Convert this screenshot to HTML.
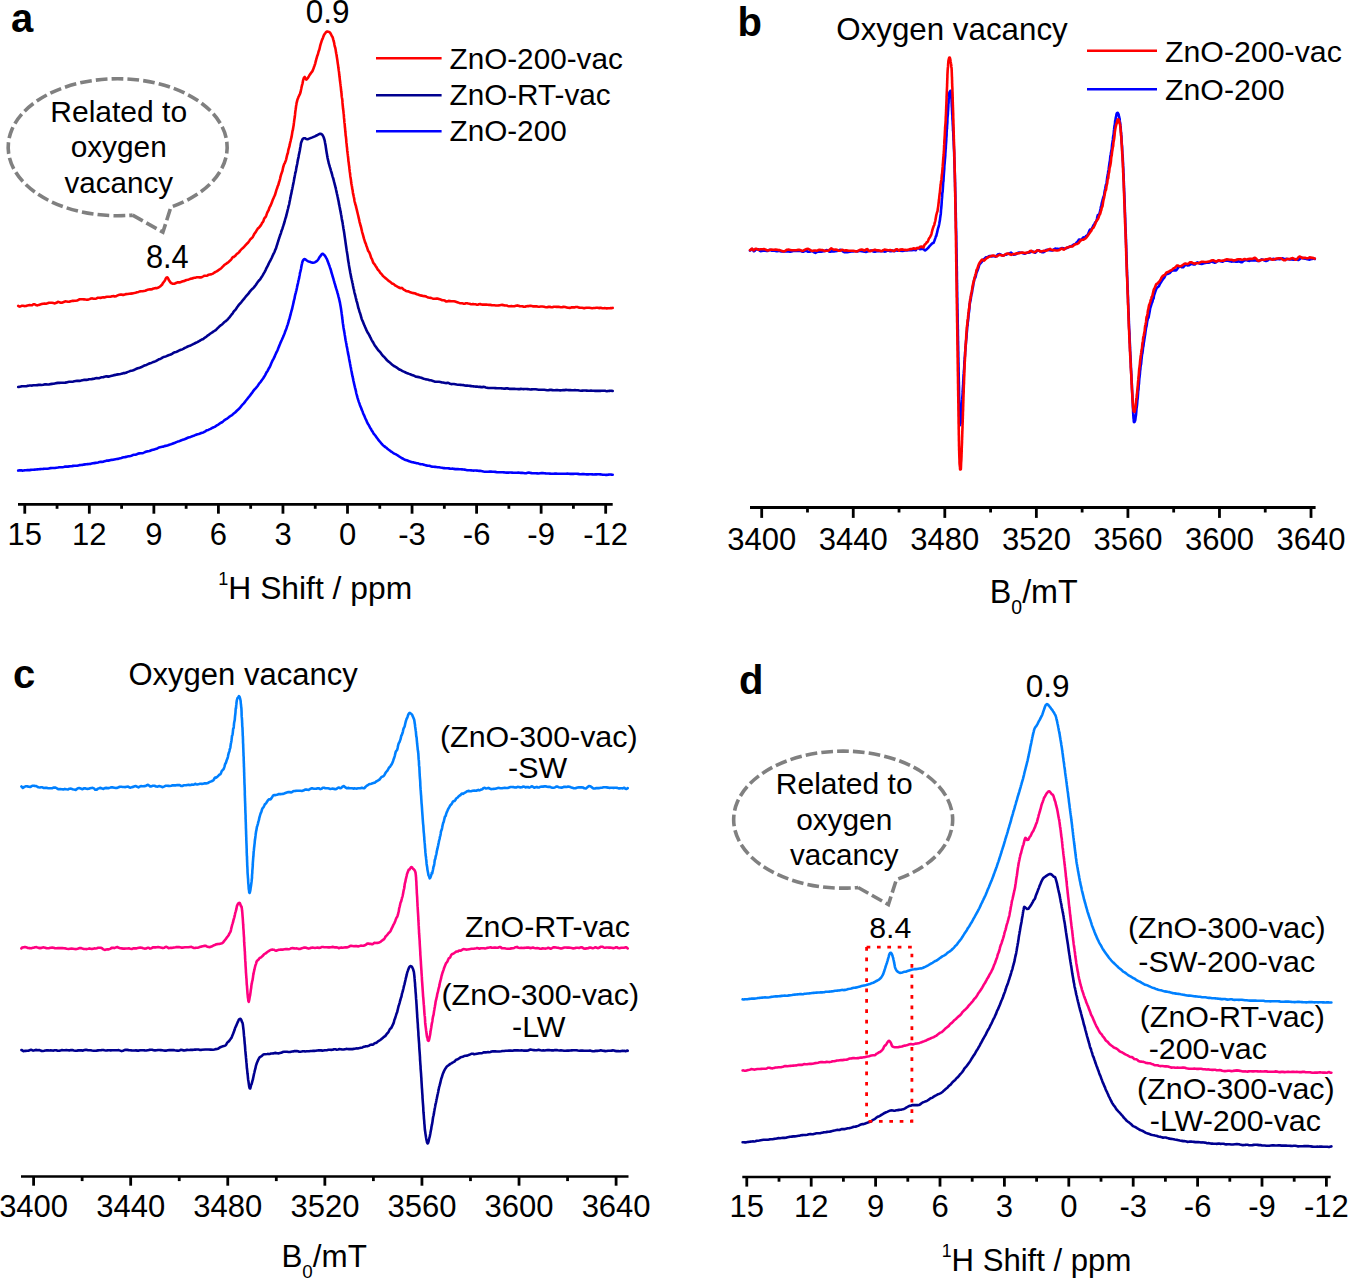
<!DOCTYPE html><html><head><meta charset="utf-8"><style>html,body{margin:0;padding:0;background:#fff;}svg{display:block;}text{font-family:"Liberation Sans",sans-serif;}</style></head><body>
<svg width="1348" height="1279" viewBox="0 0 1348 1279">
<rect width="1348" height="1279" fill="#fff"/>
<line x1="18.0" y1="504.30" x2="612.7" y2="504.30" stroke="#000" stroke-width="2.70"/>
<line x1="24.77" y1="504.30" x2="24.77" y2="513.70" stroke="#000" stroke-width="2.8"/>
<line x1="89.32" y1="504.30" x2="89.32" y2="513.70" stroke="#000" stroke-width="2.8"/>
<line x1="153.87" y1="504.30" x2="153.87" y2="513.70" stroke="#000" stroke-width="2.8"/>
<line x1="218.41" y1="504.30" x2="218.41" y2="513.70" stroke="#000" stroke-width="2.8"/>
<line x1="282.95" y1="504.30" x2="282.95" y2="513.70" stroke="#000" stroke-width="2.8"/>
<line x1="347.50" y1="504.30" x2="347.50" y2="513.70" stroke="#000" stroke-width="2.8"/>
<line x1="412.05" y1="504.30" x2="412.05" y2="513.70" stroke="#000" stroke-width="2.8"/>
<line x1="476.59" y1="504.30" x2="476.59" y2="513.70" stroke="#000" stroke-width="2.8"/>
<line x1="541.13" y1="504.30" x2="541.13" y2="513.70" stroke="#000" stroke-width="2.8"/>
<line x1="605.68" y1="504.30" x2="605.68" y2="513.70" stroke="#000" stroke-width="2.8"/>
<line x1="57.05" y1="504.30" x2="57.05" y2="508.80" stroke="#000" stroke-width="2.8"/>
<line x1="121.59" y1="504.30" x2="121.59" y2="508.80" stroke="#000" stroke-width="2.8"/>
<line x1="186.14" y1="504.30" x2="186.14" y2="508.80" stroke="#000" stroke-width="2.8"/>
<line x1="250.68" y1="504.30" x2="250.68" y2="508.80" stroke="#000" stroke-width="2.8"/>
<line x1="315.23" y1="504.30" x2="315.23" y2="508.80" stroke="#000" stroke-width="2.8"/>
<line x1="379.77" y1="504.30" x2="379.77" y2="508.80" stroke="#000" stroke-width="2.8"/>
<line x1="444.32" y1="504.30" x2="444.32" y2="508.80" stroke="#000" stroke-width="2.8"/>
<line x1="508.86" y1="504.30" x2="508.86" y2="508.80" stroke="#000" stroke-width="2.8"/>
<line x1="573.41" y1="504.30" x2="573.41" y2="508.80" stroke="#000" stroke-width="2.8"/>
<text transform="translate(24.8 545.0) scale(1 1.040)" font-size="31" text-anchor="middle" font-weight="normal" fill="#000">15</text>
<text transform="translate(89.3 545.0) scale(1 1.040)" font-size="31" text-anchor="middle" font-weight="normal" fill="#000">12</text>
<text transform="translate(153.9 545.0) scale(1 1.040)" font-size="31" text-anchor="middle" font-weight="normal" fill="#000">9</text>
<text transform="translate(218.4 545.0) scale(1 1.040)" font-size="31" text-anchor="middle" font-weight="normal" fill="#000">6</text>
<text transform="translate(283.0 545.0) scale(1 1.040)" font-size="31" text-anchor="middle" font-weight="normal" fill="#000">3</text>
<text transform="translate(347.5 545.0) scale(1 1.040)" font-size="31" text-anchor="middle" font-weight="normal" fill="#000">0</text>
<text transform="translate(412.0 545.0) scale(1 1.040)" font-size="31" text-anchor="middle" font-weight="normal" fill="#000">-3</text>
<text transform="translate(476.6 545.0) scale(1 1.040)" font-size="31" text-anchor="middle" font-weight="normal" fill="#000">-6</text>
<text transform="translate(541.1 545.0) scale(1 1.040)" font-size="31" text-anchor="middle" font-weight="normal" fill="#000">-9</text>
<text transform="translate(605.7 545.0) scale(1 1.040)" font-size="31" text-anchor="middle" font-weight="normal" fill="#000">-12</text>
<line x1="742.3" y1="1177.00" x2="1330.7" y2="1177.00" stroke="#000" stroke-width="2.70"/>
<line x1="746.79" y1="1177.00" x2="746.79" y2="1186.60" stroke="#000" stroke-width="2.8"/>
<line x1="811.20" y1="1177.00" x2="811.20" y2="1186.60" stroke="#000" stroke-width="2.8"/>
<line x1="875.60" y1="1177.00" x2="875.60" y2="1186.60" stroke="#000" stroke-width="2.8"/>
<line x1="940.00" y1="1177.00" x2="940.00" y2="1186.60" stroke="#000" stroke-width="2.8"/>
<line x1="1004.40" y1="1177.00" x2="1004.40" y2="1186.60" stroke="#000" stroke-width="2.8"/>
<line x1="1068.80" y1="1177.00" x2="1068.80" y2="1186.60" stroke="#000" stroke-width="2.8"/>
<line x1="1133.20" y1="1177.00" x2="1133.20" y2="1186.60" stroke="#000" stroke-width="2.8"/>
<line x1="1197.60" y1="1177.00" x2="1197.60" y2="1186.60" stroke="#000" stroke-width="2.8"/>
<line x1="1262.00" y1="1177.00" x2="1262.00" y2="1186.60" stroke="#000" stroke-width="2.8"/>
<line x1="1326.40" y1="1177.00" x2="1326.40" y2="1186.60" stroke="#000" stroke-width="2.8"/>
<line x1="779.00" y1="1177.00" x2="779.00" y2="1181.70" stroke="#000" stroke-width="2.8"/>
<line x1="843.40" y1="1177.00" x2="843.40" y2="1181.70" stroke="#000" stroke-width="2.8"/>
<line x1="907.80" y1="1177.00" x2="907.80" y2="1181.70" stroke="#000" stroke-width="2.8"/>
<line x1="972.20" y1="1177.00" x2="972.20" y2="1181.70" stroke="#000" stroke-width="2.8"/>
<line x1="1036.60" y1="1177.00" x2="1036.60" y2="1181.70" stroke="#000" stroke-width="2.8"/>
<line x1="1101.00" y1="1177.00" x2="1101.00" y2="1181.70" stroke="#000" stroke-width="2.8"/>
<line x1="1165.40" y1="1177.00" x2="1165.40" y2="1181.70" stroke="#000" stroke-width="2.8"/>
<line x1="1229.80" y1="1177.00" x2="1229.80" y2="1181.70" stroke="#000" stroke-width="2.8"/>
<line x1="1294.20" y1="1177.00" x2="1294.20" y2="1181.70" stroke="#000" stroke-width="2.8"/>
<text transform="translate(746.8 1216.8) scale(1 1.040)" font-size="31" text-anchor="middle" font-weight="normal" fill="#000">15</text>
<text transform="translate(811.2 1216.8) scale(1 1.040)" font-size="31" text-anchor="middle" font-weight="normal" fill="#000">12</text>
<text transform="translate(875.6 1216.8) scale(1 1.040)" font-size="31" text-anchor="middle" font-weight="normal" fill="#000">9</text>
<text transform="translate(940.0 1216.8) scale(1 1.040)" font-size="31" text-anchor="middle" font-weight="normal" fill="#000">6</text>
<text transform="translate(1004.4 1216.8) scale(1 1.040)" font-size="31" text-anchor="middle" font-weight="normal" fill="#000">3</text>
<text transform="translate(1068.8 1216.8) scale(1 1.040)" font-size="31" text-anchor="middle" font-weight="normal" fill="#000">0</text>
<text transform="translate(1133.2 1216.8) scale(1 1.040)" font-size="31" text-anchor="middle" font-weight="normal" fill="#000">-3</text>
<text transform="translate(1197.6 1216.8) scale(1 1.040)" font-size="31" text-anchor="middle" font-weight="normal" fill="#000">-6</text>
<text transform="translate(1262.0 1216.8) scale(1 1.040)" font-size="31" text-anchor="middle" font-weight="normal" fill="#000">-9</text>
<text transform="translate(1326.4 1216.8) scale(1 1.040)" font-size="31" text-anchor="middle" font-weight="normal" fill="#000">-12</text>
<line x1="750.0" y1="507.50" x2="1315.6" y2="507.50" stroke="#000" stroke-width="2.85"/>
<line x1="761.70" y1="507.50" x2="761.70" y2="517.90" stroke="#000" stroke-width="2.8"/>
<line x1="853.25" y1="507.50" x2="853.25" y2="517.90" stroke="#000" stroke-width="2.8"/>
<line x1="944.80" y1="507.50" x2="944.80" y2="517.90" stroke="#000" stroke-width="2.8"/>
<line x1="1036.36" y1="507.50" x2="1036.36" y2="517.90" stroke="#000" stroke-width="2.8"/>
<line x1="1127.91" y1="507.50" x2="1127.91" y2="517.90" stroke="#000" stroke-width="2.8"/>
<line x1="1219.46" y1="507.50" x2="1219.46" y2="517.90" stroke="#000" stroke-width="2.8"/>
<line x1="1311.01" y1="507.50" x2="1311.01" y2="517.90" stroke="#000" stroke-width="2.8"/>
<line x1="807.48" y1="507.50" x2="807.48" y2="512.50" stroke="#000" stroke-width="2.8"/>
<line x1="899.03" y1="507.50" x2="899.03" y2="512.50" stroke="#000" stroke-width="2.8"/>
<line x1="990.58" y1="507.50" x2="990.58" y2="512.50" stroke="#000" stroke-width="2.8"/>
<line x1="1082.13" y1="507.50" x2="1082.13" y2="512.50" stroke="#000" stroke-width="2.8"/>
<line x1="1173.68" y1="507.50" x2="1173.68" y2="512.50" stroke="#000" stroke-width="2.8"/>
<line x1="1265.24" y1="507.50" x2="1265.24" y2="512.50" stroke="#000" stroke-width="2.8"/>
<text transform="translate(761.7 550.3) scale(1 1.040)" font-size="31" text-anchor="middle" font-weight="normal" fill="#000">3400</text>
<text transform="translate(853.3 550.3) scale(1 1.040)" font-size="31" text-anchor="middle" font-weight="normal" fill="#000">3440</text>
<text transform="translate(944.8 550.3) scale(1 1.040)" font-size="31" text-anchor="middle" font-weight="normal" fill="#000">3480</text>
<text transform="translate(1036.4 550.3) scale(1 1.040)" font-size="31" text-anchor="middle" font-weight="normal" fill="#000">3520</text>
<text transform="translate(1127.9 550.3) scale(1 1.040)" font-size="31" text-anchor="middle" font-weight="normal" fill="#000">3560</text>
<text transform="translate(1219.5 550.3) scale(1 1.040)" font-size="31" text-anchor="middle" font-weight="normal" fill="#000">3600</text>
<text transform="translate(1311.0 550.3) scale(1 1.040)" font-size="31" text-anchor="middle" font-weight="normal" fill="#000">3640</text>
<line x1="21.0" y1="1176.50" x2="628.5" y2="1176.50" stroke="#000" stroke-width="2.70"/>
<line x1="33.60" y1="1176.50" x2="33.60" y2="1185.70" stroke="#000" stroke-width="2.8"/>
<line x1="130.68" y1="1176.50" x2="130.68" y2="1185.70" stroke="#000" stroke-width="2.8"/>
<line x1="227.77" y1="1176.50" x2="227.77" y2="1185.70" stroke="#000" stroke-width="2.8"/>
<line x1="324.85" y1="1176.50" x2="324.85" y2="1185.70" stroke="#000" stroke-width="2.8"/>
<line x1="421.94" y1="1176.50" x2="421.94" y2="1185.70" stroke="#000" stroke-width="2.8"/>
<line x1="519.02" y1="1176.50" x2="519.02" y2="1185.70" stroke="#000" stroke-width="2.8"/>
<line x1="616.10" y1="1176.50" x2="616.10" y2="1185.70" stroke="#000" stroke-width="2.8"/>
<line x1="82.14" y1="1176.50" x2="82.14" y2="1181.10" stroke="#000" stroke-width="2.8"/>
<line x1="179.23" y1="1176.50" x2="179.23" y2="1181.10" stroke="#000" stroke-width="2.8"/>
<line x1="276.31" y1="1176.50" x2="276.31" y2="1181.10" stroke="#000" stroke-width="2.8"/>
<line x1="373.39" y1="1176.50" x2="373.39" y2="1181.10" stroke="#000" stroke-width="2.8"/>
<line x1="470.48" y1="1176.50" x2="470.48" y2="1181.10" stroke="#000" stroke-width="2.8"/>
<line x1="567.56" y1="1176.50" x2="567.56" y2="1181.10" stroke="#000" stroke-width="2.8"/>
<text transform="translate(33.6 1216.6) scale(1 1.040)" font-size="31" text-anchor="middle" font-weight="normal" fill="#000">3400</text>
<text transform="translate(130.7 1216.6) scale(1 1.040)" font-size="31" text-anchor="middle" font-weight="normal" fill="#000">3440</text>
<text transform="translate(227.8 1216.6) scale(1 1.040)" font-size="31" text-anchor="middle" font-weight="normal" fill="#000">3480</text>
<text transform="translate(324.9 1216.6) scale(1 1.040)" font-size="31" text-anchor="middle" font-weight="normal" fill="#000">3520</text>
<text transform="translate(421.9 1216.6) scale(1 1.040)" font-size="31" text-anchor="middle" font-weight="normal" fill="#000">3560</text>
<text transform="translate(519.0 1216.6) scale(1 1.040)" font-size="31" text-anchor="middle" font-weight="normal" fill="#000">3600</text>
<text transform="translate(616.1 1216.6) scale(1 1.040)" font-size="31" text-anchor="middle" font-weight="normal" fill="#000">3640</text>
<path d="M18.2 305.9L18.9 306.3L19.6 306.6L20.4 306.4L21.2 306.1L22.1 305.8L23.0 305.8L24.0 306.0L25.1 306.1L26.1 305.9L27.3 305.6L28.4 305.2L29.6 305.1L30.8 305.3L32.1 305.3L33.4 304.3L34.7 304.2L36.0 305.1L37.4 305.4L38.8 304.9L40.2 304.5L41.6 304.1L43.1 303.7L44.5 303.6L46.0 303.7L47.5 303.3L49.0 302.8L50.5 302.8L52.0 302.8L53.4 303.0L54.9 303.4L56.4 302.8L57.9 301.8L59.4 302.2L60.8 302.7L62.3 302.6L63.7 302.0L65.2 301.4L66.6 301.5L68.0 301.7L69.3 301.7L70.6 301.2L72.0 300.9L73.2 300.9L74.5 300.7L75.7 300.7L77.1 300.5L78.5 299.8L79.9 299.3L81.3 299.2L82.6 299.3L84.0 299.4L85.4 299.5L86.8 299.7L88.2 299.6L89.6 299.1L91.0 298.5L92.4 298.4L93.7 298.7L95.1 298.7L96.5 298.4L97.8 297.8L99.2 297.7L100.5 297.9L101.9 297.5L103.2 297.3L104.5 297.5L105.8 297.1L107.1 296.8L108.4 296.7L109.7 296.7L111.0 296.6L112.2 296.2L113.5 296.1L114.7 296.5L115.9 296.3L117.1 295.7L118.3 295.1L119.4 294.7L120.6 294.5L121.7 294.6L122.8 294.9L123.9 294.9L125.0 294.4L126.0 294.1L127.7 294.0L129.3 293.8L130.9 293.6L132.5 293.4L134.0 293.1L135.6 292.7L137.0 292.3L138.5 291.9L139.9 291.4L141.3 291.3L142.6 291.2L143.9 291.0L145.2 290.8L146.4 290.3L147.6 289.7L148.8 289.5L149.9 289.4L150.9 289.4L152.0 289.2L152.9 288.8L153.9 288.4L154.8 288.2L155.6 288.1L156.4 288.2L158.6 287.5L160.1 286.5L161.0 285.6L161.6 285.2L162.0 284.8L162.4 284.0L163.0 283.0L163.8 281.9L164.6 281.0L165.2 279.8L165.9 278.3L166.5 277.6L167.2 277.4L167.8 277.8L168.3 278.8L168.8 280.0L169.5 281.0L170.3 282.2L171.5 283.3L172.4 283.6L173.5 283.8L174.7 283.7L176.0 283.0L177.4 282.4L178.8 282.4L180.1 282.4L181.5 281.8L182.8 281.3L184.0 281.1L185.3 280.5L186.5 280.0L187.7 279.8L188.9 279.4L190.1 278.9L191.2 278.6L192.3 278.5L193.4 278.0L194.5 277.7L195.8 277.6L197.1 277.3L198.2 277.3L199.4 277.4L200.6 277.4L201.8 277.2L203.0 276.5L204.1 275.8L205.3 275.8L206.4 275.8L207.6 275.4L208.7 274.7L209.9 274.5L211.1 274.4L212.3 273.9L213.4 273.3L214.5 272.5L215.6 271.9L216.7 271.4L217.8 270.7L218.9 269.8L219.9 269.2L221.0 268.5L222.0 267.4L223.0 266.4L224.0 265.3L225.0 264.5L226.0 263.9L226.9 263.2L227.8 262.6L228.7 262.0L229.4 261.2L230.1 260.6L231.1 259.6L231.7 258.7L232.2 257.8L233.1 257.1L233.8 256.9L234.5 256.3L235.4 255.7L236.2 254.6L237.2 253.6L238.1 253.1L239.1 252.1L240.0 250.9L240.8 250.0L241.7 249.0L242.6 248.3L243.5 247.5L244.5 246.4L245.4 245.3L246.3 244.3L247.1 243.5L248.0 242.7L248.7 241.8L249.5 240.6L250.1 239.6L250.8 238.9L251.5 238.3L252.2 237.6L252.9 236.8L253.6 235.3L254.3 233.9L255.0 233.0L255.7 232.1L256.4 230.9L257.1 229.7L257.8 228.6L258.6 227.9L259.3 227.3L260.0 226.4L260.8 225.4L261.5 224.1L262.1 222.9L262.8 222.2L263.4 221.1L264.0 219.2L264.6 218.0L265.2 217.4L265.8 216.6L266.3 215.4L266.8 213.9L267.4 212.3L267.9 211.3L268.5 210.5L269.0 209.0L269.5 207.4L270.0 206.6L270.5 205.8L271.0 204.6L271.4 203.5L271.9 202.4L272.4 200.9L272.9 199.5L273.3 198.6L273.8 197.5L274.3 196.3L274.7 195.5L275.1 194.6L275.5 193.2L275.9 191.8L276.3 190.4L276.7 189.2L277.1 188.3L277.5 186.9L277.9 185.7L278.3 185.1L278.6 183.8L279.0 182.3L279.4 181.2L279.7 180.2L280.1 178.8L280.4 177.1L280.8 175.7L281.1 174.7L281.4 173.7L281.8 172.6L282.1 171.8L282.4 171.0L282.7 169.5L283.0 167.9L283.3 167.0L283.6 165.9L284.0 164.5L284.3 163.9L284.7 163.3L285.0 162.5L285.3 161.7L285.7 160.7L286.1 159.6L286.5 157.8L287.0 155.6L287.2 154.8L287.5 154.1L287.7 153.4L288.0 152.3L288.2 150.7L288.5 149.4L288.8 148.4L289.1 147.4L289.4 146.5L289.7 145.1L290.0 143.3L290.3 142.2L290.6 141.1L290.9 139.6L291.2 138.3L291.5 137.2L291.7 136.0L292.0 134.2L292.3 132.2L292.5 131.0L292.8 130.2L293.0 129.0L293.2 127.8L293.4 126.6L293.7 125.0L293.8 123.8L294.0 122.4L294.2 120.6L294.4 119.3L294.6 118.0L294.8 116.8L294.9 115.8L295.1 114.2L295.2 112.6L295.4 111.1L295.6 109.7L295.7 108.8L295.9 107.9L296.0 106.6L296.2 105.4L296.4 104.5L296.5 103.6L296.7 102.6L297.2 100.6L297.6 99.2L298.1 98.0L298.5 96.8L299.0 95.9L299.4 95.0L299.9 94.1L300.3 93.0L300.6 91.9L300.9 90.5L301.2 89.1L301.5 87.5L301.9 85.8L302.2 84.6L302.5 83.6L302.8 82.0L303.1 80.3L303.4 79.3L303.6 78.7L303.9 77.8L304.8 77.0L305.5 78.5L306.4 79.6L307.0 79.0L307.8 78.1L308.5 77.0L309.3 75.5L310.0 74.4L310.6 73.6L311.2 72.7L311.7 72.1L312.3 71.4L312.9 70.1L313.6 68.3L313.9 67.4L314.2 66.4L314.6 65.4L314.9 64.5L315.3 63.3L315.6 61.8L316.0 60.5L316.3 59.2L316.7 57.8L317.1 56.4L317.4 55.5L317.8 54.6L318.1 53.5L318.5 51.9L318.9 50.6L319.3 49.7L319.7 48.0L320.1 46.2L320.5 44.7L320.9 43.4L321.3 42.1L321.7 40.8L322.1 39.8L322.5 38.9L322.9 37.9L323.3 36.8L324.0 35.0L324.7 33.9L325.4 33.0L326.1 32.0L326.8 31.5L327.5 31.5L328.4 31.8L329.2 32.0L330.1 32.8L331.0 34.2L331.8 36.0L332.2 36.5L332.5 37.0L332.9 38.1L333.2 39.4L333.5 40.5L333.9 41.8L334.2 43.3L334.5 45.0L334.8 46.5L335.2 47.5L335.5 48.9L335.7 50.1L335.9 51.6L336.1 52.9L336.3 53.8L336.5 54.6L336.6 55.6L336.8 56.7L337.0 58.0L337.2 59.3L337.4 60.5L337.6 62.1L337.8 63.6L338.0 64.8L338.2 66.1L338.3 67.3L338.5 68.5L338.7 70.2L338.9 71.4L339.1 72.7L339.2 74.3L339.4 75.6L339.5 76.8L339.7 78.0L339.8 79.2L339.9 80.3L340.1 81.5L340.2 82.3L340.3 83.2L340.5 84.5L340.6 85.9L340.8 87.1L340.9 88.2L341.0 89.5L341.2 91.1L341.3 92.1L341.5 93.2L341.6 94.8L341.7 96.2L341.9 97.4L342.1 98.4L342.2 99.2L342.4 100.7L342.5 102.9L342.7 105.1L342.8 106.0L342.9 106.8L343.0 108.3L343.2 109.6L343.3 110.2L343.4 111.1L343.5 112.2L343.6 113.4L343.8 114.6L343.9 116.2L344.0 117.9L344.2 119.4L344.3 120.9L344.4 122.2L344.5 123.0L344.7 124.1L344.8 125.8L344.9 127.3L345.1 128.6L345.2 130.1L345.3 131.5L345.5 133.0L345.6 134.6L345.7 135.8L345.9 136.5L346.0 137.6L346.2 139.4L346.3 141.3L346.4 142.7L346.6 143.7L346.7 145.0L346.8 146.5L347.0 147.5L347.1 148.7L347.2 150.2L347.3 151.3L347.5 152.3L347.6 153.4L347.8 154.7L347.9 155.9L348.1 157.3L348.3 159.2L348.4 161.0L348.6 162.1L348.8 163.3L348.9 164.6L349.1 165.8L349.3 167.2L349.4 168.7L349.6 170.1L349.7 171.4L349.9 172.6L350.1 173.7L350.2 175.2L350.4 176.7L350.6 177.8L350.7 178.4L350.9 179.7L351.1 181.4L351.2 182.6L351.4 183.7L351.6 184.6L351.7 185.2L351.9 186.2L352.1 187.5L352.2 188.6L352.4 189.3L352.7 190.8L352.9 192.7L353.2 194.2L353.5 195.3L353.7 196.5L354.0 197.8L354.3 199.3L354.5 201.0L354.8 202.1L355.1 203.1L355.3 204.3L355.6 205.0L355.9 205.9L356.1 207.2L356.4 208.2L356.7 209.4L357.0 210.6L357.2 211.5L357.5 212.8L357.8 214.0L358.1 215.2L358.4 216.6L358.7 217.9L359.0 219.1L359.3 220.6L359.6 222.1L359.9 223.1L360.2 224.1L360.5 225.5L360.9 226.7L361.2 227.8L361.5 229.2L361.8 230.5L362.1 231.8L362.4 232.9L362.7 233.9L363.1 235.3L363.5 236.9L363.9 238.4L364.3 239.6L364.7 241.0L365.1 242.3L365.5 243.1L365.9 244.1L366.3 245.4L366.7 246.4L367.1 247.6L367.6 249.1L368.0 250.5L368.5 251.4L369.0 251.9L369.5 252.9L370.0 254.2L370.5 255.7L371.0 257.4L371.5 258.4L372.0 259.2L372.5 260.6L373.0 262.1L373.5 263.1L374.0 263.6L374.7 264.5L375.4 265.7L376.1 266.7L376.8 267.8L377.4 269.0L378.1 270.0L378.8 270.6L379.5 271.6L380.3 272.9L381.1 273.7L382.0 274.6L382.8 275.8L383.7 276.6L384.5 277.3L385.4 278.1L386.3 278.8L387.2 279.6L388.2 280.4L389.1 281.1L390.1 281.8L391.0 282.6L392.0 283.4L392.9 283.7L393.8 284.1L394.6 285.0L395.5 285.7L396.5 286.2L397.7 286.8L399.0 287.5L399.9 288.0L400.8 288.1L401.7 287.9L402.7 288.6L403.7 289.6L404.8 290.2L406.0 290.9L407.2 291.2L408.4 291.4L409.7 292.0L411.1 292.6L412.6 293.0L413.6 293.1L414.7 293.2L415.8 293.7L416.9 294.2L418.0 294.5L419.2 295.1L420.4 295.4L421.6 295.6L422.9 296.0L424.2 296.1L425.5 296.3L426.8 296.9L428.2 297.5L429.5 297.7L430.9 297.9L432.3 298.4L433.8 298.7L435.2 298.7L436.3 298.6L437.5 298.5L438.7 298.9L439.9 299.3L441.1 299.7L442.3 300.2L443.5 300.3L444.8 300.6L446.0 301.5L447.3 301.4L448.6 300.9L449.9 301.1L451.2 301.3L452.5 301.2L453.8 301.3L455.2 301.6L456.5 302.0L457.9 302.4L459.2 302.9L460.6 303.2L461.9 303.3L463.3 303.6L464.7 303.7L465.9 303.3L467.0 303.2L468.2 303.5L469.4 303.7L470.6 304.1L471.7 304.2L472.9 304.0L474.1 304.3L475.3 304.3L476.5 304.6L477.7 304.8L478.9 304.2L480.1 304.0L481.3 304.5L482.6 304.6L483.8 304.6L485.1 304.6L486.4 304.5L487.7 304.7L489.0 304.9L490.3 304.9L491.6 305.1L493.0 305.2L494.4 305.3L495.8 305.5L497.2 305.5L498.7 305.4L499.8 305.2L501.0 305.0L502.1 304.9L503.2 305.1L504.4 305.4L505.5 305.5L506.7 305.5L507.8 305.9L509.0 306.3L510.1 306.2L511.3 306.1L512.5 306.3L513.7 306.3L514.9 306.1L516.1 305.7L517.3 305.4L518.6 305.8L519.8 306.3L521.1 306.3L522.4 306.2L523.7 306.7L525.0 306.8L526.3 306.2L527.7 306.1L529.0 306.1L530.4 305.7L531.8 306.0L533.3 306.4L534.7 306.4L536.2 306.3L537.7 306.6L539.2 306.7L540.8 306.5L542.4 306.5L544.0 306.7L545.1 307.0L546.2 307.2L547.4 307.1L548.6 306.9L549.9 306.8L551.1 307.2L552.4 307.3L553.8 306.8L555.1 306.7L556.5 306.9L557.9 306.9L559.3 306.9L560.8 307.2L562.2 307.1L563.7 306.9L565.2 307.0L566.7 307.4L568.2 307.8L569.7 307.9L571.3 307.4L572.8 307.3L574.3 307.4L575.8 307.0L577.4 307.0L578.9 307.6L580.4 307.7L581.9 307.7L583.4 308.1L584.9 308.1L586.4 307.7L587.9 307.8L589.3 307.8L590.8 308.0L592.2 308.2L593.6 308.0L594.9 308.0L596.3 307.8L597.6 307.8L598.9 308.1L600.1 307.9L601.3 307.9L602.5 308.2L603.7 308.2L604.8 308.1L605.8 308.2L606.9 308.4L607.8 308.3L608.8 308.3L609.7 308.2L610.5 308.1L611.3 308.3L612.0 308.1L612.7 307.9" fill="none" stroke="#ff0000" stroke-width="2.6" stroke-linejoin="round" stroke-linecap="round"/>
<path d="M18.2 387.0L18.9 386.9L19.6 386.7L20.4 386.6L21.2 386.4L22.1 386.3L23.0 386.2L24.0 386.2L25.1 386.2L26.1 386.2L27.3 385.9L28.4 385.7L29.6 385.5L30.8 385.5L32.1 385.6L33.4 385.3L34.7 385.3L36.0 385.3L37.4 385.1L38.8 384.9L40.2 384.9L41.6 385.0L43.1 384.8L44.5 384.4L46.0 384.3L47.5 384.5L49.0 384.5L50.5 384.1L52.0 383.9L53.4 383.8L54.9 383.4L56.4 383.1L57.9 382.9L59.4 382.9L60.8 382.8L62.3 382.7L63.7 382.7L65.2 382.6L66.6 382.4L68.0 382.1L69.3 381.8L70.6 381.7L72.0 381.7L73.2 381.6L74.5 381.3L75.7 381.0L77.0 380.9L78.4 380.9L79.7 380.9L81.1 380.6L82.4 380.2L83.7 379.9L85.1 379.9L86.4 379.9L87.7 379.7L89.0 379.3L90.3 379.2L91.6 379.1L92.9 378.9L94.2 378.7L95.5 378.3L96.8 378.1L98.1 378.2L99.4 378.1L100.6 377.6L101.9 377.3L103.2 377.2L104.4 376.7L105.7 376.4L106.9 376.4L108.2 376.6L109.4 376.4L110.6 376.1L111.9 375.7L113.1 375.4L114.3 375.1L115.5 374.9L116.7 374.6L117.9 374.4L119.1 374.2L120.2 374.1L121.4 373.8L122.6 373.4L123.7 373.1L124.9 373.1L126.0 372.8L127.3 372.1L128.7 371.6L130.0 371.1L131.3 370.8L132.6 370.5L133.9 370.1L135.2 369.4L136.5 368.8L137.7 368.3L139.0 367.9L140.3 367.5L141.5 367.0L142.8 366.4L144.0 365.7L145.2 365.3L146.4 364.9L147.6 364.3L148.8 363.7L150.0 363.2L151.2 362.9L152.4 362.4L153.5 361.9L154.7 361.5L155.8 361.1L156.9 360.5L158.0 359.8L159.1 359.2L160.2 358.9L161.3 358.3L162.4 357.6L163.4 357.1L164.5 356.8L165.5 356.5L166.5 356.1L167.9 355.5L169.3 354.9L170.7 354.5L172.0 353.8L173.4 352.9L174.7 352.3L176.0 351.9L177.2 351.5L178.5 350.8L179.7 350.2L180.9 349.7L182.1 349.4L183.3 348.9L184.4 348.2L185.5 347.6L186.6 347.1L187.7 346.5L188.7 346.1L189.7 345.7L190.7 345.4L191.7 344.9L192.7 344.4L193.6 343.9L194.5 343.5L196.0 342.7L197.3 342.1L198.5 341.5L199.6 340.8L200.7 340.1L201.7 339.6L202.6 339.3L203.5 338.8L204.4 338.0L205.3 337.4L206.3 336.7L207.2 335.9L208.3 335.2L209.4 334.4L210.3 333.6L211.3 333.0L212.3 332.4L213.3 331.6L214.3 331.0L215.3 330.4L216.4 329.5L217.4 328.4L218.5 327.3L219.5 326.3L220.6 325.4L221.6 324.7L222.6 323.9L223.6 322.9L224.5 322.0L225.5 321.3L226.4 320.7L227.2 319.9L228.2 318.8L229.0 317.8L229.9 316.8L230.7 315.7L231.5 314.7L232.2 313.9L232.9 312.9L233.6 311.8L234.3 310.9L235.1 310.1L235.8 309.2L236.5 308.2L237.3 307.1L238.1 305.9L239.0 304.7L239.8 303.8L240.6 303.0L241.4 302.1L242.2 301.0L243.1 299.9L244.0 298.9L244.8 297.8L245.7 296.7L246.6 295.7L247.5 294.7L248.4 293.6L249.3 292.4L250.1 291.3L250.9 290.4L251.7 289.5L252.5 288.8L253.2 288.1L253.9 287.3L254.9 286.1L255.8 285.0L256.6 283.8L257.4 282.6L258.2 281.5L258.9 280.6L259.6 280.0L260.3 279.2L260.9 278.1L261.6 277.0L262.2 276.2L262.8 275.2L263.5 273.9L264.1 272.9L264.7 271.9L265.3 270.7L265.8 269.6L266.3 268.4L266.9 267.3L267.4 266.4L267.9 265.4L268.5 264.1L269.0 263.0L269.6 261.9L270.2 260.8L270.8 259.7L271.4 258.5L271.9 257.5L272.5 256.1L273.1 254.7L273.6 253.6L274.2 252.6L274.7 251.4L275.1 250.3L275.5 249.3L276.0 248.3L276.4 246.9L276.8 245.6L277.2 244.6L277.5 243.4L277.9 242.2L278.3 241.0L278.6 239.9L279.0 238.7L279.4 237.5L279.7 236.5L280.1 235.3L280.6 234.0L281.0 232.8L281.3 231.7L281.7 230.5L282.1 229.4L282.5 228.4L282.8 227.4L283.2 226.2L283.6 224.9L284.0 223.8L284.3 222.7L284.7 221.4L285.0 220.0L285.4 218.6L285.8 217.6L286.1 216.4L286.5 214.9L286.8 213.5L287.2 212.2L287.5 210.8L287.8 209.5L288.1 208.5L288.3 207.4L288.6 206.1L288.9 205.1L289.2 204.0L289.4 202.7L289.7 201.3L290.0 199.9L290.2 198.6L290.5 197.4L290.7 196.1L291.0 194.8L291.3 193.7L291.5 192.5L291.8 191.1L292.0 189.9L292.3 188.8L292.5 187.5L292.8 186.2L293.0 185.0L293.3 183.9L293.5 182.7L293.8 181.3L294.0 180.1L294.2 178.8L294.5 177.6L294.7 176.4L295.0 174.8L295.2 173.4L295.5 172.5L295.7 171.6L296.0 170.3L296.2 168.9L296.4 167.6L296.7 166.4L296.9 165.3L297.2 164.0L297.4 162.7L297.6 161.4L297.9 160.1L298.1 158.9L298.4 157.9L298.6 156.7L298.8 155.2L299.1 153.9L299.3 153.0L299.5 152.0L299.8 150.5L300.0 149.2L300.2 147.9L300.5 146.5L300.7 145.1L300.9 143.8L301.1 142.8L301.4 141.9L302.0 140.4L302.5 139.2L303.2 138.6L303.9 138.3L304.9 138.2L306.1 138.9L307.6 139.3L308.6 138.9L309.8 138.4L311.1 137.9L312.4 137.4L313.6 136.9L314.8 136.4L315.9 135.8L317.0 135.3L318.1 134.7L319.1 134.1L320.0 133.7L320.9 133.8L321.6 134.2L322.3 134.8L322.8 135.6L323.4 136.6L323.9 138.0L324.5 139.9L324.7 140.7L324.9 141.7L325.1 143.0L325.3 144.0L325.5 145.0L325.7 146.0L325.8 147.1L326.0 148.3L326.2 149.7L326.4 151.0L326.6 152.2L326.8 153.6L327.1 155.1L327.3 156.6L327.6 158.1L327.9 159.4L328.2 160.7L328.5 161.9L328.7 163.1L329.0 164.0L329.3 165.0L329.6 166.2L329.9 167.2L330.3 168.2L330.6 169.4L330.9 170.6L331.3 171.7L331.6 173.0L332.0 174.2L332.3 175.4L332.7 176.8L333.1 178.0L333.4 179.2L333.8 180.6L334.1 181.9L334.5 183.3L334.8 184.7L335.2 186.0L335.5 187.4L335.8 188.4L336.0 189.5L336.3 190.8L336.5 191.9L336.8 193.0L337.0 194.1L337.3 195.2L337.5 196.2L337.8 197.5L338.0 198.9L338.3 200.0L338.5 201.1L338.8 202.6L339.0 204.1L339.3 205.2L339.5 206.3L339.8 207.7L340.0 209.1L340.3 210.3L340.5 211.6L340.8 213.0L341.0 214.2L341.3 215.5L341.5 216.9L341.7 218.3L342.0 219.9L342.2 221.1L342.5 222.1L342.7 223.6L342.9 225.0L343.1 226.1L343.3 227.5L343.5 228.9L343.7 230.1L343.9 231.1L344.1 232.3L344.3 233.6L344.5 235.1L344.7 236.6L344.9 237.9L345.1 239.2L345.3 240.7L345.5 242.2L345.7 243.7L345.9 245.0L346.1 246.3L346.3 247.7L346.5 249.1L346.7 250.5L346.9 251.7L347.1 252.9L347.3 254.1L347.5 255.3L347.7 256.8L347.9 258.3L348.0 259.5L348.2 260.6L348.4 261.7L348.6 262.7L348.8 263.8L348.9 264.9L349.1 266.1L349.4 267.8L349.7 269.4L350.0 270.9L350.2 272.4L350.5 273.8L350.8 275.2L351.0 276.6L351.3 277.9L351.6 279.0L351.8 280.0L352.1 281.2L352.3 282.5L352.6 283.5L352.8 284.5L353.0 285.7L353.3 287.2L353.5 288.3L353.8 289.2L354.0 290.1L354.3 291.7L354.6 293.1L354.9 294.1L355.2 295.2L355.5 296.5L355.8 297.8L356.1 298.9L356.3 299.9L356.6 301.1L356.9 302.0L357.2 302.9L357.5 304.2L357.8 305.6L358.1 306.9L358.4 308.1L358.8 309.0L359.1 310.2L359.5 311.7L359.9 312.7L360.2 313.6L360.6 314.9L361.0 316.4L361.3 317.7L361.7 318.9L362.2 320.1L362.6 321.0L363.0 321.9L363.5 323.2L364.0 324.5L364.5 325.6L365.0 326.8L365.6 328.1L366.1 329.4L366.7 330.7L367.3 331.8L367.8 332.8L368.4 333.6L369.0 334.6L369.5 335.7L370.1 336.9L370.8 338.2L371.4 339.5L372.0 340.6L372.6 341.5L373.2 342.5L373.8 343.7L374.5 344.9L375.2 345.9L376.0 347.0L376.7 348.1L377.4 349.0L378.1 350.0L378.9 350.8L379.7 351.7L380.5 352.6L381.3 353.7L382.1 354.9L383.0 355.9L383.8 356.6L384.6 357.4L385.4 358.3L386.3 359.5L387.3 360.5L388.2 361.3L389.1 361.9L390.0 362.7L390.9 363.6L391.9 364.4L392.9 365.2L393.9 366.0L395.0 366.5L396.0 367.1L396.9 367.7L397.9 368.4L398.9 369.2L400.0 369.7L401.0 370.2L402.1 370.8L403.2 371.4L404.4 371.9L405.6 372.5L406.8 373.0L408.0 373.4L409.1 373.9L410.2 374.3L411.4 374.8L412.6 375.2L413.8 375.6L415.0 376.2L416.2 376.7L417.5 376.9L418.8 377.1L420.0 377.4L421.3 377.7L422.5 378.2L423.8 378.7L425.0 379.1L426.2 379.4L427.3 379.5L428.4 379.8L429.5 380.2L430.6 380.3L431.7 380.6L432.8 380.9L433.9 381.3L435.1 381.7L436.3 381.8L437.6 381.8L439.0 381.8L440.4 382.0L442.0 382.4L443.0 382.6L444.1 382.8L445.3 383.0L446.4 383.1L447.6 382.8L448.8 383.1L450.1 383.7L451.3 384.1L452.6 384.0L453.9 384.0L455.3 384.2L456.6 384.5L458.0 384.7L459.3 384.8L460.7 384.9L462.0 385.0L463.4 385.1L464.7 385.5L466.1 385.6L467.4 385.6L468.7 385.7L470.0 385.9L471.2 386.1L472.4 386.3L473.5 386.4L474.7 386.5L475.8 386.6L476.9 386.5L478.0 386.7L479.0 386.9L480.1 386.9L481.2 387.1L482.3 387.1L483.5 386.9L484.6 387.0L485.8 387.4L487.0 387.7L488.3 388.0L489.6 388.0L490.9 388.0L492.4 388.0L493.8 388.0L495.4 388.1L497.0 388.2L498.7 388.2L499.7 388.2L500.7 388.3L501.8 388.4L502.9 388.5L504.0 388.6L505.1 388.6L506.2 388.4L507.3 388.4L508.5 388.6L509.7 388.9L510.9 388.9L512.1 388.9L513.3 388.9L514.5 388.8L515.8 389.0L517.0 389.0L518.3 389.1L519.6 389.1L520.9 388.9L522.2 389.0L523.5 389.1L524.9 389.0L526.2 389.0L527.6 389.1L528.9 389.3L530.3 389.5L531.7 389.4L533.1 389.3L534.4 389.2L535.8 389.3L537.2 389.5L538.6 389.7L540.1 389.8L541.5 389.8L542.9 389.8L544.3 389.8L545.7 390.0L547.2 390.2L548.6 390.1L550.0 389.9L551.2 389.9L552.4 390.1L553.6 390.3L554.9 390.3L556.2 390.1L557.6 390.1L558.9 390.2L560.3 390.4L561.7 390.2L563.1 390.1L564.5 390.1L566.0 389.9L567.4 390.0L568.9 390.1L570.4 390.1L571.9 390.2L573.4 390.2L574.9 390.1L576.4 390.2L577.9 390.2L579.4 390.5L580.9 390.7L582.3 390.6L583.8 390.5L585.3 390.5L586.7 390.6L588.2 390.7L589.6 390.7L591.0 390.6L592.4 390.7L593.8 390.8L595.1 390.9L596.5 390.8L597.8 390.9L599.0 390.9L600.3 390.9L601.5 390.8L602.6 390.8L603.8 390.8L604.9 390.8L605.9 391.1L606.9 391.3L607.9 391.1L608.8 390.9L609.7 390.9L610.5 390.8L611.3 390.8L612.0 390.9L612.7 391.0" fill="none" stroke="#000090" stroke-width="2.6" stroke-linejoin="round" stroke-linecap="round"/>
<path d="M18.2 470.6L18.9 470.4L19.6 470.4L20.4 470.4L21.2 470.3L22.1 470.6L23.0 470.6L24.0 470.4L25.1 470.3L26.1 470.2L27.3 470.1L28.4 470.1L29.6 470.1L30.8 469.9L32.1 469.8L33.4 469.7L34.7 469.6L36.0 469.5L37.4 469.4L38.8 469.3L40.2 469.1L41.6 469.0L43.1 468.9L44.5 468.7L46.0 468.8L47.5 468.7L49.0 468.4L50.5 468.1L52.0 468.0L53.4 468.0L54.9 468.0L56.4 467.7L57.9 467.5L59.4 467.2L60.8 467.3L62.3 467.3L63.7 467.0L65.2 466.6L66.6 466.6L68.0 466.6L69.3 466.4L70.6 466.2L72.0 466.1L73.2 465.9L74.5 465.7L75.7 465.7L77.0 465.7L78.4 465.4L79.7 465.1L81.1 465.0L82.4 464.9L83.7 464.6L85.1 464.4L86.4 464.3L87.7 464.1L89.0 464.0L90.3 463.9L91.6 463.6L92.9 463.3L94.2 463.1L95.5 462.9L96.8 462.7L98.1 462.4L99.4 462.0L100.6 461.9L101.9 461.9L103.2 461.7L104.4 461.3L105.7 460.9L106.9 460.6L108.2 460.6L109.4 460.4L110.6 460.0L111.9 459.9L113.1 459.8L114.3 459.5L115.5 459.2L116.7 459.0L117.9 458.9L119.1 458.6L120.2 458.2L121.4 457.9L122.6 457.5L123.7 457.2L124.9 457.1L126.0 456.9L127.4 456.5L128.7 456.2L130.1 456.1L131.4 455.7L132.8 455.1L134.1 454.8L135.5 454.7L136.8 454.2L138.1 453.6L139.4 453.4L140.7 453.3L142.0 453.2L143.3 452.9L144.5 452.4L145.8 451.8L147.0 451.4L148.3 451.2L149.5 451.0L150.7 450.5L151.9 450.0L153.1 449.7L154.3 449.4L155.5 449.1L156.6 448.8L157.8 448.2L158.9 447.5L160.0 447.2L161.1 447.0L162.2 446.8L163.3 446.6L164.4 446.1L165.5 445.9L166.5 445.8L168.0 445.3L169.4 444.7L170.9 444.3L172.3 443.8L173.7 443.2L175.0 442.7L176.4 442.1L177.7 441.6L179.0 441.2L180.2 440.8L181.5 440.3L182.7 439.7L183.9 439.4L185.1 439.1L186.2 438.5L187.3 438.0L188.4 437.5L189.5 437.2L190.6 436.9L191.6 436.5L192.6 436.1L193.6 435.7L194.5 435.4L196.1 434.8L197.5 434.3L198.8 434.0L200.1 433.6L201.2 433.0L202.3 432.7L203.3 432.5L204.3 431.9L205.3 431.3L206.2 430.7L207.2 430.2L208.3 429.9L209.4 429.4L210.5 428.9L211.5 428.3L212.6 427.7L213.6 427.3L214.7 426.9L215.7 426.2L216.8 425.4L217.9 424.8L218.9 424.2L220.0 423.3L221.0 422.7L222.1 422.2L223.1 421.4L224.2 420.4L225.2 419.7L226.2 419.1L227.2 418.6L228.2 417.8L229.2 416.9L230.2 416.2L231.2 415.7L232.1 415.0L233.1 414.1L234.1 413.3L235.1 412.5L236.1 411.5L237.1 410.5L238.0 409.7L239.0 408.8L239.8 408.1L240.6 407.0L241.4 405.9L242.2 405.0L243.0 404.1L243.8 403.3L244.6 402.4L245.4 401.3L246.2 400.3L247.0 399.3L247.8 398.2L248.6 397.2L249.4 396.3L250.1 395.4L250.8 394.4L251.6 393.4L252.3 392.4L253.0 391.4L253.8 390.4L254.6 389.4L255.4 388.6L256.2 387.7L257.0 386.7L257.8 385.7L258.5 384.6L259.2 383.5L260.0 382.6L260.7 381.9L261.4 380.8L262.0 379.8L262.7 379.0L263.4 378.0L264.0 377.0L264.7 376.0L265.3 374.9L265.9 373.7L266.5 372.4L267.1 371.6L267.6 370.9L268.2 369.7L268.7 368.6L269.3 367.8L269.8 366.9L270.3 365.7L270.9 364.4L271.4 363.1L272.0 361.7L272.5 360.6L273.0 359.7L273.5 358.9L274.0 357.9L274.6 356.7L275.1 355.3L275.6 354.2L276.1 353.1L276.6 352.0L277.1 351.1L277.6 350.0L278.1 348.7L278.6 347.4L279.1 346.4L279.5 345.2L280.0 344.0L280.5 342.7L281.0 341.6L281.5 340.5L282.0 339.5L282.5 338.3L283.0 337.2L283.4 336.1L283.9 335.0L284.4 333.8L284.8 332.7L285.2 331.5L285.7 330.3L286.1 329.3L286.5 328.2L286.9 326.9L287.3 325.7L287.7 324.6L288.1 323.3L288.5 321.9L288.8 320.6L289.2 319.6L289.5 318.6L289.9 317.2L290.2 315.8L290.6 314.5L290.9 313.1L291.2 312.0L291.5 310.9L291.8 309.8L292.2 308.5L292.5 307.1L292.8 305.8L293.1 304.5L293.4 303.1L293.7 301.9L293.9 300.7L294.2 299.6L294.5 298.7L294.7 297.3L295.0 295.8L295.3 294.5L295.6 293.4L295.9 292.3L296.1 291.3L296.4 290.3L296.7 288.9L297.0 287.5L297.2 286.3L297.5 285.2L297.7 284.3L298.0 283.1L298.3 281.6L298.5 280.3L298.8 279.3L299.1 278.2L299.3 276.8L299.6 275.5L299.8 274.3L300.0 272.9L300.3 271.9L300.5 271.1L300.8 269.8L301.1 268.4L301.3 267.0L301.6 265.5L301.8 264.4L302.1 263.3L302.3 262.2L302.6 261.4L303.2 260.1L303.8 259.5L304.5 259.1L305.2 259.2L305.9 259.8L306.8 260.5L307.8 261.1L308.7 261.5L309.8 261.8L310.9 262.2L312.0 262.6L313.0 262.7L314.2 262.5L315.2 262.1L316.3 261.4L317.2 260.7L318.0 259.7L318.7 258.7L319.3 257.6L320.0 256.6L320.8 255.6L321.5 254.5L322.4 253.7L323.3 254.0L323.8 254.6L324.4 255.2L325.0 255.9L325.6 256.8L326.2 257.9L326.9 259.1L327.5 260.7L328.2 262.5L328.5 263.5L328.9 264.5L329.3 265.4L329.6 266.4L330.0 267.6L330.4 268.8L330.8 269.9L331.1 271.2L331.5 272.5L331.9 273.8L332.3 275.2L332.7 276.6L333.1 277.9L333.5 279.2L333.8 280.4L334.2 281.6L334.5 282.9L334.9 284.1L335.3 285.4L335.6 286.8L336.0 287.9L336.3 288.9L336.7 290.1L337.1 291.3L337.4 292.6L337.8 293.9L338.1 295.0L338.4 296.3L338.8 297.7L339.1 298.9L339.4 300.3L339.7 301.6L340.0 302.9L340.2 304.1L340.4 305.2L340.6 306.4L340.8 307.5L341.0 308.7L341.2 310.1L341.4 311.6L341.6 312.8L341.7 313.9L341.9 315.2L342.1 316.7L342.2 318.0L342.4 319.2L342.6 320.6L342.7 322.1L342.9 323.4L343.1 324.5L343.3 326.0L343.5 327.5L343.7 328.7L343.9 329.9L344.1 331.1L344.3 332.1L344.5 333.2L344.7 334.7L345.0 336.2L345.2 337.7L345.4 339.0L345.6 340.2L345.9 341.5L346.1 342.7L346.4 344.0L346.6 345.5L346.8 346.7L347.1 347.8L347.3 348.9L347.5 350.2L347.8 351.7L348.0 353.1L348.2 354.2L348.5 355.3L348.7 356.2L348.9 357.4L349.1 358.7L349.4 360.2L349.6 361.4L349.9 362.6L350.1 363.9L350.4 365.4L350.6 366.7L350.9 367.9L351.1 369.2L351.3 370.3L351.6 371.6L351.8 372.8L352.0 374.1L352.3 375.3L352.5 376.4L352.8 377.4L353.0 378.6L353.3 379.9L353.5 381.0L353.8 382.3L354.1 383.7L354.4 385.0L354.7 386.3L355.0 387.6L355.3 388.7L355.6 389.8L355.9 391.1L356.2 392.7L356.5 394.0L356.8 395.0L357.1 396.1L357.4 397.3L357.8 398.6L358.1 399.7L358.5 400.9L358.9 402.1L359.4 403.4L359.8 404.7L360.3 405.9L360.7 406.9L361.2 408.1L361.6 409.4L362.1 410.5L362.6 411.5L363.0 412.9L363.5 414.1L364.0 415.1L364.5 416.3L365.1 417.8L365.6 418.9L366.1 419.8L366.6 421.0L367.2 422.4L367.7 423.5L368.3 424.4L368.9 425.3L369.5 426.5L370.1 427.8L370.8 428.7L371.4 429.9L372.1 431.1L372.8 432.1L373.4 433.2L374.1 434.2L374.8 435.0L375.6 435.9L376.3 436.9L377.0 437.9L377.8 439.1L378.6 440.2L379.4 441.1L380.2 442.0L381.0 443.0L381.8 444.0L382.7 444.9L383.6 445.7L384.5 446.4L385.4 447.1L386.4 447.8L387.4 448.7L388.4 449.5L389.4 450.2L390.5 451.1L391.6 451.8L392.6 452.5L393.8 453.3L394.9 453.9L396.0 454.4L397.0 455.0L398.0 455.6L399.0 456.3L400.1 457.0L401.1 457.7L402.1 458.3L403.2 458.8L404.3 459.5L405.5 459.9L406.7 460.3L408.0 460.8L409.1 461.2L410.2 461.6L411.3 461.9L412.5 462.2L413.7 462.4L414.9 462.7L416.2 463.1L417.5 463.3L418.7 463.6L420.0 464.1L421.3 464.3L422.5 464.3L423.8 464.7L425.0 465.1L426.2 465.4L427.3 465.6L428.4 465.7L429.5 465.8L430.6 466.2L431.7 466.6L432.8 466.8L433.9 466.8L435.1 466.9L436.3 467.0L437.6 467.2L439.0 467.2L440.4 467.5L442.0 467.7L443.0 467.9L444.1 468.1L445.3 468.3L446.4 468.3L447.6 468.3L448.8 468.4L450.1 468.6L451.3 468.7L452.6 468.6L453.9 468.9L455.3 469.1L456.6 469.1L458.0 469.1L459.3 469.2L460.7 469.3L462.0 469.4L463.4 469.5L464.7 469.6L466.1 469.9L467.4 470.2L468.7 470.3L470.0 470.3L471.2 470.4L472.4 470.5L473.5 470.6L474.7 470.5L475.8 470.5L476.9 470.6L478.0 470.8L479.0 470.9L480.1 470.9L481.2 471.0L482.3 471.2L483.5 471.5L484.6 471.7L485.8 471.7L487.0 471.8L488.3 471.8L489.6 471.6L490.9 471.6L492.4 471.8L493.8 471.8L495.4 471.9L497.0 472.2L498.7 472.3L499.7 472.2L500.7 472.2L501.8 472.3L502.9 472.3L504.0 472.4L505.1 472.5L506.2 472.6L507.3 472.5L508.5 472.6L509.7 472.5L510.9 472.5L512.1 472.6L513.3 472.7L514.5 472.8L515.8 472.8L517.0 472.7L518.3 472.5L519.6 472.7L520.9 472.9L522.2 472.9L523.5 473.0L524.9 473.2L526.2 473.2L527.6 472.8L528.9 472.6L530.3 472.9L531.7 473.1L533.1 473.2L534.4 473.3L535.8 473.3L537.2 473.4L538.6 473.5L540.1 473.3L541.5 473.1L542.9 473.1L544.3 473.2L545.7 473.4L547.2 473.5L548.6 473.5L550.0 473.6L551.2 473.7L552.4 473.8L553.6 473.7L554.9 473.5L556.2 473.6L557.6 473.7L558.9 473.8L560.3 473.8L561.7 473.8L563.1 473.7L564.5 473.7L566.0 473.7L567.4 473.6L568.9 473.7L570.4 473.9L571.9 473.9L573.4 473.9L574.9 473.8L576.4 473.8L577.9 473.9L579.4 474.1L580.9 474.2L582.3 474.1L583.8 474.1L585.3 474.2L586.7 474.4L588.2 474.4L589.6 474.3L591.0 474.3L592.4 474.4L593.8 474.5L595.1 474.4L596.5 474.4L597.8 474.3L599.0 474.3L600.3 474.4L601.5 474.5L602.6 474.8L603.8 474.8L604.9 474.7L605.9 474.9L606.9 474.9L607.9 474.8L608.8 474.6L609.7 474.5L610.5 474.5L611.3 474.6L612.0 474.7L612.7 474.7" fill="none" stroke="#0000ff" stroke-width="2.6" stroke-linejoin="round" stroke-linecap="round"/>
<path d="M750.0 250.7L750.7 250.0L751.4 249.4L752.1 249.0L752.9 249.8L753.8 251.2L754.6 251.0L755.5 249.8L756.5 249.5L757.5 249.2L758.5 249.2L759.5 250.5L760.6 251.1L761.7 251.0L762.8 250.8L764.0 250.5L765.2 250.6L766.4 251.0L767.7 250.9L768.9 250.1L770.2 249.9L771.5 250.6L772.9 250.6L774.2 250.4L775.6 251.0L777.0 251.3L778.4 251.0L779.8 251.0L781.2 251.4L782.7 251.5L784.2 251.3L785.6 251.5L787.1 251.4L788.6 251.5L790.1 251.8L791.6 251.5L793.1 251.1L794.6 250.8L796.1 250.9L797.6 251.0L799.1 250.7L800.6 250.9L802.1 251.7L803.6 251.7L805.1 250.9L806.6 250.9L808.1 251.8L809.6 251.8L811.1 251.0L812.5 251.2L814.0 252.3L815.4 252.9L816.8 252.1L818.2 251.4L819.6 251.8L821.0 251.7L822.4 251.4L823.7 251.3L825.0 250.9L826.3 250.1L827.6 250.2L828.9 251.4L830.1 251.8L831.3 251.4L832.7 251.4L834.1 251.4L835.6 251.1L837.0 250.9L838.5 250.6L839.9 249.8L841.4 250.0L842.8 251.3L844.3 252.2L845.7 252.3L847.2 252.2L848.7 252.0L850.1 251.6L851.6 251.5L853.1 251.4L854.5 251.2L856.0 251.3L857.4 251.4L858.9 251.0L860.3 250.9L861.7 251.2L863.2 251.4L864.6 251.7L866.0 251.9L867.4 251.6L868.8 251.1L870.2 250.6L871.5 250.6L872.9 251.3L874.2 251.7L875.6 251.6L876.9 251.3L878.2 251.0L879.5 251.1L880.8 251.3L882.0 251.2L883.2 251.2L884.5 251.6L885.7 251.4L886.8 250.6L888.0 250.5L889.1 250.9L890.2 251.3L891.3 251.1L892.4 250.5L893.4 251.0L894.5 251.1L895.5 250.4L896.4 250.3L897.4 250.7L898.3 250.5L899.1 250.2L900.0 250.7L902.6 250.9L904.9 250.4L907.0 250.4L908.8 250.3L910.3 250.3L911.7 250.2L912.9 249.9L913.9 249.7L914.8 250.0L915.7 250.3L916.4 249.2L917.1 248.4L917.8 248.3L918.5 248.1L919.2 248.5L920.0 249.1L922.1 248.8L923.5 249.0L924.4 250.0L925.1 250.4L926.0 249.8L927.2 248.9L928.4 247.7L929.4 246.3L930.3 245.4L931.1 244.5L931.8 243.8L932.4 243.3L933.0 243.0L933.5 242.8L933.9 242.0L934.4 240.8L934.9 239.4L935.5 237.6L935.8 236.5L936.0 236.1L936.3 235.9L936.6 234.4L937.0 232.9L937.3 231.6L937.6 230.2L938.0 228.7L938.3 227.5L938.7 226.5L939.0 225.1L939.3 223.5L939.5 222.2L939.8 220.7L940.0 219.6L940.1 218.3L940.3 217.1L940.4 216.3L940.5 215.4L940.7 214.6L940.8 213.7L940.9 212.2L941.0 210.2L941.2 208.5L941.3 207.5L941.4 206.4L941.5 205.3L941.6 203.8L941.7 202.1L941.8 200.4L941.9 199.1L942.1 197.4L942.2 195.3L942.3 193.5L942.4 192.5L942.5 192.2L942.6 192.1L942.7 191.0L942.8 189.2L942.9 187.6L943.0 186.2L943.1 184.2L943.2 182.5L943.3 181.7L943.4 181.7L943.5 180.8L943.6 178.2L943.7 176.2L943.8 175.1L943.9 173.7L944.0 172.4L944.1 171.2L944.2 170.0L944.3 168.7L944.3 167.1L944.4 165.7L944.5 164.7L944.6 163.8L944.7 162.8L944.8 161.3L944.9 159.9L945.0 158.7L945.1 157.8L945.2 156.6L945.3 155.4L945.3 154.0L945.4 152.8L945.5 151.6L945.6 149.9L945.7 148.7L945.8 148.1L945.8 146.9L945.9 145.2L946.0 143.8L946.1 142.7L946.2 141.4L946.3 140.0L946.3 138.5L946.4 137.4L946.5 136.3L946.6 134.8L946.6 132.8L946.7 131.1L946.8 129.7L946.9 128.9L947.0 128.8L947.0 127.7L947.1 125.7L947.2 124.5L947.3 123.6L947.4 121.7L947.4 119.4L947.5 117.7L947.6 116.7L947.7 115.9L947.8 114.9L947.9 113.7L947.9 112.3L948.0 111.3L948.1 110.2L948.2 108.4L948.3 106.3L948.3 104.6L948.4 103.9L948.5 103.5L948.6 102.3L948.6 100.3L948.7 98.6L948.8 97.6L948.8 97.6L948.9 97.2L949.2 94.0L949.4 92.5L949.7 91.9L949.9 91.8L950.1 91.6L950.4 90.8L950.7 90.8L950.9 92.5L951.2 95.7L951.3 96.6L951.3 97.1L951.4 98.4L951.5 99.5L951.5 99.6L951.6 100.5L951.6 101.5L951.7 102.1L951.7 103.8L951.8 106.0L951.9 107.4L952.0 108.3L952.0 109.4L952.1 111.4L952.2 113.6L952.3 115.2L952.3 114.9L952.4 115.7L952.4 118.1L952.5 119.9L952.6 120.7L952.6 121.1L952.7 121.8L952.7 123.6L952.8 124.7L952.8 124.8L952.9 126.3L953.0 128.8L953.0 130.5L953.1 130.9L953.2 131.2L953.2 131.9L953.3 133.2L953.3 134.8L953.4 136.5L953.5 138.4L953.5 139.8L953.6 140.5L953.7 141.5L953.7 143.0L953.8 145.0L953.9 146.8L953.9 147.7L954.0 149.3L954.1 150.9L954.1 151.8L954.2 153.9L954.2 156.0L954.3 157.3L954.3 159.5L954.4 161.5L954.4 162.3L954.5 162.9L954.5 163.5L954.5 164.4L954.6 165.8L954.6 166.8L954.6 167.6L954.7 169.7L954.7 171.6L954.8 171.8L954.8 172.5L954.8 174.3L954.9 175.2L954.9 176.1L954.9 178.1L955.0 179.7L955.0 180.3L955.0 181.4L955.1 182.3L955.1 183.3L955.1 185.4L955.2 187.4L955.2 189.1L955.2 190.5L955.3 191.5L955.3 192.3L955.3 193.6L955.4 195.5L955.4 197.1L955.4 198.7L955.4 200.8L955.5 202.6L955.5 203.2L955.5 202.9L955.6 203.7L955.6 205.4L955.6 207.3L955.7 209.2L955.7 210.1L955.7 211.3L955.8 213.6L955.8 215.3L955.8 216.0L955.8 217.1L955.9 218.9L955.9 219.7L955.9 220.3L956.0 222.2L956.0 224.8L956.0 226.5L956.0 227.0L956.1 228.2L956.1 229.9L956.1 230.6L956.2 231.4L956.2 232.8L956.2 234.3L956.2 235.0L956.3 235.7L956.3 237.7L956.3 239.4L956.3 240.4L956.3 241.2L956.4 243.1L956.4 245.2L956.4 245.6L956.4 246.5L956.5 249.0L956.5 250.7L956.5 251.1L956.5 251.8L956.5 253.3L956.6 254.9L956.6 256.3L956.6 257.2L956.6 258.6L956.7 260.1L956.7 261.7L956.7 263.5L956.7 264.1L956.7 264.8L956.8 266.5L956.8 267.9L956.8 269.2L956.8 270.2L956.8 270.5L956.9 271.8L956.9 274.4L956.9 276.2L956.9 277.5L956.9 278.9L957.0 280.4L957.0 281.7L957.0 281.8L957.0 282.1L957.0 283.9L957.1 285.7L957.1 287.0L957.1 288.4L957.1 289.7L957.1 290.8L957.2 292.3L957.2 293.8L957.2 295.2L957.2 296.8L957.3 298.3L957.3 299.0L957.3 299.7L957.3 301.1L957.3 302.5L957.4 304.1L957.4 306.0L957.4 307.5L957.4 308.5L957.5 309.6L957.5 310.9L957.5 312.1L957.5 312.8L957.6 314.1L957.6 316.0L957.6 317.6L957.6 319.2L957.7 320.5L957.7 321.0L957.7 322.2L957.7 323.7L957.8 325.6L957.8 327.1L957.8 328.1L957.8 328.9L957.9 329.4L957.9 330.9L957.9 333.5L957.9 335.1L958.0 336.5L958.0 338.5L958.0 340.1L958.0 340.6L958.1 341.5L958.1 342.1L958.1 342.8L958.1 344.5L958.2 346.8L958.2 349.1L958.2 350.3L958.2 350.8L958.3 351.9L958.3 353.5L958.3 355.1L958.3 356.5L958.3 356.8L958.4 357.9L958.4 359.5L958.4 360.3L958.4 361.5L958.5 363.1L958.5 364.2L958.5 365.2L958.5 366.6L958.6 367.6L958.6 368.2L958.6 369.7L958.6 371.8L958.7 373.1L958.7 374.3L958.7 376.3L958.8 378.7L958.8 380.5L958.8 381.3L958.9 382.7L958.9 384.1L958.9 384.9L959.0 386.9L959.0 389.0L959.0 390.3L959.0 391.8L959.1 393.4L959.1 394.6L959.1 396.4L959.2 397.9L959.2 398.5L959.2 400.1L959.3 402.2L959.3 404.2L959.3 405.4L959.4 405.6L959.4 406.5L959.4 407.8L959.4 409.2L959.5 410.2L959.5 410.6L959.5 411.6L959.5 413.0L959.6 413.9L959.6 414.6L959.6 415.2L959.7 415.2L959.7 416.1L959.7 418.5L959.9 424.1L960.0 425.1L960.2 424.3L960.4 423.4L960.5 423.0L960.5 422.8L960.6 423.4L960.7 423.2L960.7 421.5L960.8 420.3L960.9 419.2L961.0 417.4L961.1 415.3L961.3 412.4L961.5 409.4L961.6 409.3L961.6 408.3L961.7 407.1L961.7 406.5L961.8 405.5L961.9 404.5L961.9 403.9L962.0 402.9L962.1 401.6L962.1 400.7L962.2 399.7L962.3 398.3L962.3 397.3L962.4 396.2L962.5 395.2L962.6 393.8L962.7 391.9L962.7 390.5L962.8 389.1L962.9 387.6L963.0 386.5L963.1 385.2L963.2 383.3L963.2 381.4L963.3 380.3L963.4 379.0L963.5 376.4L963.6 374.7L963.7 373.9L963.8 372.5L963.9 370.9L964.0 369.9L964.1 369.1L964.2 367.6L964.3 365.3L964.3 363.2L964.4 361.6L964.5 360.6L964.6 359.7L964.7 358.0L964.8 356.9L964.9 356.9L965.0 355.4L965.1 353.0L965.2 351.7L965.3 351.1L965.4 349.9L965.5 347.7L965.6 346.4L965.7 345.7L965.9 343.8L966.0 341.6L966.1 340.6L966.2 339.9L966.3 338.9L966.5 337.3L966.6 335.0L966.7 333.4L966.8 332.7L966.9 331.6L967.1 329.7L967.2 327.7L967.3 326.2L967.4 325.9L967.6 325.6L967.7 323.7L967.8 322.0L968.0 321.3L968.1 320.6L968.2 319.2L968.4 317.3L968.5 315.8L968.6 314.3L968.8 313.1L968.9 312.7L969.0 311.9L969.2 310.7L969.3 309.1L969.5 306.9L969.6 305.0L969.7 304.2L969.9 303.5L970.0 302.4L970.2 301.6L970.3 301.2L970.5 300.6L970.8 298.8L971.0 297.0L971.3 295.2L971.5 294.1L971.8 293.5L972.1 291.8L972.3 289.7L972.6 288.3L972.9 287.2L973.2 285.6L973.4 283.7L973.7 282.4L974.0 281.1L974.3 279.3L974.6 278.3L974.9 278.2L975.2 277.9L975.5 277.1L975.8 276.0L976.1 274.5L976.4 273.0L976.8 272.2L977.1 271.4L977.4 270.7L978.0 269.2L978.6 267.3L979.2 265.2L979.8 263.9L980.4 263.4L981.1 262.6L981.7 262.0L982.4 261.0L983.2 259.9L984.0 259.3L985.0 258.2L986.0 257.3L986.9 257.2L987.9 256.9L988.8 256.3L989.8 256.0L990.8 256.1L991.9 256.4L993.0 256.1L994.2 256.1L995.4 256.6L996.8 255.7L998.2 254.2L999.8 254.1L1001.4 255.0L1003.2 255.6L1004.2 255.2L1005.2 254.7L1006.3 254.6L1007.4 254.0L1008.6 253.7L1009.8 253.2L1011.1 252.6L1012.3 253.7L1013.6 254.6L1015.0 254.5L1016.3 254.1L1017.7 253.0L1019.1 252.5L1020.4 252.8L1021.8 252.7L1023.2 253.3L1024.6 253.8L1026.0 253.1L1027.4 252.6L1028.7 252.8L1030.1 252.3L1031.4 251.6L1032.7 251.5L1034.0 252.2L1035.2 252.8L1036.4 251.8L1037.6 250.3L1039.0 250.3L1040.4 251.5L1041.8 252.2L1043.2 252.3L1044.6 251.5L1046.0 250.1L1047.3 249.8L1048.7 250.1L1050.0 250.2L1051.3 250.4L1052.6 250.4L1053.9 249.3L1055.2 248.6L1056.4 248.9L1057.6 248.9L1058.8 249.0L1059.9 248.7L1061.0 248.4L1062.1 248.1L1063.1 248.2L1064.1 248.7L1065.1 248.6L1066.8 248.0L1068.3 247.3L1069.7 246.6L1071.0 246.2L1072.3 245.6L1073.4 244.7L1074.5 244.3L1075.5 243.8L1076.4 242.7L1077.3 242.1L1078.2 240.9L1079.0 239.5L1080.3 239.6L1081.3 240.0L1082.2 239.0L1082.9 237.7L1083.6 237.4L1084.3 237.9L1085.0 237.6L1085.9 236.2L1086.8 235.6L1087.6 235.0L1088.4 233.4L1089.2 231.1L1090.0 229.6L1090.6 229.7L1091.2 229.6L1091.8 228.7L1092.4 227.7L1093.0 226.4L1093.6 225.2L1094.3 224.4L1094.8 223.5L1095.3 222.2L1095.8 222.1L1096.3 221.4L1096.9 219.1L1097.4 216.6L1097.9 215.0L1098.4 214.9L1098.9 215.0L1099.4 213.9L1099.8 212.2L1100.2 210.5L1100.6 208.7L1100.9 206.8L1101.2 205.9L1101.5 204.9L1101.7 203.4L1102.0 202.2L1102.3 201.1L1102.6 200.2L1102.9 198.9L1103.1 198.0L1103.4 197.5L1103.6 197.0L1103.9 195.9L1104.2 194.8L1104.4 192.9L1104.7 191.0L1105.0 189.7L1105.3 188.3L1105.5 187.0L1105.8 185.4L1106.1 184.5L1106.3 183.8L1106.6 182.5L1106.8 181.0L1107.0 179.4L1107.2 177.7L1107.4 176.5L1107.6 175.6L1107.9 174.3L1108.1 172.6L1108.2 171.4L1108.4 170.9L1108.6 169.9L1108.8 168.1L1109.0 166.4L1109.2 165.1L1109.4 163.7L1109.6 162.1L1109.8 161.5L1110.0 160.1L1110.2 157.6L1110.4 156.0L1110.5 155.5L1110.7 154.6L1110.9 153.5L1111.1 152.3L1111.3 150.8L1111.5 150.0L1111.7 149.8L1111.8 148.1L1112.0 145.5L1112.2 143.9L1112.4 143.0L1112.5 141.9L1112.7 140.8L1112.9 139.7L1113.0 138.0L1113.2 136.3L1113.4 135.4L1113.6 134.6L1113.8 132.5L1113.9 130.8L1114.1 129.4L1114.3 127.5L1114.5 125.9L1114.6 125.3L1114.8 124.9L1114.9 123.9L1115.1 122.0L1115.2 120.6L1115.4 120.5L1115.5 119.8L1115.8 117.6L1116.2 116.2L1116.4 114.8L1116.7 113.6L1117.0 113.0L1117.8 112.9L1118.6 114.3L1118.8 115.4L1119.1 116.9L1119.3 117.6L1119.6 118.7L1119.8 120.7L1120.0 122.0L1120.1 122.3L1120.2 123.1L1120.3 124.1L1120.4 125.4L1120.5 126.2L1120.6 126.5L1120.7 127.9L1120.8 129.8L1120.9 131.1L1121.1 132.7L1121.2 135.3L1121.3 135.7L1121.3 135.2L1121.4 136.0L1121.5 138.1L1121.5 139.6L1121.6 140.5L1121.7 141.7L1121.7 142.8L1121.8 143.7L1121.9 144.9L1122.0 145.6L1122.0 145.5L1122.1 146.7L1122.2 149.3L1122.3 151.6L1122.3 153.2L1122.4 154.1L1122.5 154.7L1122.6 155.7L1122.7 157.0L1122.8 158.1L1122.8 159.4L1122.9 160.8L1123.0 162.9L1123.1 165.4L1123.2 167.0L1123.2 167.5L1123.3 168.6L1123.4 170.9L1123.4 173.0L1123.5 174.4L1123.5 174.2L1123.6 174.0L1123.6 176.3L1123.7 179.2L1123.7 180.5L1123.8 181.1L1123.8 182.1L1123.9 183.4L1123.9 184.9L1124.0 186.7L1124.0 187.6L1124.1 188.2L1124.1 189.8L1124.2 191.8L1124.3 193.1L1124.3 194.2L1124.4 196.1L1124.4 197.8L1124.5 198.9L1124.5 199.8L1124.6 200.7L1124.6 202.5L1124.7 204.3L1124.7 205.7L1124.8 207.4L1124.8 208.9L1124.9 210.0L1124.9 211.7L1125.0 213.2L1125.0 214.4L1125.1 215.6L1125.1 216.8L1125.2 218.0L1125.2 219.0L1125.3 220.8L1125.3 222.7L1125.4 223.8L1125.4 225.3L1125.4 226.6L1125.5 227.4L1125.5 228.4L1125.6 229.2L1125.6 230.1L1125.7 231.1L1125.7 232.6L1125.7 233.7L1125.8 234.3L1125.8 235.5L1125.9 237.5L1125.9 238.6L1126.0 239.6L1126.0 241.6L1126.1 243.6L1126.1 245.0L1126.2 245.7L1126.2 246.2L1126.2 247.1L1126.3 248.8L1126.3 250.6L1126.3 251.7L1126.4 252.1L1126.4 252.5L1126.4 254.0L1126.5 255.7L1126.5 256.3L1126.5 257.0L1126.6 259.1L1126.6 260.8L1126.7 261.4L1126.7 262.8L1126.8 264.7L1126.8 266.4L1126.9 268.0L1126.9 268.9L1127.0 269.9L1127.0 271.0L1127.0 272.7L1127.1 274.2L1127.1 275.0L1127.2 275.9L1127.2 276.8L1127.3 277.9L1127.3 279.6L1127.3 280.6L1127.4 281.3L1127.4 282.7L1127.5 284.1L1127.5 284.9L1127.6 286.3L1127.6 288.5L1127.7 290.1L1127.7 290.0L1127.8 290.4L1127.8 293.2L1127.9 295.3L1127.9 296.1L1128.0 297.2L1128.0 298.1L1128.1 300.0L1128.1 301.9L1128.2 302.9L1128.2 304.3L1128.3 305.9L1128.3 307.2L1128.4 308.7L1128.4 310.4L1128.5 311.5L1128.5 312.0L1128.6 313.0L1128.7 314.6L1128.7 316.4L1128.8 318.7L1128.8 320.3L1128.9 321.1L1128.9 322.7L1129.0 324.3L1129.0 325.3L1129.1 326.3L1129.1 327.5L1129.2 329.0L1129.2 329.6L1129.3 330.8L1129.4 332.6L1129.4 332.6L1129.5 333.1L1129.5 335.5L1129.6 338.5L1129.7 340.3L1129.7 341.0L1129.8 342.0L1129.8 343.0L1129.9 344.0L1130.0 345.7L1130.0 347.7L1130.1 349.3L1130.1 350.8L1130.2 351.9L1130.3 352.9L1130.3 353.9L1130.4 355.0L1130.5 356.2L1130.5 357.2L1130.6 358.3L1130.7 360.1L1130.7 361.9L1130.8 363.3L1130.9 365.4L1130.9 367.2L1131.0 368.0L1131.0 368.7L1131.1 370.0L1131.2 371.3L1131.2 372.5L1131.3 373.7L1131.4 375.4L1131.4 377.1L1131.5 378.2L1131.5 379.2L1131.6 380.3L1131.7 381.4L1131.7 382.3L1131.8 383.1L1131.8 384.0L1131.9 384.7L1131.9 385.9L1132.0 387.6L1132.0 389.1L1132.1 390.2L1132.2 392.5L1132.3 394.0L1132.4 395.3L1132.5 397.6L1132.5 399.0L1132.6 399.8L1132.7 401.5L1132.8 403.5L1132.8 405.2L1132.9 407.0L1133.0 408.7L1133.1 410.2L1133.1 411.7L1133.2 413.4L1133.3 414.6L1133.3 415.1L1133.4 416.4L1133.5 418.3L1133.6 418.8L1133.7 418.5L1133.7 419.6L1133.8 421.5L1133.9 422.1L1134.0 422.1L1134.1 422.0L1134.3 422.2L1134.5 422.0L1134.6 421.4L1134.8 421.0L1135.0 420.8L1135.2 420.4L1135.4 419.1L1135.6 417.3L1135.9 415.6L1136.1 413.8L1136.3 411.3L1136.5 408.6L1136.8 406.7L1137.0 405.0L1137.1 404.1L1137.2 402.9L1137.3 401.5L1137.4 400.1L1137.6 399.0L1137.7 398.2L1137.8 396.9L1137.9 395.5L1138.0 394.2L1138.1 392.5L1138.2 390.9L1138.4 390.2L1138.5 389.4L1138.6 387.2L1138.7 385.4L1138.8 384.7L1139.0 383.5L1139.1 381.7L1139.2 380.4L1139.3 378.8L1139.5 377.4L1139.6 376.7L1139.7 375.4L1139.9 374.0L1140.0 372.5L1140.1 370.8L1140.3 369.9L1140.4 368.9L1140.5 367.1L1140.7 365.8L1140.8 364.9L1141.0 364.4L1141.1 363.9L1141.3 361.7L1141.5 359.4L1141.7 358.0L1141.8 356.5L1142.0 354.8L1142.2 353.9L1142.4 353.3L1142.6 351.9L1142.8 350.4L1142.9 348.9L1143.1 347.3L1143.3 346.7L1143.5 345.6L1143.7 343.6L1143.9 342.4L1144.1 341.3L1144.3 339.8L1144.4 338.9L1144.6 337.9L1144.8 336.6L1145.0 335.4L1145.2 334.3L1145.3 333.2L1145.5 331.9L1145.8 329.9L1146.0 328.1L1146.3 327.0L1146.5 326.3L1146.8 324.5L1147.0 322.7L1147.2 321.3L1147.5 320.3L1147.7 319.3L1147.9 318.5L1148.2 318.2L1148.4 317.7L1148.7 317.0L1148.9 315.6L1149.2 313.9L1149.5 312.5L1149.8 310.7L1150.1 308.8L1150.4 307.4L1150.8 306.4L1151.1 305.5L1151.5 304.1L1151.8 303.0L1152.2 302.5L1152.5 301.4L1152.9 299.5L1153.2 299.0L1153.6 298.5L1153.9 296.2L1154.3 294.4L1154.7 293.6L1155.0 292.5L1155.6 290.9L1156.1 289.4L1156.7 288.0L1157.2 287.5L1157.8 287.1L1158.4 286.7L1159.0 286.1L1159.7 284.3L1160.5 282.9L1161.2 281.9L1161.9 280.6L1162.7 279.6L1163.5 278.5L1164.3 277.7L1165.1 276.0L1166.0 274.0L1166.9 273.8L1167.9 273.9L1168.9 273.4L1170.0 272.8L1170.9 271.6L1171.9 270.7L1172.9 270.5L1173.9 270.2L1175.0 270.4L1176.1 270.4L1177.2 269.1L1178.3 267.6L1179.5 266.5L1180.7 266.5L1181.9 267.3L1183.1 267.3L1184.4 265.9L1185.5 264.8L1186.6 265.1L1187.7 265.4L1188.9 265.3L1190.0 264.7L1191.2 263.9L1192.3 263.8L1193.6 264.5L1194.8 264.5L1196.1 263.2L1197.4 262.4L1198.8 263.1L1200.2 263.8L1201.7 263.9L1203.2 263.5L1204.3 263.1L1205.4 263.0L1206.5 262.8L1207.6 262.7L1208.8 262.7L1209.9 262.3L1211.1 261.7L1212.3 261.7L1213.6 262.3L1214.8 262.7L1216.1 262.3L1217.4 261.3L1218.7 260.8L1220.0 260.9L1221.3 261.5L1222.7 261.7L1224.1 260.8L1225.5 260.4L1226.9 260.7L1228.4 260.8L1229.8 261.3L1231.3 261.6L1232.4 261.4L1233.6 261.4L1234.8 261.4L1235.9 261.6L1237.1 261.6L1238.3 261.4L1239.5 261.5L1240.8 262.1L1242.0 262.1L1243.2 261.2L1244.5 260.4L1245.8 260.0L1247.0 260.2L1248.3 260.7L1249.6 260.9L1251.0 260.4L1252.3 260.3L1253.6 260.5L1255.0 260.4L1256.3 260.5L1257.7 260.9L1259.0 261.0L1260.4 260.2L1261.8 259.4L1263.2 259.8L1264.6 260.5L1266.0 261.0L1267.5 260.5L1268.9 259.2L1270.1 258.9L1271.3 259.3L1272.6 259.1L1273.9 258.9L1275.2 259.6L1276.6 259.3L1278.0 258.8L1279.4 259.3L1280.9 259.0L1282.3 258.3L1283.8 258.7L1285.3 259.0L1286.8 258.9L1288.3 259.3L1289.8 259.5L1291.2 259.2L1292.7 259.6L1294.2 259.7L1295.7 259.1L1297.1 259.7L1298.5 260.0L1299.9 258.9L1301.3 257.9L1302.6 258.0L1303.9 258.5L1305.1 258.6L1306.4 258.9L1307.5 259.2L1308.6 259.4L1309.7 259.6L1310.7 259.3L1311.7 259.1L1312.6 258.7L1313.4 258.4L1314.1 258.7L1314.8 259.0" fill="none" stroke="#0000ff" stroke-width="2.6" stroke-linejoin="round" stroke-linecap="round"/>
<path d="M750.0 250.1L750.7 249.9L751.4 249.0L752.1 248.7L752.9 249.7L753.8 250.3L754.6 249.6L755.5 248.7L756.5 248.7L757.5 249.4L758.5 249.8L759.5 249.5L760.6 249.2L761.7 249.3L762.8 249.3L764.0 249.1L765.2 249.4L766.4 250.0L767.7 250.4L768.9 250.2L770.2 249.8L771.5 249.6L772.9 249.8L774.2 249.8L775.6 249.5L777.0 249.8L778.4 250.1L779.8 250.1L781.2 250.6L782.7 251.2L784.2 251.4L785.6 250.7L787.1 249.7L788.6 249.6L790.1 249.9L791.6 250.3L793.1 250.3L794.6 250.2L796.1 250.2L797.6 249.9L799.1 249.8L800.6 250.3L802.1 250.9L803.6 250.4L805.1 249.6L806.6 249.0L808.1 248.8L809.6 249.7L811.1 250.6L812.5 250.9L814.0 250.5L815.4 250.5L816.8 250.8L818.2 250.1L819.6 249.8L821.0 250.1L822.4 250.1L823.7 250.5L825.0 250.9L826.3 250.7L827.6 250.6L828.9 250.4L830.1 249.3L831.3 248.4L832.7 249.1L834.1 249.7L835.6 249.5L837.0 249.8L838.5 250.7L839.9 250.8L841.4 250.0L842.8 249.9L844.3 250.6L845.7 250.4L847.2 250.4L848.7 250.8L850.1 250.8L851.6 250.7L853.1 250.7L854.5 251.0L856.0 251.5L857.4 251.2L858.9 250.4L860.3 249.8L861.7 249.5L863.2 250.0L864.6 250.6L866.0 249.4L867.4 249.1L868.8 250.8L870.2 251.3L871.5 250.6L872.9 250.4L874.2 249.9L875.6 249.9L876.9 250.4L878.2 250.4L879.5 250.5L880.8 251.1L882.0 251.0L883.2 250.1L884.5 249.6L885.7 249.8L886.8 250.0L888.0 250.2L889.1 250.3L890.2 250.0L891.3 250.2L892.4 250.6L893.4 250.9L894.5 250.8L895.5 249.6L896.4 249.2L897.4 249.3L898.3 250.2L899.1 250.7L900.0 249.6L902.6 249.4L904.9 249.9L907.0 250.0L908.8 249.6L910.4 249.1L911.7 249.1L912.9 248.6L914.0 248.3L914.9 249.0L915.7 249.0L916.5 248.2L917.2 247.9L917.9 248.1L918.6 248.2L919.3 247.8L920.0 246.9L922.0 246.6L923.1 247.4L923.8 246.9L924.3 245.3L925.0 244.3L925.7 243.9L926.3 243.0L926.8 242.1L927.4 242.1L928.0 241.1L928.6 239.4L929.0 238.5L929.5 237.9L930.0 237.1L930.5 236.1L931.0 235.3L931.4 234.1L931.9 232.0L932.4 230.0L932.9 228.4L933.2 227.5L933.5 226.6L933.8 225.8L934.2 225.1L934.5 223.8L934.8 222.4L935.1 221.6L935.4 220.2L935.7 218.6L936.0 216.8L936.3 215.1L936.6 214.0L936.9 212.8L937.2 211.9L937.4 211.5L937.6 210.6L937.7 209.5L937.9 208.3L938.1 207.1L938.3 205.8L938.4 204.6L938.6 203.0L938.8 201.3L938.9 199.9L939.1 199.1L939.2 197.9L939.4 195.8L939.6 194.2L939.7 193.4L939.9 192.5L940.0 190.8L940.2 189.1L940.3 187.8L940.5 186.3L940.6 184.5L940.7 184.1L940.9 183.7L941.0 181.8L941.2 180.8L941.3 180.5L941.5 179.2L941.6 177.5L941.8 175.4L941.9 174.3L942.0 174.1L942.2 172.6L942.3 170.9L942.4 170.1L942.5 168.6L942.7 166.4L942.8 164.7L942.9 163.6L943.0 162.5L943.1 160.9L943.2 159.5L943.3 158.2L943.4 157.2L943.5 156.2L943.6 155.4L943.7 154.5L943.8 153.0L943.8 151.8L943.9 151.0L944.0 149.2L944.1 146.9L944.1 145.7L944.2 144.9L944.3 143.8L944.3 142.5L944.4 140.4L944.5 139.3L944.5 139.4L944.6 138.1L944.7 136.0L944.8 135.3L944.8 134.5L944.9 132.3L945.0 130.4L945.1 129.2L945.1 127.9L945.2 126.6L945.3 125.6L945.4 124.5L945.4 124.3L945.5 123.6L945.6 121.7L945.7 120.6L945.7 119.0L945.8 116.5L945.9 115.6L945.9 114.9L946.0 113.8L946.0 112.7L946.1 111.3L946.1 109.9L946.2 108.5L946.2 107.0L946.3 106.2L946.3 105.7L946.4 103.7L946.4 102.0L946.5 101.9L946.5 100.7L946.6 98.3L946.6 96.4L946.7 95.4L946.7 94.8L946.8 93.2L946.8 91.8L946.9 90.8L946.9 89.3L947.0 88.2L947.0 87.5L947.1 86.1L947.1 84.4L947.2 82.9L947.2 81.4L947.3 79.8L947.3 78.7L947.4 77.4L947.4 75.2L947.5 73.7L947.5 73.0L947.6 72.2L947.6 71.1L947.7 70.0L947.8 68.5L947.9 67.7L948.0 66.9L948.1 65.4L948.2 63.7L948.3 62.4L948.4 61.2L948.5 60.5L948.8 59.0L949.0 58.3L949.3 57.6L949.8 57.6L950.3 59.4L950.5 60.8L950.6 61.7L950.8 62.8L950.9 63.3L951.1 63.9L951.2 65.7L951.3 66.9L951.4 67.5L951.4 67.6L951.5 67.4L951.6 68.6L951.7 70.6L951.8 73.2L951.9 76.4L951.9 76.6L952.0 77.5L952.0 78.3L952.0 79.1L952.1 80.6L952.1 81.6L952.1 82.8L952.2 84.2L952.2 85.6L952.2 86.5L952.3 86.5L952.3 87.0L952.4 88.7L952.4 90.5L952.4 91.5L952.5 92.0L952.5 93.1L952.6 94.8L952.6 96.3L952.7 97.6L952.7 99.3L952.7 101.0L952.8 102.5L952.8 104.2L952.9 105.4L952.9 106.6L953.0 108.5L953.0 109.8L953.1 110.6L953.1 111.9L953.2 113.7L953.2 115.7L953.2 117.5L953.3 118.6L953.3 119.2L953.4 120.6L953.4 122.8L953.5 124.9L953.5 126.4L953.5 126.7L953.6 127.6L953.6 129.3L953.6 130.2L953.7 131.3L953.7 133.4L953.7 134.6L953.8 135.2L953.8 136.0L953.8 137.1L953.8 138.5L953.9 139.4L953.9 140.2L953.9 141.2L954.0 142.5L954.0 144.7L954.0 146.5L954.1 146.7L954.1 146.7L954.1 148.0L954.2 149.7L954.2 150.7L954.2 150.9L954.3 152.0L954.3 154.4L954.3 156.5L954.4 158.1L954.4 159.5L954.4 160.1L954.5 161.0L954.5 162.3L954.5 163.7L954.6 165.2L954.6 165.8L954.6 166.9L954.7 168.6L954.7 170.5L954.7 172.3L954.8 173.5L954.8 174.8L954.8 176.4L954.9 178.1L954.9 179.5L954.9 180.3L954.9 181.5L955.0 183.3L955.0 185.2L955.0 187.0L955.1 188.8L955.1 190.4L955.1 192.1L955.2 193.2L955.2 194.3L955.2 195.6L955.2 196.6L955.3 197.5L955.3 199.3L955.3 201.0L955.3 201.7L955.3 202.6L955.4 204.1L955.4 205.2L955.4 206.1L955.4 207.2L955.4 208.3L955.5 209.7L955.5 210.8L955.5 211.6L955.5 213.3L955.5 214.4L955.6 214.9L955.6 216.2L955.6 217.7L955.6 219.1L955.6 220.7L955.7 221.9L955.7 223.1L955.7 224.3L955.7 226.2L955.7 228.5L955.8 229.1L955.8 229.3L955.8 230.7L955.8 232.2L955.9 233.7L955.9 235.7L955.9 237.2L955.9 238.3L955.9 239.6L956.0 240.5L956.0 241.0L956.0 241.6L956.0 243.7L956.0 246.5L956.1 248.3L956.1 249.0L956.1 249.7L956.1 251.5L956.1 253.1L956.2 254.6L956.2 256.3L956.2 257.4L956.2 258.5L956.2 260.1L956.2 261.6L956.3 262.5L956.3 264.0L956.3 265.9L956.3 266.7L956.3 268.1L956.4 270.1L956.4 271.1L956.4 271.9L956.4 273.7L956.4 275.5L956.5 276.7L956.5 277.5L956.5 279.2L956.5 280.8L956.5 281.6L956.6 282.8L956.6 284.2L956.6 285.3L956.6 286.3L956.6 287.7L956.6 289.4L956.7 290.5L956.7 291.2L956.7 292.7L956.7 294.7L956.7 296.0L956.7 296.9L956.8 298.0L956.8 299.1L956.8 300.2L956.8 301.8L956.8 303.1L956.9 304.1L956.9 305.7L956.9 308.2L956.9 309.8L957.0 310.5L957.0 311.5L957.0 312.5L957.0 313.4L957.0 315.0L957.1 317.4L957.1 319.1L957.1 319.8L957.1 320.5L957.1 321.7L957.2 323.6L957.2 325.5L957.2 326.5L957.2 327.0L957.2 328.4L957.3 330.5L957.3 332.5L957.3 334.4L957.3 335.6L957.3 336.0L957.4 336.7L957.4 337.9L957.4 338.8L957.4 340.4L957.4 342.5L957.4 344.1L957.5 345.5L957.5 346.7L957.5 347.4L957.5 348.6L957.5 349.8L957.6 350.9L957.6 352.3L957.6 353.2L957.6 353.5L957.6 354.6L957.6 356.7L957.7 358.2L957.7 359.1L957.7 360.0L957.7 361.2L957.7 363.2L957.8 365.0L957.8 366.1L957.8 366.7L957.8 367.6L957.8 369.3L957.8 371.0L957.9 372.1L957.9 372.6L957.9 372.9L957.9 373.9L957.9 375.3L958.0 377.3L958.0 379.2L958.0 380.0L958.0 381.4L958.0 383.2L958.1 384.4L958.1 386.2L958.1 387.8L958.1 389.0L958.1 390.1L958.2 390.7L958.2 391.9L958.2 393.7L958.2 395.4L958.3 397.2L958.3 398.9L958.3 399.8L958.3 400.6L958.3 402.0L958.4 404.1L958.4 405.8L958.4 406.4L958.4 407.2L958.4 409.1L958.5 411.6L958.5 413.4L958.5 414.6L958.5 416.0L958.6 417.4L958.6 418.2L958.6 419.1L958.6 421.1L958.6 423.2L958.7 424.8L958.7 425.8L958.7 426.5L958.7 427.4L958.7 428.9L958.8 430.5L958.8 431.6L958.8 432.8L958.8 433.8L958.8 434.6L958.9 435.9L958.9 437.6L958.9 439.4L958.9 440.8L959.0 441.7L959.0 443.0L959.0 444.6L959.0 445.6L959.0 445.9L959.1 446.8L959.1 448.0L959.1 448.9L959.1 449.6L959.1 450.0L959.2 450.7L959.2 451.4L959.2 452.1L959.3 455.4L959.4 458.1L959.5 460.2L959.5 462.5L959.6 464.3L959.7 464.9L959.8 465.8L959.9 466.8L960.0 467.2L960.0 468.2L960.1 469.5L960.2 469.4L960.3 468.7L960.4 468.3L960.5 468.3L960.5 468.3L960.6 468.7L960.7 469.4L960.8 469.3L960.9 468.4L961.0 465.9L961.1 463.0L961.3 460.4L961.5 455.9L961.5 454.7L961.6 453.3L961.6 452.2L961.6 452.0L961.7 451.5L961.7 449.6L961.7 448.4L961.8 447.6L961.8 446.6L961.8 446.0L961.9 445.1L961.9 444.2L962.0 443.0L962.0 441.2L962.0 440.3L962.1 439.7L962.1 438.1L962.2 436.4L962.2 435.7L962.2 434.7L962.3 433.3L962.3 431.9L962.4 430.7L962.4 429.5L962.5 427.6L962.5 425.8L962.5 425.3L962.6 424.6L962.6 423.1L962.7 421.6L962.7 420.0L962.8 418.3L962.8 416.9L962.9 415.0L962.9 412.7L963.0 411.5L963.0 411.0L963.1 409.9L963.1 408.0L963.2 405.6L963.2 403.8L963.3 403.0L963.3 401.6L963.4 399.6L963.4 398.0L963.5 396.2L963.5 394.7L963.6 394.1L963.6 393.3L963.7 391.6L963.7 389.3L963.8 387.0L963.8 385.5L963.9 385.0L963.9 384.7L964.0 383.1L964.0 381.1L964.1 379.7L964.1 378.4L964.2 376.7L964.3 375.2L964.3 373.6L964.4 371.7L964.4 370.0L964.5 369.2L964.5 368.2L964.6 366.2L964.6 364.8L964.7 363.9L964.7 362.8L964.8 361.7L964.9 360.7L964.9 359.3L965.0 358.2L965.0 357.0L965.1 355.6L965.1 355.2L965.2 354.1L965.2 352.2L965.3 351.0L965.3 350.1L965.4 349.4L965.5 347.5L965.6 345.2L965.7 344.0L965.9 342.6L966.0 341.1L966.1 339.7L966.2 337.0L966.3 334.7L966.4 333.8L966.5 332.4L966.7 330.1L966.8 327.8L966.9 327.0L967.0 326.6L967.1 325.3L967.3 324.5L967.4 322.9L967.5 320.6L967.6 319.9L967.8 319.7L967.9 318.9L968.0 317.9L968.1 316.5L968.3 314.7L968.4 313.2L968.5 312.2L968.7 311.2L968.8 309.5L968.9 308.9L969.1 309.2L969.2 308.3L969.3 306.7L969.5 305.0L969.6 303.4L969.8 302.4L969.9 301.4L970.1 300.1L970.2 299.2L970.4 299.0L970.5 298.5L970.8 296.8L971.0 294.8L971.3 293.3L971.5 292.7L971.8 291.2L972.1 289.4L972.3 287.8L972.6 286.2L972.9 284.7L973.2 283.3L973.4 282.6L973.7 281.7L974.0 280.4L974.3 278.9L974.6 277.6L974.9 276.6L975.2 275.6L975.5 274.4L975.8 273.7L976.1 272.6L976.4 270.5L976.8 269.4L977.1 269.3L977.4 268.5L978.1 266.3L978.7 264.6L979.4 263.2L980.0 262.2L980.7 261.4L981.4 260.3L982.2 259.6L983.0 260.1L983.9 260.6L984.9 259.9L986.0 258.7L986.9 258.0L987.9 257.5L988.8 256.9L989.8 256.5L990.8 256.2L991.9 255.7L993.0 255.6L994.2 255.8L995.4 256.3L996.8 256.5L998.2 255.4L999.8 254.8L1001.4 255.4L1003.2 255.6L1004.2 255.3L1005.2 254.5L1006.3 253.7L1007.4 253.6L1008.6 253.6L1009.8 254.3L1011.1 254.9L1012.3 254.3L1013.6 254.1L1015.0 254.0L1016.3 253.4L1017.7 253.4L1019.1 253.2L1020.4 252.7L1021.8 252.5L1023.2 252.6L1024.6 253.1L1026.0 252.9L1027.4 252.5L1028.7 252.2L1030.1 251.0L1031.4 250.8L1032.7 251.9L1034.0 252.2L1035.2 251.8L1036.4 251.0L1037.6 250.2L1039.0 250.7L1040.4 251.5L1041.8 251.4L1043.2 250.9L1044.6 250.9L1046.0 250.8L1047.3 250.3L1048.7 249.4L1050.0 248.9L1051.3 249.8L1052.6 250.1L1053.9 250.0L1055.1 250.3L1056.4 250.5L1057.6 250.5L1058.7 250.3L1059.9 249.7L1061.0 248.7L1062.1 248.4L1063.1 249.5L1064.1 249.6L1065.1 248.5L1066.8 247.6L1068.3 247.2L1069.8 246.6L1071.1 246.5L1072.4 246.4L1073.6 245.4L1074.7 244.5L1075.7 244.2L1076.7 244.0L1077.6 243.7L1078.5 243.2L1079.4 242.0L1080.9 240.2L1082.1 239.7L1083.1 239.8L1083.9 239.3L1084.7 238.8L1085.6 238.3L1086.5 237.4L1087.3 236.3L1088.2 235.1L1088.9 234.1L1089.7 232.9L1090.5 231.8L1091.2 230.9L1091.8 229.5L1092.4 228.6L1093.0 228.1L1093.7 227.3L1094.3 226.0L1095.0 224.5L1095.5 223.2L1096.0 221.5L1096.5 220.9L1097.0 220.4L1097.6 219.5L1098.1 218.7L1098.6 217.5L1099.1 215.9L1099.6 214.6L1100.1 214.0L1100.5 212.7L1100.9 211.0L1101.3 210.1L1101.6 208.4L1101.9 207.1L1102.1 207.1L1102.4 206.6L1102.7 204.9L1103.0 202.8L1103.3 200.9L1103.6 199.5L1103.8 198.9L1104.1 197.7L1104.3 196.3L1104.6 194.9L1104.9 193.3L1105.1 192.3L1105.4 190.9L1105.7 190.0L1106.0 189.9L1106.2 188.5L1106.5 186.1L1106.8 184.8L1107.0 184.2L1107.3 182.7L1107.5 180.3L1107.7 178.9L1108.0 178.8L1108.2 178.3L1108.4 176.5L1108.6 174.2L1108.8 173.0L1109.0 172.7L1109.2 171.7L1109.4 169.8L1109.6 167.8L1109.8 167.1L1110.0 166.7L1110.2 165.7L1110.4 164.9L1110.6 163.6L1110.8 162.2L1111.0 160.6L1111.1 158.8L1111.3 157.0L1111.5 156.1L1111.7 155.5L1111.9 153.5L1112.1 151.5L1112.3 150.9L1112.4 150.0L1112.6 148.6L1112.8 147.3L1113.0 146.6L1113.2 146.0L1113.3 144.0L1113.5 142.1L1113.6 141.5L1113.8 140.9L1114.0 139.6L1114.2 138.2L1114.4 136.7L1114.6 135.0L1114.7 133.2L1114.9 131.6L1115.1 130.5L1115.2 129.4L1115.4 128.4L1115.5 127.7L1115.7 127.1L1115.8 126.5L1116.0 125.6L1116.4 123.9L1116.8 123.4L1117.1 121.8L1117.5 119.9L1117.8 119.3L1118.4 119.3L1119.0 120.5L1119.5 122.7L1119.7 123.6L1119.9 124.0L1120.0 124.1L1120.2 125.4L1120.4 127.3L1120.6 129.3L1120.8 132.7L1120.9 133.2L1120.9 132.6L1121.0 133.1L1121.0 134.6L1121.1 136.0L1121.2 136.1L1121.2 136.2L1121.3 137.6L1121.4 139.3L1121.5 140.5L1121.5 141.7L1121.6 142.8L1121.7 143.8L1121.8 145.1L1121.8 146.4L1121.9 147.6L1122.0 149.3L1122.1 151.1L1122.2 152.5L1122.2 153.6L1122.3 154.2L1122.4 155.2L1122.5 157.4L1122.6 159.6L1122.6 160.8L1122.7 161.6L1122.8 163.0L1122.9 165.0L1122.9 166.2L1123.0 167.7L1123.1 170.0L1123.1 171.7L1123.2 172.7L1123.2 172.8L1123.3 173.6L1123.3 175.9L1123.4 177.8L1123.4 178.8L1123.5 179.5L1123.6 180.2L1123.6 181.4L1123.7 182.1L1123.7 183.5L1123.8 186.1L1123.8 187.8L1123.9 188.6L1123.9 190.0L1124.0 191.6L1124.0 192.8L1124.1 194.2L1124.1 195.5L1124.2 196.4L1124.2 197.7L1124.3 200.3L1124.3 202.4L1124.4 202.9L1124.5 204.2L1124.5 206.1L1124.6 206.8L1124.6 208.2L1124.7 210.6L1124.7 212.0L1124.8 212.4L1124.8 213.2L1124.9 215.1L1124.9 216.9L1125.0 218.3L1125.0 220.0L1125.0 221.6L1125.1 222.9L1125.1 223.8L1125.2 224.4L1125.2 225.8L1125.3 226.8L1125.3 227.1L1125.3 227.8L1125.4 229.0L1125.4 230.2L1125.5 231.2L1125.5 232.2L1125.6 234.2L1125.6 236.2L1125.7 237.7L1125.7 238.6L1125.8 240.0L1125.8 241.6L1125.9 242.7L1125.9 243.5L1125.9 244.1L1126.0 245.0L1126.0 246.3L1126.0 247.5L1126.1 248.7L1126.1 249.8L1126.1 251.0L1126.2 252.2L1126.2 253.3L1126.2 254.8L1126.3 256.7L1126.3 258.0L1126.4 258.3L1126.4 259.2L1126.5 261.5L1126.5 263.5L1126.6 265.2L1126.6 266.3L1126.7 266.8L1126.7 267.3L1126.7 269.0L1126.8 270.6L1126.8 271.5L1126.9 272.1L1126.9 273.1L1126.9 275.1L1127.0 276.3L1127.0 276.8L1127.1 277.7L1127.1 278.7L1127.2 279.6L1127.2 280.6L1127.3 282.6L1127.3 284.4L1127.4 284.9L1127.4 286.1L1127.4 288.1L1127.5 289.8L1127.5 291.6L1127.6 293.0L1127.6 293.7L1127.7 294.6L1127.7 294.9L1127.8 295.7L1127.8 297.4L1127.9 299.3L1127.9 301.9L1128.0 304.2L1128.1 305.0L1128.1 305.5L1128.2 306.5L1128.2 308.0L1128.3 309.7L1128.3 311.6L1128.4 313.6L1128.4 314.8L1128.5 315.8L1128.5 317.8L1128.6 319.3L1128.6 320.5L1128.7 321.8L1128.7 323.5L1128.8 325.0L1128.8 326.2L1128.9 327.5L1128.9 328.4L1129.0 329.0L1129.0 329.3L1129.1 330.3L1129.2 332.9L1129.2 334.4L1129.3 335.3L1129.3 337.1L1129.4 338.6L1129.5 340.3L1129.5 342.4L1129.6 343.2L1129.7 343.6L1129.7 345.4L1129.8 347.6L1129.9 349.2L1129.9 350.1L1130.0 351.1L1130.1 352.1L1130.1 353.3L1130.2 355.4L1130.3 356.8L1130.3 357.5L1130.4 358.9L1130.5 360.4L1130.5 361.4L1130.6 362.4L1130.7 364.4L1130.7 366.6L1130.8 367.8L1130.9 368.9L1130.9 370.0L1131.0 371.1L1131.1 372.6L1131.1 373.5L1131.2 374.1L1131.3 375.2L1131.3 376.6L1131.4 378.3L1131.4 379.4L1131.5 379.9L1131.6 381.9L1131.6 384.1L1131.7 384.7L1131.7 384.5L1131.8 385.4L1131.8 387.3L1131.9 388.3L1132.0 389.8L1132.1 391.3L1132.2 393.0L1132.3 395.3L1132.4 398.1L1132.5 399.8L1132.6 400.9L1132.7 402.6L1132.8 403.4L1132.9 404.1L1133.0 405.7L1133.1 407.1L1133.2 408.2L1133.3 408.8L1133.4 409.3L1133.5 410.5L1133.6 411.4L1133.7 411.1L1133.8 410.8L1134.0 411.0L1134.2 411.6L1134.4 412.0L1134.6 411.5L1134.9 410.3L1135.1 409.1L1135.3 408.1L1135.6 406.7L1135.8 404.2L1136.1 401.1L1136.3 398.8L1136.6 397.4L1136.7 396.5L1136.8 394.9L1136.9 394.0L1137.1 393.3L1137.2 391.8L1137.3 390.3L1137.4 389.2L1137.5 388.1L1137.6 387.0L1137.8 385.7L1137.9 383.9L1138.0 382.5L1138.1 381.5L1138.3 379.9L1138.4 378.3L1138.5 377.0L1138.7 375.6L1138.8 374.4L1138.9 373.3L1139.0 371.5L1139.2 369.2L1139.3 368.0L1139.5 367.3L1139.6 366.3L1139.7 365.3L1139.9 364.1L1140.0 362.4L1140.2 360.2L1140.3 359.3L1140.5 358.3L1140.6 356.6L1140.8 355.4L1141.0 354.4L1141.2 353.0L1141.4 351.1L1141.6 349.6L1141.8 349.3L1142.0 348.1L1142.2 345.8L1142.3 344.1L1142.5 342.9L1142.7 342.0L1142.9 340.7L1143.1 338.7L1143.3 337.2L1143.5 336.5L1143.7 335.8L1143.9 334.8L1144.1 333.7L1144.3 332.6L1144.5 331.7L1144.7 330.8L1144.8 329.2L1145.0 327.1L1145.2 325.7L1145.5 324.8L1145.7 323.4L1145.9 322.5L1146.1 321.4L1146.3 319.2L1146.5 317.4L1146.7 316.7L1146.9 316.8L1147.2 315.9L1147.4 314.4L1147.6 313.2L1147.8 311.4L1148.0 310.1L1148.3 309.4L1148.5 308.2L1148.8 306.5L1149.1 304.9L1149.5 304.3L1149.8 303.5L1150.2 302.1L1150.5 300.8L1150.9 299.9L1151.3 298.5L1151.7 296.9L1152.1 296.5L1152.5 295.4L1152.9 293.3L1153.3 291.9L1153.6 290.2L1154.0 289.1L1154.4 288.8L1155.1 287.1L1155.7 285.3L1156.3 284.1L1157.0 283.7L1157.6 283.5L1158.3 282.6L1159.1 281.6L1160.0 280.7L1160.7 279.3L1161.4 277.8L1162.1 276.9L1162.9 275.9L1163.7 275.2L1164.5 275.1L1165.4 274.2L1166.3 272.6L1167.3 272.1L1168.3 272.1L1169.4 271.2L1170.4 270.6L1171.4 270.2L1172.4 269.4L1173.5 268.3L1174.6 267.9L1175.7 267.0L1176.9 265.6L1178.1 265.5L1179.3 266.3L1180.6 266.3L1181.8 265.7L1183.1 264.7L1184.4 263.8L1185.5 263.6L1186.6 263.9L1187.8 264.0L1188.9 263.2L1190.0 262.3L1191.2 262.3L1192.4 262.8L1193.6 263.4L1194.8 263.6L1196.1 263.3L1197.4 263.3L1198.8 263.1L1200.2 262.4L1201.7 261.8L1203.2 261.8L1204.3 262.0L1205.4 262.0L1206.5 262.0L1207.6 261.7L1208.8 261.5L1209.9 261.3L1211.1 260.8L1212.3 260.3L1213.6 260.3L1214.8 261.0L1216.1 261.6L1217.4 260.9L1218.7 260.3L1220.0 260.8L1221.3 260.8L1222.7 260.6L1224.1 260.5L1225.5 259.7L1226.9 259.3L1228.4 259.5L1229.8 259.7L1231.3 259.8L1232.4 260.1L1233.6 260.4L1234.8 260.2L1235.9 260.0L1237.1 259.5L1238.3 259.2L1239.5 259.2L1240.8 259.4L1242.0 259.7L1243.2 259.4L1244.5 259.0L1245.8 259.3L1247.0 259.5L1248.3 259.0L1249.6 258.8L1251.0 258.9L1252.3 259.0L1253.6 258.3L1255.0 257.7L1256.3 258.8L1257.7 260.6L1259.0 260.9L1260.4 260.2L1261.8 259.7L1263.2 259.8L1264.6 259.8L1266.0 259.3L1267.5 259.2L1268.9 258.7L1270.1 258.5L1271.3 259.3L1272.6 259.8L1273.9 259.4L1275.2 259.0L1276.6 258.5L1278.0 258.4L1279.4 258.2L1280.9 258.2L1282.3 259.2L1283.8 260.3L1285.3 260.1L1286.8 259.0L1288.3 258.9L1289.8 259.2L1291.2 258.4L1292.7 258.0L1294.2 258.9L1295.7 259.8L1297.1 259.1L1298.5 257.2L1299.9 256.5L1301.3 257.4L1302.6 258.2L1303.9 257.8L1305.1 257.8L1306.4 258.2L1307.5 258.2L1308.6 258.0L1309.7 257.2L1310.7 257.4L1311.7 258.1L1312.6 257.7L1313.4 257.9L1314.1 258.5L1314.8 258.6" fill="none" stroke="#ff0000" stroke-width="2.6" stroke-linejoin="round" stroke-linecap="round"/>
<path d="M21.4 786.5L22.1 787.1L22.8 788.0L23.6 787.4L24.4 786.7L25.2 786.5L26.1 786.2L27.1 786.2L28.0 786.6L29.1 786.8L30.1 787.0L31.2 786.5L32.3 785.7L33.5 785.7L34.7 785.9L35.9 786.0L37.2 786.6L38.4 787.3L39.8 787.5L41.1 787.2L42.4 787.3L43.8 788.0L45.2 787.9L46.6 787.8L48.1 788.2L49.5 788.3L51.0 788.3L52.5 788.1L54.0 787.6L55.5 787.5L57.1 788.5L58.6 789.3L60.1 789.0L61.7 789.3L63.2 789.4L64.8 788.9L66.4 789.3L67.9 789.5L69.5 788.7L71.0 788.6L72.6 789.2L74.2 789.6L75.7 789.9L76.8 789.1L77.9 788.2L79.1 788.1L80.3 788.3L81.4 788.9L82.6 789.1L83.8 788.4L85.1 788.3L86.3 788.7L87.6 788.9L88.8 788.8L90.1 788.3L91.4 788.0L92.7 787.9L94.0 788.4L95.3 789.8L96.7 789.6L98.0 788.6L99.4 788.1L100.7 787.9L102.1 788.6L103.4 788.9L104.8 788.1L106.2 787.9L107.5 788.1L108.9 788.1L110.3 787.6L111.7 787.3L113.0 787.4L114.4 787.7L115.8 788.0L117.2 787.9L118.6 787.3L119.9 786.7L121.3 786.8L122.7 787.0L124.0 787.0L125.4 787.1L126.7 786.7L128.1 786.6L129.4 787.4L130.7 787.6L132.0 787.1L133.3 786.9L134.6 786.3L135.9 786.0L137.2 786.8L138.5 787.4L139.7 786.7L140.9 786.0L142.2 786.2L143.4 786.2L144.5 786.1L145.7 786.0L146.9 785.2L148.0 784.8L149.1 785.5L150.2 786.5L151.3 786.4L152.9 785.7L154.5 785.8L156.1 786.5L157.7 786.6L159.3 786.0L160.8 786.4L162.3 787.2L163.9 786.6L165.4 785.8L166.9 785.8L168.4 785.9L169.8 786.0L171.3 785.8L172.7 785.3L174.2 785.4L175.6 785.4L177.0 785.1L178.3 785.0L179.7 785.1L181.0 785.9L182.3 786.0L183.6 785.3L184.9 785.3L186.1 785.3L187.3 785.0L188.5 784.8L189.7 785.1L190.8 785.0L192.0 784.6L193.1 784.7L194.2 784.4L195.2 783.8L196.2 784.2L197.2 784.5L198.2 784.3L199.1 784.1L200.1 783.8L200.9 783.8L201.8 783.9L204.1 783.4L206.1 783.4L207.9 783.0L209.3 782.2L210.5 781.6L211.6 781.2L212.5 780.8L213.2 780.4L214.0 779.4L214.7 777.9L215.3 777.4L216.1 777.6L216.9 777.1L217.9 776.2L218.8 775.3L219.6 774.6L220.3 774.3L221.0 773.1L221.6 771.4L222.2 770.4L222.8 769.9L223.4 769.3L223.9 768.3L224.5 766.6L225.0 764.5L225.4 763.5L225.9 763.0L226.3 761.6L226.7 760.2L227.1 759.3L227.5 758.4L227.9 757.0L228.2 755.1L228.6 753.5L228.9 752.4L229.2 751.9L229.5 750.6L229.8 749.1L230.1 748.5L230.4 747.2L230.6 745.4L230.8 744.1L231.0 743.1L231.2 742.2L231.4 741.0L231.6 739.6L231.8 737.9L232.0 735.9L232.2 735.3L232.4 735.1L232.6 734.2L232.8 732.6L233.0 730.3L233.2 728.6L233.4 728.4L233.6 728.2L233.8 726.4L234.0 723.9L234.2 722.4L234.4 721.5L234.6 720.6L234.8 719.6L234.9 717.8L235.1 715.7L235.2 715.0L235.3 714.2L235.5 712.3L235.6 710.3L235.7 708.8L235.8 708.2L236.0 708.4L236.1 707.2L236.2 705.4L236.4 704.2L236.5 702.7L236.8 700.5L237.2 699.0L237.5 698.0L237.8 697.8L238.2 697.7L238.5 696.8L238.9 696.2L239.4 696.5L239.8 697.5L240.2 698.9L240.6 700.8L240.7 701.9L240.8 703.3L240.9 704.1L241.0 704.7L241.1 706.0L241.2 707.1L241.3 707.5L241.4 708.3L241.5 710.4L241.6 712.5L241.6 714.3L241.7 716.4L241.8 717.4L241.9 718.2L242.0 719.9L242.1 721.4L242.1 722.3L242.2 723.1L242.2 724.8L242.3 726.6L242.3 727.0L242.4 727.0L242.4 727.2L242.5 727.9L242.5 729.4L242.6 730.7L242.6 731.7L242.7 733.0L242.7 734.8L242.8 736.1L242.9 736.5L242.9 737.6L243.0 739.9L243.0 742.2L243.1 743.7L243.2 744.8L243.2 746.1L243.3 748.3L243.4 751.2L243.4 752.2L243.5 753.0L243.5 754.2L243.5 755.4L243.6 755.9L243.6 756.3L243.7 757.3L243.7 758.9L243.7 760.3L243.8 761.6L243.8 763.0L243.9 763.8L243.9 765.1L243.9 766.5L244.0 767.0L244.0 767.8L244.1 769.8L244.1 771.8L244.2 772.9L244.2 773.8L244.2 775.2L244.3 777.0L244.3 778.0L244.4 779.3L244.4 781.7L244.5 783.8L244.5 784.7L244.6 785.1L244.6 786.3L244.7 787.9L244.7 789.3L244.8 791.0L244.8 793.2L244.8 794.8L244.9 796.0L244.9 797.2L245.0 798.6L245.0 800.5L245.1 801.6L245.1 802.6L245.2 804.1L245.2 805.8L245.3 807.1L245.3 808.2L245.3 809.3L245.4 810.8L245.4 812.3L245.5 813.4L245.5 814.3L245.6 815.5L245.6 817.3L245.6 818.8L245.7 819.8L245.7 821.3L245.8 822.5L245.8 823.0L245.8 823.8L245.9 825.7L245.9 827.7L246.0 829.3L246.0 830.1L246.1 831.6L246.1 833.7L246.2 835.1L246.2 836.2L246.3 838.0L246.3 840.0L246.4 841.3L246.4 842.7L246.5 843.9L246.5 844.8L246.6 846.2L246.6 847.5L246.7 849.0L246.7 851.0L246.7 852.7L246.8 853.5L246.8 854.6L246.9 856.2L246.9 856.6L247.0 856.6L247.0 857.7L247.0 859.2L247.1 860.1L247.1 861.3L247.2 863.0L247.2 864.7L247.3 865.8L247.3 866.4L247.4 866.9L247.4 868.0L247.5 869.6L247.5 871.2L247.6 873.1L247.7 874.3L247.8 875.5L247.9 877.1L248.0 878.2L248.1 879.5L248.2 881.7L248.3 883.6L248.4 884.1L248.5 884.9L248.6 886.7L248.7 888.4L248.8 889.3L248.9 889.8L249.0 890.1L249.1 891.1L249.2 892.3L249.3 892.5L249.6 892.9L249.9 892.2L250.2 891.0L250.5 889.2L250.7 887.5L250.9 886.4L251.0 885.8L251.2 884.4L251.4 882.9L251.6 881.4L251.8 879.1L251.9 878.5L252.0 878.0L252.0 876.4L252.1 874.4L252.2 873.6L252.3 873.1L252.3 871.4L252.4 869.9L252.5 869.1L252.6 867.9L252.7 866.4L252.8 864.9L252.8 863.4L252.9 862.1L253.0 860.8L253.1 859.5L253.2 858.2L253.3 857.0L253.4 856.3L253.5 854.9L253.6 852.9L253.7 851.4L253.9 850.2L254.0 848.9L254.1 847.7L254.3 846.3L254.4 845.1L254.5 844.4L254.7 842.8L254.8 840.9L255.0 839.8L255.1 838.8L255.3 837.8L255.4 836.7L255.6 835.2L255.7 834.0L255.9 832.7L256.1 831.3L256.4 830.2L256.7 828.2L257.0 826.6L257.3 825.9L257.6 824.8L257.9 823.8L258.1 822.9L258.4 821.6L258.7 820.7L259.0 819.7L259.2 818.4L259.6 816.9L260.0 815.5L260.4 814.1L260.7 813.2L261.1 812.5L261.5 811.4L261.9 809.9L262.2 809.0L262.6 808.2L263.0 807.7L263.5 807.3L264.2 805.8L264.8 804.4L265.6 803.8L266.4 802.7L267.2 801.4L268.1 800.1L269.0 799.3L269.9 799.5L270.7 799.3L271.7 797.8L272.6 796.3L273.4 795.3L274.4 795.1L275.6 795.1L277.0 794.8L277.9 794.4L278.8 794.1L279.7 794.1L280.7 794.1L281.8 794.0L282.9 793.9L284.1 793.5L285.4 793.0L286.8 792.5L288.3 792.1L290.0 792.1L291.0 792.4L292.0 792.1L293.1 791.3L294.3 791.0L295.5 790.9L296.7 790.7L298.0 790.8L299.3 790.7L300.6 790.8L301.9 791.0L303.3 790.6L304.6 789.8L306.0 789.4L307.4 789.8L308.7 789.9L310.1 789.0L311.4 788.3L312.7 788.4L314.0 788.7L315.3 788.8L316.6 788.6L317.8 788.2L319.1 788.4L320.3 789.1L321.6 788.7L322.8 787.7L324.1 787.8L325.3 788.3L326.6 788.2L327.8 788.2L329.0 788.5L330.3 789.0L331.5 788.8L332.7 788.5L334.0 788.9L335.2 789.1L336.4 788.9L337.6 787.9L338.8 787.5L340.0 788.1L341.3 787.9L342.7 786.5L344.0 786.1L345.3 787.4L346.6 788.2L348.0 787.9L349.3 788.1L350.6 788.2L351.9 788.3L353.2 788.6L354.5 788.4L355.7 788.5L357.0 788.6L358.2 788.3L359.4 788.3L360.6 788.3L361.8 787.8L362.9 788.1L364.2 788.3L365.4 787.0L366.6 785.9L367.8 785.2L369.0 784.3L370.2 784.0L371.4 783.8L372.5 783.2L373.6 782.9L374.7 782.8L375.7 781.9L376.8 781.1L377.7 780.7L378.7 780.0L379.6 779.5L380.5 778.3L381.5 777.0L382.5 776.6L383.4 776.3L384.3 775.2L385.2 773.5L386.0 772.1L386.7 771.4L387.4 770.6L388.1 769.4L388.8 768.0L389.4 767.2L390.0 766.8L390.6 765.8L391.2 764.9L391.8 764.1L392.3 762.9L392.7 761.9L393.1 760.9L393.5 759.6L393.9 758.5L394.3 757.5L394.7 756.1L395.2 754.0L395.7 751.9L396.0 751.3L396.4 750.8L396.8 750.5L397.2 749.7L397.6 748.1L398.0 746.1L398.4 744.2L398.9 743.0L399.3 742.4L399.7 741.4L400.2 740.1L400.6 739.1L401.0 737.1L401.4 735.4L401.8 735.0L402.2 733.9L402.6 732.8L402.9 731.6L403.2 729.9L403.7 728.2L404.2 727.4L404.7 726.3L405.0 724.7L405.4 723.0L405.8 721.4L406.1 720.5L406.4 719.5L406.7 718.6L407.0 718.2L407.6 716.7L408.1 715.1L408.6 714.0L409.0 713.4L409.5 712.9L410.3 713.1L411.2 713.9L412.0 714.7L412.4 715.2L412.7 716.3L413.0 716.8L413.4 717.8L413.8 718.8L414.2 719.8L414.6 722.3L414.7 723.4L414.9 724.1L415.0 724.9L415.1 726.4L415.3 727.5L415.4 728.3L415.6 729.7L415.7 730.7L415.9 731.5L416.0 733.3L416.2 735.4L416.3 736.4L416.5 737.0L416.7 738.2L416.8 740.1L417.0 742.0L417.1 743.5L417.3 744.9L417.4 746.1L417.6 747.6L417.7 749.4L417.9 750.3L418.0 751.0L418.1 752.1L418.3 753.2L418.4 754.9L418.5 756.7L418.6 758.5L418.7 759.7L418.8 760.1L418.9 761.2L419.0 763.1L419.0 764.7L419.1 765.7L419.2 766.3L419.3 766.9L419.4 767.8L419.4 768.9L419.5 770.7L419.6 773.0L419.7 774.4L419.7 775.1L419.8 776.5L419.9 777.7L419.9 778.0L420.0 778.8L420.1 780.0L420.2 781.4L420.3 783.5L420.3 785.1L420.4 786.3L420.5 787.8L420.6 789.4L420.7 790.4L420.8 791.6L420.9 793.4L421.0 794.6L421.1 795.7L421.2 796.8L421.2 797.7L421.3 798.8L421.4 800.4L421.5 802.2L421.6 803.6L421.7 804.4L421.8 805.7L421.9 807.1L422.0 808.3L422.1 810.1L422.2 811.6L422.3 812.8L422.4 814.3L422.5 815.6L422.6 817.0L422.7 818.6L422.8 819.9L422.9 821.3L423.0 822.7L423.1 823.8L423.3 825.3L423.4 826.9L423.5 828.6L423.6 830.4L423.7 831.6L423.8 832.6L423.9 833.4L424.0 834.4L424.1 836.1L424.2 836.8L424.3 837.9L424.3 839.5L424.4 840.1L424.5 841.2L424.6 842.4L424.7 843.0L424.9 845.3L425.0 847.6L425.2 849.2L425.3 850.9L425.4 852.4L425.6 854.1L425.7 855.6L425.9 856.5L426.0 857.4L426.1 858.7L426.3 860.1L426.4 861.0L426.5 862.3L426.6 863.9L426.8 865.0L426.9 865.8L427.0 866.1L427.1 866.7L427.3 868.1L427.4 869.3L427.5 870.0L427.8 871.5L428.2 873.5L428.5 875.3L428.8 875.8L429.1 876.2L429.4 877.4L429.7 878.3L430.3 877.7L430.9 876.0L431.5 874.1L431.7 873.1L432.0 873.0L432.2 873.4L432.4 872.3L432.7 870.9L433.1 869.2L433.5 866.7L433.7 866.2L433.9 866.0L434.1 864.9L434.4 863.2L434.6 861.3L434.8 859.9L435.1 859.3L435.4 858.4L435.6 856.8L435.9 855.7L436.2 854.8L436.5 853.2L436.8 851.2L437.2 849.6L437.5 848.4L437.8 846.9L438.2 845.3L438.5 843.6L438.8 842.3L439.0 841.0L439.3 840.0L439.6 839.0L439.8 837.5L440.1 836.3L440.4 835.3L440.7 833.7L440.9 831.9L441.2 830.8L441.5 830.2L441.8 829.4L442.1 828.0L442.4 826.2L442.8 824.5L443.1 823.3L443.4 822.6L443.8 821.5L444.1 820.1L444.5 818.4L444.9 816.7L445.3 816.3L445.7 815.9L446.1 814.1L446.7 812.4L447.3 811.1L448.0 809.4L448.6 808.3L449.3 807.1L450.0 805.8L450.7 804.9L451.4 804.3L452.1 803.1L452.9 801.6L453.7 801.1L454.5 801.0L455.3 800.2L456.1 798.7L457.0 797.8L457.8 797.4L458.7 796.3L459.7 795.5L460.6 795.0L461.5 793.8L462.3 793.6L463.2 793.9L464.1 793.1L465.0 792.6L466.0 792.1L467.1 791.2L468.3 790.9L469.6 791.1L471.0 791.2L472.6 790.8L474.4 790.5L476.4 790.7L477.3 790.3L478.3 789.9L479.3 790.4L480.3 790.0L481.4 789.5L482.5 789.2L483.6 788.0L484.8 787.9L486.0 788.5L487.2 788.3L488.5 787.9L489.7 788.5L491.0 789.1L492.3 789.0L493.7 788.9L495.0 788.8L496.4 788.4L497.7 788.0L499.1 787.9L500.5 788.2L502.0 788.3L503.4 788.0L504.8 787.9L506.2 788.0L507.7 788.0L509.1 787.5L510.5 787.0L512.0 787.0L513.4 787.1L514.8 787.4L516.2 787.5L517.6 786.9L519.0 787.0L520.4 787.4L521.8 787.3L523.0 786.6L524.3 786.7L525.5 787.4L526.7 787.1L528.0 787.0L529.2 787.6L530.5 787.1L531.7 786.2L533.0 786.9L534.2 787.7L535.5 787.2L536.8 786.9L538.0 787.5L539.3 787.4L540.6 786.7L541.9 786.5L543.1 786.6L544.4 786.4L545.7 786.3L547.0 786.7L548.3 786.9L549.6 786.8L550.9 787.3L552.2 787.7L553.5 787.7L554.8 787.5L556.2 786.6L557.5 786.5L558.8 787.3L560.1 787.5L561.4 787.6L562.8 787.4L564.1 786.8L565.5 786.9L566.8 787.0L568.1 786.6L569.5 786.7L570.8 787.2L572.2 787.7L573.4 788.1L574.7 788.3L576.0 788.1L577.4 787.5L578.8 787.4L580.1 787.4L581.6 787.2L583.0 787.5L584.4 788.3L585.9 788.5L587.4 787.3L588.9 786.1L590.4 786.3L591.9 787.4L593.4 788.5L594.9 788.5L596.4 788.0L597.9 788.1L599.4 788.1L600.9 787.8L602.4 787.6L603.8 787.2L605.3 787.3L606.7 787.4L608.1 787.6L609.5 787.9L610.9 787.8L612.2 787.7L613.6 787.9L614.8 787.8L616.1 787.7L617.3 787.9L618.5 788.4L619.6 788.4L620.7 788.2L621.8 788.3L622.8 788.4L623.7 787.9L624.6 787.9L625.5 788.8L626.3 789.0L627.0 788.6L627.7 788.1" fill="none" stroke="#0080ff" stroke-width="2.6" stroke-linejoin="round" stroke-linecap="round"/>
<path d="M21.4 948.4L22.1 947.6L22.8 947.4L23.5 947.4L24.3 947.1L25.1 947.1L26.0 947.3L26.9 947.6L27.8 947.9L28.8 948.1L29.8 948.1L30.8 948.2L31.8 948.1L32.9 947.8L34.0 947.6L35.2 947.2L36.4 947.1L37.6 947.6L38.8 947.9L40.0 948.1L41.3 947.9L42.6 947.5L43.9 947.4L45.2 947.7L46.6 948.3L47.9 948.3L49.3 948.1L50.7 947.7L52.2 947.6L53.6 947.8L55.0 948.3L56.5 948.2L58.0 948.0L59.5 948.1L60.9 948.1L62.4 948.1L64.0 948.2L65.5 948.4L67.0 948.8L68.5 949.0L70.0 948.8L71.6 948.6L73.1 948.8L74.6 949.0L76.2 949.1L77.7 948.7L79.2 948.1L80.8 948.1L82.3 948.6L83.8 949.0L85.3 949.0L86.8 949.1L88.3 948.8L89.5 948.4L90.6 948.7L91.8 949.0L93.0 948.7L94.3 948.4L95.5 948.5L96.8 948.2L98.1 947.8L99.4 947.8L100.7 947.7L102.0 948.2L103.3 949.4L104.7 949.9L106.1 949.5L107.4 949.3L108.8 949.4L110.2 948.9L111.6 947.9L113.0 947.7L114.4 948.1L115.9 947.4L117.3 947.0L118.7 947.8L120.2 948.2L121.6 948.4L123.1 948.6L124.5 948.6L126.0 948.5L127.4 948.5L128.9 948.3L130.3 948.7L131.8 949.0L133.2 948.4L134.7 948.2L136.1 948.4L137.6 948.1L139.0 947.8L140.4 947.5L141.8 947.7L143.2 948.2L144.6 948.6L146.0 948.5L147.4 947.8L148.8 947.8L150.1 948.6L151.5 948.3L152.8 947.4L154.2 947.3L155.5 947.4L156.7 947.2L158.0 947.1L159.3 947.3L160.5 947.5L161.7 947.8L162.9 948.1L164.1 947.8L165.3 947.0L166.4 946.8L167.5 947.4L168.6 948.1L169.7 948.0L170.8 947.7L171.8 947.9L172.8 947.8L173.8 947.5L174.7 947.5L175.6 947.3L176.5 947.0L178.9 947.1L181.1 947.6L183.2 947.6L185.1 947.2L186.9 947.2L188.5 947.3L190.0 947.0L191.4 946.9L192.8 947.6L194.0 948.0L195.1 947.9L196.2 947.7L197.2 947.7L198.2 947.6L199.1 947.3L200.0 946.9L200.8 946.8L201.6 946.5L202.5 946.2L203.3 946.1L204.1 945.9L205.0 945.8L205.9 945.9L206.8 946.4L208.5 947.0L210.0 947.1L211.5 946.6L212.8 945.9L214.1 945.2L215.3 944.8L216.4 944.3L217.4 944.1L218.4 944.0L219.3 943.9L220.2 943.7L221.1 943.5L222.0 943.3L223.1 942.4L224.1 941.1L225.0 940.0L225.8 939.1L226.5 938.0L227.2 937.0L227.8 936.3L228.4 935.5L229.0 934.5L229.5 933.3L230.1 932.3L230.6 931.3L231.0 929.8L231.3 928.3L231.6 927.2L231.9 926.0L232.2 924.7L232.5 923.8L232.8 922.8L233.2 921.5L233.4 920.3L233.7 919.3L234.0 918.3L234.3 917.3L234.6 916.2L234.9 914.8L235.2 913.2L235.5 912.2L235.8 911.3L236.1 910.1L236.4 908.9L236.7 907.2L237.0 905.9L237.6 904.7L238.1 903.7L238.6 903.1L239.1 902.9L239.8 903.0L240.4 904.5L241.0 906.2L241.3 906.2L241.5 906.5L241.7 907.5L241.9 908.8L242.1 911.0L242.2 911.6L242.3 911.9L242.3 912.8L242.4 913.7L242.5 915.1L242.6 916.6L242.7 917.6L242.8 918.8L242.9 920.5L243.0 922.2L243.1 923.7L243.2 925.0L243.3 926.0L243.3 927.2L243.4 928.6L243.5 929.6L243.6 930.9L243.7 932.3L243.7 933.2L243.8 934.3L243.9 935.9L243.9 936.5L244.0 936.9L244.1 938.6L244.1 941.1L244.2 942.5L244.3 943.0L244.3 944.1L244.4 945.6L244.5 946.6L244.6 947.9L244.7 949.4L244.7 950.6L244.8 951.2L244.9 952.0L244.9 953.4L245.0 955.0L245.1 956.4L245.1 957.8L245.2 959.2L245.3 960.9L245.4 962.1L245.5 962.9L245.5 964.3L245.6 966.0L245.7 967.5L245.8 969.1L245.9 970.3L245.9 971.6L246.0 972.9L246.1 974.0L246.2 975.6L246.3 976.6L246.3 977.3L246.4 978.2L246.5 979.0L246.6 981.0L246.7 983.3L246.8 984.8L247.0 986.1L247.1 987.8L247.2 989.3L247.3 990.4L247.4 991.9L247.5 993.6L247.7 995.1L247.8 996.4L247.9 997.5L248.0 998.1L248.1 998.5L248.2 999.2L248.3 1000.3L248.4 1001.1L248.8 1001.8L249.1 1000.5L249.5 998.4L249.8 996.5L250.0 995.8L250.1 995.3L250.2 994.7L250.3 993.8L250.5 992.6L250.7 990.9L251.0 988.8L251.2 988.0L251.3 986.5L251.5 984.8L251.8 983.6L252.0 982.3L252.2 981.2L252.5 980.4L252.7 979.0L253.0 977.1L253.2 975.3L253.5 974.1L253.7 972.8L254.0 971.4L254.2 970.4L254.5 969.4L254.7 968.3L255.2 966.2L255.6 964.9L256.1 963.6L256.5 961.9L257.0 960.8L257.5 960.3L258.0 960.2L258.7 959.4L259.4 958.3L260.1 957.8L261.1 957.4L262.3 956.2L263.1 955.5L263.8 954.6L264.5 953.9L265.3 953.6L266.2 952.9L267.3 952.0L268.7 951.1L270.4 950.0L272.4 949.6L273.3 949.7L274.2 949.8L275.2 950.5L276.2 950.8L277.3 950.3L278.4 949.9L279.5 949.8L280.7 949.6L281.9 949.6L283.2 949.6L284.5 949.3L285.8 949.1L287.1 949.1L288.5 949.2L289.9 948.9L291.3 948.3L292.7 948.0L294.1 948.4L295.5 948.5L296.9 948.4L298.3 948.9L299.8 949.0L301.2 948.5L302.6 948.1L303.8 947.6L305.0 947.5L306.2 947.7L307.4 948.3L308.6 948.6L309.9 948.3L311.2 947.7L312.4 947.6L313.7 947.8L315.0 948.0L316.3 947.8L317.7 947.6L319.0 947.9L320.3 947.8L321.6 947.0L323.0 947.0L324.3 947.3L325.6 947.3L327.0 947.2L328.3 947.4L329.6 947.4L330.9 947.3L332.3 946.9L333.6 947.1L334.9 947.4L336.2 947.2L337.5 947.5L338.7 948.2L340.0 947.7L341.3 947.4L342.7 947.7L344.0 947.5L345.4 947.4L346.8 947.4L348.2 947.0L349.6 946.3L351.0 945.7L352.4 946.0L353.9 946.3L355.3 946.0L356.7 946.1L358.1 946.4L359.5 946.1L360.8 945.6L362.2 945.7L363.5 945.8L364.8 945.3L366.0 944.6L367.3 943.6L368.5 943.6L369.6 943.9L370.7 943.8L371.8 944.2L372.8 944.2L373.8 943.2L374.7 942.8L375.5 943.0L377.5 942.9L379.1 942.5L380.4 941.9L381.4 941.1L382.1 940.5L382.8 940.1L383.4 939.6L384.0 939.2L384.7 938.1L385.6 936.5L386.3 935.8L387.0 935.1L387.7 934.2L388.4 933.2L389.2 932.6L389.9 931.9L390.7 930.8L391.4 929.1L392.1 927.7L392.8 926.4L393.4 924.8L394.1 923.6L394.6 922.6L395.2 921.2L395.7 919.7L396.3 918.1L396.8 917.3L397.2 916.9L397.6 915.7L398.0 914.4L398.3 913.0L398.6 911.9L398.9 910.6L399.1 908.8L399.4 907.6L399.7 906.6L400.0 905.2L400.3 903.7L400.6 902.5L400.9 901.9L401.2 901.3L401.5 900.0L401.8 898.8L402.0 897.9L402.3 897.1L402.6 896.0L402.9 894.5L403.2 892.9L403.4 891.7L403.7 890.3L403.9 889.4L404.2 888.3L404.5 886.3L404.7 884.3L405.0 882.9L405.3 882.0L405.5 880.9L405.8 879.3L406.1 878.1L406.3 877.3L406.6 876.1L406.8 875.0L407.0 874.1L407.6 872.5L408.1 871.2L408.6 869.9L409.0 869.6L409.5 869.5L410.4 868.1L411.2 867.1L412.0 867.2L412.7 868.2L413.4 869.1L414.0 869.6L414.4 870.0L414.8 870.7L415.1 871.3L415.5 872.5L415.8 874.9L415.9 876.0L416.0 876.8L416.1 877.8L416.1 879.1L416.2 880.2L416.3 881.2L416.4 882.6L416.4 884.1L416.5 885.6L416.6 887.0L416.6 888.1L416.7 889.4L416.8 891.2L416.8 892.6L416.9 893.7L417.0 895.3L417.1 896.1L417.1 896.8L417.2 897.7L417.2 898.9L417.3 900.0L417.3 901.1L417.4 902.2L417.4 903.0L417.5 904.1L417.5 905.7L417.6 906.4L417.7 907.0L417.7 908.1L417.8 909.6L417.9 911.3L418.0 912.8L418.1 914.5L418.2 916.2L418.3 918.0L418.4 920.7L418.5 922.0L418.5 922.3L418.6 923.2L418.6 924.7L418.7 925.9L418.8 926.6L418.8 927.8L418.9 929.3L419.0 930.5L419.0 931.7L419.1 933.7L419.2 934.8L419.3 934.9L419.3 936.1L419.4 937.7L419.5 938.9L419.6 940.3L419.7 941.7L419.7 942.9L419.8 944.4L419.9 946.0L420.0 947.5L420.1 949.2L420.2 951.0L420.3 952.4L420.3 953.8L420.4 955.3L420.5 956.5L420.6 958.1L420.7 959.7L420.8 960.9L420.9 962.0L420.9 963.0L421.0 964.3L421.1 966.0L421.2 967.6L421.3 969.0L421.4 970.3L421.5 971.5L421.5 972.5L421.6 973.6L421.7 975.0L421.8 976.4L421.9 977.4L421.9 978.6L422.0 980.4L422.1 981.7L422.2 982.8L422.3 984.2L422.4 985.9L422.5 987.2L422.6 988.6L422.7 990.2L422.8 991.6L422.9 993.0L423.0 994.6L423.1 996.3L423.3 997.9L423.4 999.3L423.5 1000.7L423.6 1002.0L423.7 1003.5L423.8 1004.7L423.9 1005.4L424.0 1006.6L424.1 1008.3L424.2 1009.8L424.3 1011.2L424.4 1012.8L424.5 1014.1L424.6 1015.2L424.7 1015.8L424.8 1016.3L424.9 1017.5L425.0 1019.3L425.1 1020.3L425.1 1021.3L425.2 1022.9L425.3 1024.0L425.4 1024.7L425.5 1025.4L425.7 1027.1L425.9 1028.5L426.1 1030.4L426.4 1032.3L426.5 1033.5L426.7 1034.8L426.9 1036.3L427.1 1037.2L427.3 1037.5L427.5 1038.3L427.7 1039.4L427.8 1040.3L428.0 1040.4L428.4 1040.8L428.8 1040.6L429.2 1039.2L429.6 1037.3L430.0 1035.2L430.2 1034.3L430.3 1033.4L430.5 1032.0L430.6 1030.8L430.8 1030.1L430.9 1029.4L431.1 1028.3L431.3 1027.2L431.5 1025.7L431.8 1023.8L432.2 1022.0L432.4 1020.9L432.5 1019.7L432.7 1018.5L432.9 1017.3L433.1 1016.4L433.3 1015.7L433.6 1014.7L433.8 1013.2L434.0 1011.5L434.3 1010.0L434.5 1008.5L434.8 1007.0L435.0 1005.7L435.3 1004.3L435.5 1002.5L435.8 1000.8L436.1 999.9L436.3 998.9L436.6 997.5L436.9 996.6L437.1 995.0L437.4 993.6L437.7 992.5L438.0 991.4L438.2 990.5L438.5 989.1L438.8 987.7L439.2 986.7L439.5 985.1L439.8 983.2L440.2 981.6L440.5 980.4L440.8 979.4L441.2 977.9L441.5 976.1L441.9 975.0L442.2 973.7L442.6 972.5L443.0 971.5L443.3 970.5L443.7 969.3L444.1 968.0L444.5 967.0L444.9 966.0L445.3 965.0L445.7 964.0L446.1 963.1L446.8 962.3L447.5 961.4L448.2 959.5L448.9 958.2L449.6 958.0L450.4 956.9L451.1 955.1L452.0 954.2L452.9 953.8L453.9 953.3L455.0 952.5L456.2 951.6L457.1 951.5L457.9 951.4L458.6 950.8L459.4 950.6L460.1 950.8L460.8 950.7L461.6 950.2L462.5 949.5L463.5 949.1L464.7 949.3L466.0 949.6L467.6 949.5L469.3 949.2L471.4 948.8L473.7 948.7L476.4 948.3L477.2 948.0L478.1 948.2L479.0 948.7L479.9 948.6L480.9 948.2L481.9 948.2L482.9 948.3L483.9 948.3L485.0 948.5L486.0 948.3L487.1 947.9L488.3 947.7L489.4 947.5L490.6 947.4L491.7 947.6L492.9 947.7L494.2 947.6L495.4 947.5L496.7 947.7L497.9 947.7L499.2 947.1L500.5 947.1L501.8 948.1L503.2 948.3L504.5 948.2L505.9 948.5L507.2 948.7L508.6 948.7L510.0 948.6L511.4 948.4L512.8 948.2L514.2 947.9L515.6 947.2L517.0 946.9L518.5 947.8L519.9 948.0L521.3 947.7L522.8 948.0L524.2 947.9L525.7 947.8L527.1 947.5L528.5 947.6L530.0 948.1L531.4 947.9L532.9 947.5L534.3 948.0L535.7 948.3L537.2 948.1L538.6 948.3L540.0 948.7L541.4 948.6L542.8 948.4L544.2 948.5L545.6 948.6L547.0 948.2L548.2 947.8L549.5 948.3L550.7 948.7L552.0 948.1L553.3 947.4L554.6 947.2L556.0 947.5L557.3 947.8L558.7 947.9L560.1 948.4L561.5 948.5L562.9 948.0L564.4 947.5L565.8 947.5L567.3 947.6L568.7 947.6L570.2 947.8L571.7 948.0L573.2 948.4L574.6 948.3L576.1 947.7L577.6 947.8L579.1 948.0L580.6 947.4L582.1 947.4L583.6 948.4L585.1 948.6L586.6 948.4L588.1 948.2L589.6 947.5L591.0 947.6L592.5 948.2L593.9 947.9L595.4 947.3L596.8 947.8L598.2 948.2L599.6 947.5L601.0 946.7L602.4 946.8L603.7 947.4L605.1 947.7L606.4 947.5L607.7 947.5L609.0 947.6L610.2 947.5L611.5 947.7L612.7 948.1L613.8 948.1L615.0 947.7L616.1 947.2L617.2 947.4L618.3 948.1L619.3 948.3L620.3 948.0L621.3 947.7L622.2 947.7L623.1 947.8L624.0 947.7L624.8 947.5L625.6 947.2L626.3 947.3L627.0 947.8L627.7 948.4" fill="none" stroke="#ff0080" stroke-width="2.6" stroke-linejoin="round" stroke-linecap="round"/>
<path d="M21.4 1050.1L22.1 1050.1L22.8 1050.8L23.5 1051.2L24.2 1051.0L25.0 1050.9L25.9 1050.9L26.7 1050.8L27.6 1050.8L28.5 1050.7L29.5 1050.3L30.5 1049.9L31.5 1049.9L32.5 1050.4L33.5 1050.6L34.6 1050.2L35.7 1049.9L36.9 1050.1L38.0 1050.3L39.2 1050.1L40.4 1050.4L41.6 1051.0L42.9 1051.0L44.1 1050.8L45.4 1050.5L46.7 1050.3L48.0 1050.4L49.4 1050.5L50.7 1050.3L52.1 1050.5L53.5 1050.6L54.8 1050.3L56.2 1050.3L57.7 1050.8L59.1 1050.7L60.5 1050.4L62.0 1050.1L63.5 1050.2L64.9 1050.3L66.4 1050.1L67.9 1050.2L69.4 1050.4L70.9 1050.1L72.4 1050.1L73.9 1050.5L75.4 1050.7L76.9 1050.6L78.4 1050.4L79.9 1050.2L81.4 1050.4L83.0 1050.6L84.5 1050.1L86.0 1049.7L87.5 1050.1L89.0 1050.3L90.5 1050.2L92.0 1050.5L93.5 1050.7L95.0 1050.7L96.5 1050.6L98.0 1050.4L99.4 1050.2L100.9 1050.3L102.1 1050.0L103.3 1050.0L104.5 1050.3L105.7 1050.5L106.9 1050.4L108.2 1050.2L109.5 1050.2L110.7 1050.4L112.1 1050.3L113.4 1050.3L114.7 1050.3L116.1 1050.2L117.4 1050.2L118.8 1050.1L120.2 1050.6L121.6 1051.1L123.0 1050.7L124.4 1050.1L125.8 1049.8L127.2 1049.9L128.7 1050.1L130.1 1050.2L131.6 1050.4L133.0 1050.5L134.5 1050.5L135.9 1050.4L137.4 1050.6L138.9 1050.6L140.3 1050.2L141.8 1050.2L143.3 1050.2L144.8 1050.4L146.2 1050.5L147.7 1050.2L149.2 1049.9L150.7 1049.7L152.1 1049.8L153.6 1050.2L155.1 1050.4L156.5 1050.3L158.0 1050.0L159.4 1050.0L160.8 1050.1L162.3 1050.3L163.7 1050.5L165.1 1050.6L166.5 1050.6L167.9 1050.3L169.3 1050.1L170.6 1050.1L172.0 1050.1L173.4 1050.0L174.7 1050.3L176.0 1050.5L177.3 1050.6L178.6 1050.7L179.9 1050.3L181.1 1049.8L182.4 1050.0L183.6 1050.5L184.8 1050.4L186.0 1050.1L187.1 1049.9L188.3 1050.0L189.4 1050.0L190.5 1049.9L191.6 1049.9L192.6 1049.9L193.7 1049.7L194.7 1049.6L195.7 1049.6L196.6 1049.5L197.6 1049.5L198.5 1049.5L199.3 1049.7L200.2 1050.0L201.0 1049.9L201.8 1049.7L205.3 1049.5L208.3 1049.5L210.8 1049.6L212.9 1049.7L214.5 1049.5L215.9 1049.1L217.0 1049.0L217.8 1048.8L218.5 1048.5L219.0 1048.2L219.4 1047.9L219.8 1047.5L220.2 1047.1L220.7 1047.1L221.3 1046.9L222.0 1046.6L223.8 1046.1L225.1 1045.6L226.0 1045.0L226.7 1043.7L227.3 1042.6L228.0 1041.9L228.8 1041.4L229.5 1040.5L230.1 1039.5L230.7 1038.8L231.4 1037.9L232.0 1036.5L232.4 1035.3L232.9 1034.4L233.3 1033.3L233.8 1032.1L234.2 1030.9L234.7 1029.5L235.1 1028.0L235.6 1027.0L236.0 1026.2L236.5 1025.0L237.1 1023.6L237.6 1022.4L238.2 1021.1L238.7 1019.9L239.2 1019.3L239.6 1019.0L240.5 1018.8L241.2 1019.7L241.8 1021.5L242.1 1022.0L242.3 1022.3L242.5 1022.9L242.7 1023.7L242.9 1024.8L243.1 1026.6L243.4 1029.0L243.5 1029.9L243.6 1030.7L243.7 1031.8L243.8 1033.2L243.9 1034.5L244.0 1035.7L244.1 1036.6L244.3 1037.9L244.4 1039.6L244.5 1040.8L244.6 1041.8L244.7 1043.3L244.9 1044.9L245.0 1046.1L245.1 1047.4L245.2 1049.0L245.3 1050.7L245.5 1052.2L245.6 1053.6L245.7 1054.6L245.8 1055.4L245.9 1056.3L246.0 1057.9L246.2 1059.7L246.3 1061.1L246.4 1062.2L246.6 1063.8L246.7 1065.6L246.8 1067.0L246.9 1068.3L247.1 1069.4L247.2 1070.5L247.3 1071.5L247.4 1072.7L247.5 1073.8L247.7 1074.8L247.8 1076.0L247.9 1077.2L248.0 1078.2L248.2 1080.0L248.5 1081.6L248.7 1083.1L248.9 1084.5L249.1 1085.9L249.3 1087.0L249.5 1087.8L249.7 1088.3L250.2 1088.5L250.6 1087.2L251.0 1085.4L251.3 1084.6L251.5 1084.3L252.2 1081.9L252.4 1080.9L252.6 1080.3L252.9 1079.5L253.1 1078.3L253.4 1076.9L253.7 1075.5L254.0 1074.0L254.4 1072.5L254.7 1071.0L255.0 1069.8L255.4 1068.4L255.7 1067.0L256.0 1065.6L256.4 1064.4L256.7 1063.5L257.0 1062.6L257.3 1061.9L258.1 1060.1L258.9 1058.5L259.6 1057.4L260.4 1056.8L261.2 1056.4L262.0 1055.8L262.7 1055.0L263.2 1054.7L263.9 1054.3L265.1 1054.2L267.3 1054.0L268.1 1053.9L269.0 1054.1L270.0 1053.9L271.0 1053.5L272.1 1053.5L273.3 1053.4L274.5 1053.1L275.8 1052.9L277.1 1053.3L278.5 1053.4L279.8 1053.1L281.2 1052.8L282.7 1052.0L284.1 1051.7L285.6 1051.8L287.1 1051.8L288.5 1052.0L290.0 1052.0L291.1 1051.7L292.2 1051.5L293.3 1051.4L294.5 1051.1L295.6 1051.1L296.8 1051.1L298.0 1051.3L299.2 1051.7L300.4 1051.7L301.6 1051.5L302.8 1051.2L304.1 1051.2L305.3 1051.5L306.6 1051.3L307.9 1051.2L309.2 1051.2L310.5 1051.0L311.8 1051.0L313.1 1050.9L314.5 1050.9L315.8 1050.8L317.2 1050.5L318.6 1050.4L320.0 1050.4L321.1 1050.4L322.3 1050.6L323.5 1050.5L324.8 1050.2L326.1 1050.3L327.3 1050.1L328.7 1049.8L330.0 1049.8L331.3 1049.9L332.7 1049.8L334.0 1049.3L335.4 1049.3L336.8 1049.7L338.1 1049.5L339.5 1049.1L340.9 1049.2L342.2 1049.5L343.6 1049.5L344.9 1049.2L346.2 1048.9L347.5 1049.0L348.8 1049.1L350.0 1049.1L351.2 1049.1L352.4 1049.1L353.6 1048.9L354.7 1048.7L355.8 1048.5L356.8 1048.4L357.8 1048.5L359.5 1048.1L361.0 1047.7L362.5 1047.4L363.9 1046.7L365.3 1046.4L366.5 1046.3L367.8 1046.1L368.9 1045.8L370.0 1045.0L371.1 1044.6L372.1 1044.8L373.2 1044.5L374.1 1043.6L375.1 1043.1L376.1 1042.9L377.0 1042.3L378.0 1041.4L379.2 1040.7L380.3 1040.0L381.3 1039.1L382.4 1038.3L383.4 1037.3L384.3 1036.6L385.2 1036.1L386.1 1034.9L386.9 1033.8L387.7 1033.1L388.5 1032.0L389.2 1030.5L389.9 1029.2L390.6 1028.5L391.3 1027.9L391.9 1026.7L392.5 1025.4L393.0 1024.4L393.4 1023.6L393.8 1022.5L394.2 1020.7L394.5 1019.5L394.9 1018.9L395.2 1017.9L395.6 1016.6L396.0 1015.4L396.4 1014.0L396.8 1012.9L397.2 1011.9L397.5 1010.6L397.9 1009.0L398.3 1007.3L398.6 1006.0L399.0 1004.9L399.3 1003.8L399.7 1002.6L400.0 1001.2L400.4 1000.0L400.7 998.8L401.0 997.7L401.4 996.7L401.7 995.2L402.0 993.6L402.4 992.4L402.7 991.3L403.0 990.1L403.3 989.0L403.6 987.7L403.9 986.3L404.2 985.2L404.5 984.3L404.8 982.7L405.2 981.1L405.5 979.8L405.8 978.3L406.2 976.8L406.5 975.6L406.8 974.4L407.1 973.0L407.4 972.0L407.7 971.2L408.0 970.3L408.8 968.2L409.5 966.8L410.2 966.3L410.8 966.1L411.6 966.4L412.3 967.5L413.0 969.0L413.2 969.5L413.4 970.4L413.6 971.1L413.8 971.6L414.0 972.9L414.2 974.6L414.4 976.4L414.6 978.7L414.7 979.4L414.7 980.4L414.8 981.3L414.9 982.1L415.0 983.2L415.1 984.3L415.1 985.4L415.2 986.6L415.3 987.6L415.4 988.6L415.5 989.8L415.5 990.9L415.6 992.0L415.7 993.0L415.8 994.0L415.9 995.4L416.0 997.3L416.1 998.9L416.2 999.8L416.3 1000.9L416.4 1002.7L416.5 1004.1L416.6 1005.7L416.7 1007.5L416.8 1009.1L416.9 1010.6L417.0 1012.1L417.1 1013.8L417.2 1015.1L417.2 1016.4L417.3 1017.5L417.4 1018.6L417.5 1019.6L417.5 1020.6L417.6 1021.8L417.7 1022.9L417.8 1024.2L417.9 1025.8L417.9 1027.0L418.0 1027.9L418.1 1029.1L418.2 1030.5L418.3 1031.8L418.4 1033.0L418.4 1034.5L418.5 1036.0L418.6 1037.1L418.7 1038.4L418.8 1040.0L418.9 1041.2L419.0 1042.3L419.1 1043.7L419.2 1045.1L419.2 1046.5L419.3 1047.9L419.4 1049.3L419.5 1050.6L419.6 1051.8L419.7 1053.1L419.8 1054.7L419.9 1056.1L420.0 1057.5L420.0 1058.9L420.1 1060.3L420.2 1061.5L420.3 1063.0L420.4 1064.6L420.5 1065.7L420.6 1066.9L420.6 1068.3L420.7 1069.5L420.8 1070.7L420.9 1071.9L421.0 1073.0L421.1 1074.5L421.2 1076.3L421.3 1077.6L421.4 1078.7L421.4 1079.6L421.5 1081.2L421.6 1082.9L421.7 1084.4L421.8 1086.3L421.9 1087.8L422.0 1088.8L422.1 1090.4L422.2 1092.3L422.3 1093.7L422.4 1094.8L422.5 1096.2L422.5 1097.6L422.6 1098.7L422.7 1100.1L422.8 1101.7L422.9 1103.0L423.0 1104.1L423.1 1105.4L423.2 1106.8L423.3 1108.3L423.3 1109.7L423.4 1111.2L423.5 1112.5L423.6 1113.5L423.7 1114.5L423.8 1115.9L423.9 1117.1L423.9 1117.9L424.0 1118.8L424.1 1119.8L424.2 1120.9L424.3 1122.1L424.3 1123.2L424.4 1123.9L424.5 1124.6L424.7 1127.3L424.9 1129.8L425.2 1131.8L425.4 1133.3L425.6 1134.6L425.8 1135.9L426.0 1137.2L426.2 1138.2L426.3 1139.0L426.5 1140.0L426.7 1140.8L426.9 1141.6L427.0 1142.3L427.2 1142.7L427.7 1143.5L428.1 1143.0L428.6 1141.3L429.0 1139.4L429.2 1138.5L429.4 1137.7L429.6 1137.1L429.8 1136.4L430.0 1135.2L430.3 1133.7L430.6 1131.9L431.0 1129.8L431.2 1129.1L431.3 1128.2L431.5 1126.8L431.7 1125.7L431.9 1124.9L432.1 1123.9L432.3 1122.8L432.5 1121.6L432.7 1120.0L432.9 1118.5L433.1 1117.2L433.4 1116.0L433.6 1115.1L433.9 1113.8L434.1 1112.1L434.4 1110.5L434.6 1109.2L434.9 1107.8L435.2 1106.2L435.4 1104.8L435.7 1103.7L436.0 1102.5L436.3 1100.9L436.5 1099.5L436.8 1098.6L437.0 1097.6L437.3 1096.0L437.6 1094.5L437.9 1093.3L438.2 1091.9L438.4 1090.6L438.7 1089.4L439.0 1087.8L439.3 1086.5L439.6 1085.6L439.9 1084.4L440.3 1082.9L440.6 1081.5L440.9 1080.2L441.2 1079.0L441.5 1078.1L441.9 1077.1L442.2 1075.9L442.6 1074.6L442.9 1073.7L443.2 1073.0L443.6 1072.1L444.4 1070.3L445.2 1068.9L446.0 1067.7L446.8 1066.6L447.6 1065.8L448.5 1065.3L449.4 1064.6L450.3 1063.9L451.4 1063.4L452.5 1062.7L453.7 1062.0L454.6 1061.5L455.4 1060.5L456.2 1059.8L457.0 1059.6L457.8 1059.3L458.6 1058.7L459.5 1058.1L460.5 1057.4L461.5 1057.0L462.7 1056.7L464.1 1056.1L465.6 1055.8L467.2 1055.6L469.2 1054.8L471.3 1053.8L472.2 1053.7L473.1 1053.8L474.0 1054.2L474.9 1054.1L475.8 1053.9L476.7 1053.7L477.6 1053.6L478.6 1053.4L479.6 1053.3L480.6 1053.3L481.6 1053.3L482.6 1052.9L483.6 1052.4L484.7 1052.2L485.8 1052.4L486.9 1052.2L488.1 1052.0L489.2 1052.2L490.4 1052.0L491.6 1051.5L492.9 1051.3L494.2 1051.4L495.5 1051.4L496.8 1051.5L498.2 1051.5L499.6 1051.5L501.1 1051.3L502.6 1051.0L504.1 1051.0L505.7 1050.8L507.3 1050.7L509.0 1050.6L510.7 1050.6L512.4 1050.7L514.2 1050.4L516.0 1050.3L517.9 1050.4L519.8 1050.5L521.8 1050.4L522.8 1050.5L523.8 1050.6L524.8 1050.6L525.9 1050.6L527.0 1050.6L528.1 1050.5L529.2 1050.0L530.4 1049.6L531.6 1049.8L532.8 1050.0L534.0 1050.1L535.3 1050.2L536.6 1050.2L537.9 1049.9L539.2 1049.9L540.6 1050.3L542.0 1050.5L543.3 1050.4L544.7 1050.5L546.1 1050.3L547.6 1050.1L549.0 1050.1L550.5 1050.3L551.9 1050.4L553.4 1050.4L554.9 1050.1L556.4 1050.0L557.9 1050.3L559.4 1050.5L561.0 1050.3L562.5 1050.5L564.0 1050.7L565.6 1050.7L567.1 1050.6L568.6 1050.6L570.2 1050.5L571.7 1050.4L573.3 1050.3L574.8 1050.2L576.4 1050.2L577.9 1050.5L579.4 1050.7L581.0 1050.6L582.5 1050.5L584.0 1050.7L585.5 1050.8L587.0 1050.8L588.5 1050.7L590.0 1050.6L591.5 1050.9L592.9 1051.2L594.4 1051.1L595.8 1050.9L597.3 1050.9L598.7 1050.8L600.1 1050.4L601.4 1050.4L602.8 1050.8L604.1 1050.9L605.4 1051.1L606.7 1051.0L608.0 1050.7L609.3 1050.8L610.5 1050.8L611.7 1050.6L612.9 1050.4L614.0 1050.5L615.2 1050.9L616.3 1051.1L617.3 1051.0L618.4 1051.1L619.4 1051.3L620.4 1051.3L621.3 1051.0L622.3 1050.9L623.1 1050.9L624.0 1051.0L624.8 1050.9L625.6 1051.2L626.3 1051.0L627.0 1050.5L627.7 1050.8" fill="none" stroke="#000090" stroke-width="2.6" stroke-linejoin="round" stroke-linecap="round"/>
<path d="M742.6 999.3L743.3 999.5L744.0 999.5L744.8 999.3L745.7 999.2L746.6 999.2L747.5 999.3L748.5 999.1L749.6 998.9L750.7 998.8L751.8 998.6L753.0 998.6L754.2 998.6L755.5 998.5L756.8 998.3L758.1 998.0L759.4 997.9L760.8 997.7L762.2 997.6L763.6 997.5L765.1 997.4L766.6 997.5L768.0 997.5L769.5 997.3L771.0 996.9L772.5 996.7L774.1 996.5L775.6 996.4L777.1 996.4L778.6 996.3L780.2 996.1L781.7 995.9L783.2 995.7L784.7 995.6L786.2 995.7L787.7 995.6L789.1 995.4L790.6 995.2L792.0 995.0L793.4 994.7L794.8 994.6L796.1 994.5L797.5 994.4L798.8 994.3L800.0 994.1L801.2 994.1L802.4 994.2L803.5 994.1L804.6 993.8L805.7 993.7L807.4 993.5L809.0 993.4L810.6 993.2L812.1 993.0L813.6 992.9L815.1 992.8L816.6 992.6L818.0 992.5L819.4 992.5L820.7 992.4L822.1 992.4L823.4 992.3L824.6 992.1L825.9 991.8L827.1 991.7L828.3 991.8L829.5 991.6L830.7 991.5L831.8 991.4L833.0 991.3L834.1 991.0L835.2 990.8L836.2 990.7L837.3 990.6L838.4 990.5L839.4 990.4L840.4 990.2L841.5 990.0L842.5 989.9L843.5 990.1L845.2 989.9L846.8 989.5L848.3 989.0L849.8 988.8L851.3 988.5L852.7 988.0L854.1 987.7L855.4 987.6L856.7 987.4L858.0 987.1L859.1 986.7L860.3 986.4L861.4 986.1L862.4 985.7L863.4 985.6L864.4 985.4L865.3 985.2L866.2 985.0L868.1 984.5L869.6 984.1L870.7 983.7L871.6 983.2L872.4 982.9L873.2 982.7L874.1 982.3L875.3 981.6L876.4 981.0L877.5 980.5L878.5 979.9L879.4 979.2L880.2 978.5L881.3 977.3L881.9 976.4L882.5 975.4L882.9 974.6L883.3 973.8L883.6 972.9L884.0 971.8L884.4 970.5L884.7 969.5L885.1 968.4L885.5 967.2L885.8 966.0L886.2 964.9L886.5 963.9L886.9 962.9L887.2 961.7L887.6 960.6L887.9 959.4L888.2 958.4L888.6 957.1L888.9 955.8L889.2 954.7L889.5 954.0L890.0 953.1L890.5 952.7L891.0 952.8L891.6 953.5L892.0 954.5L892.5 955.8L892.9 957.2L893.2 958.1L893.4 959.2L893.7 960.6L894.0 961.9L894.2 963.1L894.5 964.5L894.7 965.6L894.9 966.8L895.3 968.0L895.8 969.1L896.3 970.1L896.9 971.0L897.6 971.7L898.4 972.2L899.2 972.6L900.2 972.9L901.3 972.8L902.3 972.5L903.4 972.1L904.6 971.8L905.8 971.7L906.9 971.3L908.2 970.8L909.4 970.4L910.6 970.0L911.6 969.7L912.5 969.5L914.1 969.3L915.0 969.1L916.0 969.1L917.1 969.0L918.4 968.7L919.7 968.5L921.1 968.4L922.6 968.0L924.2 967.3L925.1 966.9L926.1 966.4L927.1 965.8L928.1 965.3L929.2 964.7L930.3 964.0L931.4 963.4L932.6 962.8L933.7 962.0L934.8 961.2L936.0 960.7L937.1 960.2L938.2 959.4L939.3 958.5L940.3 957.9L941.3 957.1L942.3 956.4L943.3 955.9L944.4 955.3L945.4 954.7L946.4 953.9L947.4 952.9L948.4 952.2L949.4 951.6L950.5 950.9L951.5 950.0L952.5 949.0L953.5 948.1L954.5 947.0L955.2 946.0L955.9 945.5L956.7 944.8L957.4 943.8L958.1 942.7L958.9 941.7L959.6 940.9L960.3 940.0L961.1 939.0L961.8 937.9L962.5 936.8L963.2 935.6L964.0 934.4L964.7 933.2L965.4 932.2L966.1 931.3L966.8 930.1L967.5 928.8L968.2 927.7L968.9 926.8L969.6 925.7L970.2 924.6L970.8 923.5L971.5 922.5L972.1 921.5L972.7 920.4L973.3 919.2L973.9 918.2L974.5 917.2L975.1 916.0L975.7 914.9L976.3 913.8L976.9 912.7L977.5 911.8L978.0 910.7L978.6 909.6L979.2 908.5L979.8 907.2L980.4 905.9L980.9 904.7L981.5 903.5L982.1 902.4L982.6 901.2L983.2 900.0L983.7 898.9L984.2 897.9L984.7 896.8L985.3 895.6L985.8 894.5L986.3 893.2L986.8 892.0L987.3 890.7L987.8 889.4L988.3 888.4L988.8 887.3L989.3 886.1L989.8 884.8L990.3 883.6L990.8 882.2L991.3 881.1L991.8 880.0L992.2 878.9L992.7 877.6L993.2 876.3L993.7 875.0L994.1 873.6L994.6 872.4L995.0 871.3L995.5 870.1L995.9 868.8L996.4 867.6L996.8 866.4L997.2 865.1L997.6 863.9L998.0 862.7L998.4 861.6L998.8 860.4L999.2 859.3L999.6 857.9L1000.0 856.7L1000.4 855.5L1000.8 854.2L1001.2 853.0L1001.6 851.7L1001.9 850.5L1002.3 849.4L1002.7 848.1L1003.1 846.8L1003.5 845.8L1003.8 844.7L1004.2 843.3L1004.6 841.8L1005.0 840.6L1005.3 839.4L1005.7 838.2L1006.1 837.0L1006.4 835.7L1006.8 834.6L1007.2 833.4L1007.6 832.1L1007.9 830.8L1008.3 829.4L1008.7 828.1L1009.1 826.9L1009.4 825.6L1009.8 824.4L1010.2 823.3L1010.5 822.1L1010.9 820.9L1011.2 819.5L1011.6 817.9L1011.9 816.7L1012.3 815.7L1012.6 814.7L1013.0 813.3L1013.3 811.9L1013.7 810.8L1014.0 809.9L1014.3 808.8L1014.7 807.4L1015.0 806.1L1015.4 804.9L1015.8 803.6L1016.1 802.3L1016.5 801.0L1016.9 799.9L1017.2 798.7L1017.6 797.2L1018.0 795.9L1018.3 794.9L1018.7 793.8L1019.0 792.6L1019.4 791.4L1019.7 790.1L1020.1 788.8L1020.4 787.8L1020.7 786.8L1021.0 785.5L1021.4 784.3L1021.7 783.2L1022.0 782.1L1022.3 781.1L1022.6 780.1L1023.0 778.8L1023.3 777.6L1023.6 776.3L1024.0 774.8L1024.3 773.5L1024.6 772.1L1024.9 771.0L1025.2 769.9L1025.5 768.7L1025.8 767.5L1026.1 766.4L1026.4 765.2L1026.7 764.0L1027.0 762.8L1027.3 761.7L1027.6 760.5L1027.9 759.1L1028.2 757.6L1028.5 756.4L1028.7 755.1L1029.0 753.8L1029.3 752.4L1029.6 751.2L1029.9 749.9L1030.1 748.3L1030.4 746.7L1030.7 745.4L1031.0 744.1L1031.3 742.8L1031.5 741.5L1031.8 740.2L1032.1 738.8L1032.3 737.4L1032.6 736.3L1032.8 735.3L1033.1 734.2L1033.3 733.1L1033.6 732.1L1033.8 731.2L1034.4 729.0L1035.0 727.7L1035.5 727.0L1036.0 726.4L1036.5 725.7L1037.0 724.9L1037.6 723.9L1038.1 722.8L1038.6 721.7L1039.1 720.8L1039.7 719.9L1040.2 718.9L1040.8 717.7L1041.3 716.6L1041.8 715.8L1042.3 714.7L1042.8 713.2L1043.3 711.6L1043.8 710.1L1044.3 708.8L1044.7 707.5L1045.1 706.3L1045.6 705.4L1046.0 704.7L1047.0 704.0L1048.0 704.6L1049.0 705.9L1049.7 706.7L1050.4 707.6L1051.1 708.6L1051.9 709.6L1052.6 710.6L1053.1 711.4L1053.6 712.1L1054.1 712.9L1054.6 713.8L1055.2 714.8L1055.7 716.0L1056.3 718.0L1056.5 719.1L1056.7 720.0L1057.0 720.9L1057.2 721.9L1057.4 723.0L1057.6 724.0L1057.9 725.2L1058.1 726.4L1058.3 727.5L1058.6 728.8L1058.8 730.2L1059.1 731.4L1059.3 732.6L1059.6 733.9L1059.8 735.3L1060.0 736.8L1060.3 738.2L1060.5 739.7L1060.8 741.2L1061.0 742.6L1061.2 743.7L1061.3 744.7L1061.5 745.7L1061.7 746.9L1061.9 748.1L1062.0 749.1L1062.2 750.3L1062.4 751.5L1062.5 752.7L1062.7 754.0L1062.9 755.3L1063.0 756.6L1063.2 757.8L1063.4 759.0L1063.5 760.2L1063.7 761.5L1063.9 762.7L1064.1 764.0L1064.2 765.4L1064.4 766.8L1064.6 768.0L1064.8 769.4L1065.0 770.7L1065.1 772.2L1065.3 773.7L1065.5 775.1L1065.7 776.4L1065.9 777.5L1066.0 778.5L1066.2 779.6L1066.3 780.9L1066.5 782.3L1066.7 783.6L1066.8 784.9L1067.0 786.2L1067.2 787.6L1067.4 789.0L1067.5 790.2L1067.7 791.4L1067.9 792.7L1068.1 794.2L1068.2 795.6L1068.4 797.0L1068.6 798.3L1068.8 799.6L1068.9 801.1L1069.1 802.6L1069.3 804.0L1069.5 805.3L1069.6 806.6L1069.8 808.0L1070.0 809.2L1070.1 810.4L1070.3 811.5L1070.4 812.7L1070.6 813.9L1070.7 814.9L1070.9 816.1L1071.0 817.3L1071.2 818.4L1071.3 819.5L1071.5 821.2L1071.7 822.7L1071.9 824.2L1072.1 825.7L1072.2 827.2L1072.4 828.4L1072.6 829.8L1072.7 831.2L1072.9 832.4L1073.0 833.5L1073.1 834.7L1073.3 836.0L1073.4 837.2L1073.6 838.2L1073.7 839.3L1073.8 840.4L1074.0 841.6L1074.1 842.6L1074.2 843.8L1074.4 844.9L1074.5 846.0L1074.7 847.6L1074.9 849.0L1075.0 850.3L1075.2 851.6L1075.3 852.8L1075.5 853.9L1075.6 855.0L1075.8 856.3L1075.9 857.7L1076.1 858.7L1076.3 859.8L1076.4 861.2L1076.6 862.5L1076.8 863.8L1077.1 865.2L1077.3 866.5L1077.5 867.5L1077.7 868.8L1077.9 870.1L1078.1 871.4L1078.4 872.7L1078.6 873.9L1078.8 875.1L1079.1 876.4L1079.3 877.8L1079.6 879.2L1079.8 880.5L1080.1 881.8L1080.4 883.2L1080.6 884.6L1080.9 885.7L1081.2 886.9L1081.5 888.1L1081.7 889.4L1082.0 890.8L1082.3 891.9L1082.6 893.1L1082.9 894.4L1083.2 895.6L1083.5 896.8L1083.8 898.2L1084.1 899.5L1084.5 900.7L1084.8 901.8L1085.1 903.0L1085.5 904.2L1085.8 905.5L1086.1 906.8L1086.5 907.9L1086.8 909.0L1087.2 910.4L1087.5 911.6L1087.9 912.7L1088.2 913.8L1088.6 914.9L1088.9 916.0L1089.3 917.1L1089.7 918.3L1090.1 919.4L1090.5 920.5L1090.9 921.9L1091.4 923.4L1091.8 924.8L1092.2 926.0L1092.7 927.2L1093.1 928.2L1093.5 929.3L1094.0 930.5L1094.4 931.7L1094.9 932.9L1095.3 934.2L1095.8 935.2L1096.3 936.2L1096.7 937.2L1097.2 938.4L1097.8 939.7L1098.4 940.8L1098.9 942.0L1099.5 943.1L1100.1 944.1L1100.8 945.2L1101.4 946.3L1102.0 947.5L1102.6 948.6L1103.2 949.6L1103.9 950.5L1104.5 951.5L1105.2 952.5L1105.8 953.4L1106.5 954.3L1107.3 955.4L1108.1 956.4L1108.8 957.4L1109.6 958.5L1110.5 959.5L1111.3 960.5L1112.1 961.4L1112.9 962.2L1113.8 962.9L1114.6 963.8L1115.5 964.6L1116.3 965.4L1117.2 966.2L1118.1 967.2L1119.1 968.0L1120.0 968.7L1120.9 969.4L1121.8 970.2L1122.7 971.2L1123.7 971.9L1124.7 972.4L1125.7 973.1L1126.8 974.0L1127.9 974.8L1129.1 975.6L1130.0 976.1L1131.0 976.7L1132.0 977.3L1133.0 978.0L1134.0 978.4L1135.1 979.0L1136.1 979.8L1137.2 980.5L1138.4 981.1L1139.5 981.5L1140.6 982.1L1141.8 982.9L1142.9 983.5L1144.1 984.2L1145.2 984.7L1146.4 985.0L1147.5 985.4L1148.5 986.0L1149.6 986.4L1150.6 986.9L1151.7 987.4L1152.7 987.8L1153.8 988.1L1154.8 988.4L1155.9 988.9L1157.1 989.3L1158.2 989.7L1159.4 990.0L1160.7 990.2L1162.0 990.6L1163.4 991.1L1164.9 991.4L1166.4 991.6L1167.4 991.8L1168.4 992.0L1169.4 992.1L1170.5 992.4L1171.6 992.7L1172.6 993.1L1173.7 993.3L1174.9 993.4L1176.0 993.6L1177.1 993.8L1178.3 993.9L1179.5 994.0L1180.7 994.3L1181.9 994.5L1183.2 994.7L1184.5 994.9L1185.8 995.2L1187.1 995.5L1188.4 995.6L1189.8 995.6L1191.2 995.7L1192.6 996.0L1194.0 996.3L1195.5 996.4L1197.0 996.5L1198.5 996.7L1200.0 996.8L1201.1 997.0L1202.1 997.2L1203.2 997.2L1204.3 997.2L1205.4 997.3L1206.5 997.5L1207.6 997.7L1208.7 997.9L1209.8 997.9L1210.9 998.0L1212.0 998.2L1213.1 998.3L1214.3 998.3L1215.4 998.4L1216.6 998.5L1217.8 998.6L1219.0 998.7L1220.2 998.9L1221.4 999.1L1222.6 999.1L1223.9 999.0L1225.1 999.0L1226.4 999.4L1227.7 999.6L1229.1 999.5L1230.4 999.3L1231.8 999.3L1233.1 999.7L1234.6 999.9L1236.0 999.8L1237.4 999.8L1238.9 999.9L1240.4 999.8L1241.9 999.8L1243.5 1000.0L1245.1 1000.2L1246.7 1000.3L1248.3 1000.5L1250.0 1000.6L1251.1 1000.6L1252.2 1000.6L1253.3 1000.6L1254.4 1000.6L1255.6 1000.6L1256.9 1000.8L1258.1 1000.8L1259.4 1000.8L1260.7 1000.8L1262.0 1000.8L1263.4 1000.8L1264.7 1001.1L1266.1 1001.2L1267.5 1001.3L1269.0 1001.3L1270.4 1001.4L1271.9 1001.3L1273.3 1001.3L1274.8 1001.3L1276.3 1001.2L1277.8 1001.2L1279.3 1001.4L1280.9 1001.7L1282.4 1001.8L1283.9 1001.7L1285.4 1001.6L1287.0 1001.6L1288.5 1001.6L1290.0 1001.7L1291.5 1001.9L1293.1 1002.0L1294.6 1002.1L1296.1 1002.0L1297.6 1001.9L1299.1 1001.9L1300.6 1002.0L1302.0 1002.1L1303.5 1002.2L1304.9 1002.3L1306.3 1002.4L1307.7 1002.2L1309.1 1002.1L1310.5 1002.1L1311.8 1002.1L1313.2 1002.3L1314.5 1002.4L1315.7 1002.2L1317.0 1002.2L1318.2 1002.4L1319.4 1002.3L1320.5 1002.2L1321.6 1002.3L1322.7 1002.4L1323.8 1002.3L1324.8 1002.5L1325.8 1002.5L1326.7 1002.4L1327.6 1002.4L1328.4 1002.4L1329.2 1002.5L1330.0 1002.5L1330.7 1002.5L1331.4 1002.5" fill="none" stroke="#0080ff" stroke-width="2.6" stroke-linejoin="round" stroke-linecap="round"/>
<path d="M742.6 1070.5L743.3 1070.4L744.0 1070.6L744.8 1070.8L745.6 1070.8L746.5 1070.5L747.4 1070.2L748.3 1069.9L749.3 1069.7L750.4 1069.4L751.4 1069.1L752.6 1069.2L753.7 1069.5L754.9 1069.6L756.1 1069.3L757.4 1069.0L758.6 1069.0L759.9 1069.0L761.3 1068.9L762.6 1068.8L764.0 1068.8L765.4 1068.8L766.8 1068.4L768.2 1067.7L769.6 1067.7L771.1 1068.3L772.6 1068.4L774.0 1067.9L775.5 1067.5L777.0 1067.5L778.5 1067.3L780.0 1067.2L781.5 1067.1L783.0 1066.7L784.5 1066.1L786.0 1066.1L787.5 1066.2L789.0 1066.0L790.5 1065.9L791.9 1065.8L793.4 1065.6L794.8 1065.5L796.3 1065.4L797.7 1065.1L799.1 1064.8L800.4 1064.9L801.8 1064.9L803.1 1064.5L804.4 1064.1L805.7 1064.2L807.0 1064.3L808.4 1064.0L809.7 1063.8L811.1 1063.9L812.5 1063.7L813.9 1063.4L815.3 1063.1L816.7 1063.0L818.1 1062.7L819.6 1062.3L821.0 1062.1L822.5 1062.1L823.9 1062.2L825.4 1062.1L826.8 1061.9L828.3 1062.0L829.7 1062.1L831.2 1061.8L832.6 1061.3L834.1 1061.3L835.5 1060.9L836.9 1060.5L838.3 1060.5L839.7 1060.2L841.1 1060.0L842.5 1060.1L843.9 1059.9L845.2 1059.8L846.5 1059.8L847.9 1059.2L849.2 1058.6L850.4 1058.5L851.7 1058.4L852.9 1058.1L854.1 1058.1L855.3 1058.2L856.4 1058.2L857.6 1058.1L858.7 1058.1L859.7 1057.8L860.8 1057.6L861.8 1057.6L862.7 1057.5L863.6 1057.3L864.5 1057.3L865.4 1057.1L866.2 1056.8L869.0 1056.2L871.3 1055.5L873.2 1055.3L874.6 1055.3L875.8 1054.5L876.6 1053.7L877.3 1053.4L877.9 1053.1L878.4 1052.6L878.8 1052.4L879.4 1052.3L880.1 1051.9L881.4 1050.8L882.4 1049.8L883.2 1048.7L883.8 1047.3L884.3 1046.2L885.0 1045.6L885.9 1044.9L886.7 1043.6L887.5 1042.2L888.3 1041.2L888.9 1040.8L889.7 1041.1L890.3 1042.0L891.0 1043.1L891.4 1044.2L891.8 1045.5L892.5 1046.5L893.9 1047.0L894.7 1047.2L895.7 1047.2L896.7 1047.2L897.9 1047.2L899.1 1046.9L900.4 1046.7L901.9 1046.5L903.3 1046.0L904.9 1045.6L906.5 1045.3L907.5 1045.0L908.6 1044.6L909.7 1044.3L910.8 1044.0L912.0 1044.3L913.3 1044.4L914.5 1043.9L915.8 1043.6L917.1 1043.5L918.4 1043.2L919.6 1042.9L920.9 1042.4L922.1 1042.0L923.3 1041.6L924.5 1041.1L925.6 1040.8L926.7 1040.2L928.0 1039.5L929.2 1039.0L930.4 1038.5L931.6 1037.9L932.7 1037.5L933.8 1037.1L934.9 1036.4L936.0 1035.9L937.1 1035.2L938.1 1034.2L939.1 1033.4L940.0 1032.8L941.0 1032.4L941.9 1032.0L943.0 1031.1L943.9 1030.0L944.8 1029.2L945.6 1028.4L946.4 1027.8L947.1 1027.2L947.9 1026.6L948.8 1025.9L949.7 1024.7L950.7 1023.7L951.9 1022.9L952.6 1022.2L953.4 1021.2L954.2 1020.3L955.0 1019.7L955.9 1019.0L956.8 1018.1L957.7 1017.2L958.7 1016.3L959.6 1015.7L960.6 1014.8L961.6 1013.4L962.5 1012.1L963.5 1011.1L964.4 1010.3L965.4 1009.5L966.3 1008.5L967.1 1007.8L968.0 1006.6L968.8 1005.5L969.6 1004.8L970.5 1003.7L971.3 1002.7L972.1 1002.0L972.9 1001.0L973.7 999.7L974.4 998.7L975.2 998.1L975.9 997.2L976.6 996.2L977.3 995.1L978.0 993.8L978.6 992.8L979.3 992.1L980.0 991.1L980.7 990.0L981.5 988.8L982.2 987.7L982.8 986.7L983.4 985.4L984.0 984.4L984.6 983.5L985.2 982.5L985.8 981.5L986.4 980.4L987.0 979.2L987.6 978.2L988.2 977.3L988.8 976.1L989.4 974.9L990.0 973.8L990.6 972.9L991.2 971.8L991.8 970.5L992.4 969.3L993.0 968.1L993.6 966.4L994.2 964.8L994.8 963.5L995.2 962.5L995.6 961.2L996.0 960.1L996.4 959.0L996.8 958.0L997.2 956.8L997.6 955.1L998.0 953.8L998.4 953.0L998.9 951.8L999.3 950.3L999.7 948.8L1000.1 947.1L1000.5 945.8L1001.0 944.6L1001.4 943.5L1001.8 942.3L1002.2 941.0L1002.6 939.8L1003.0 938.6L1003.4 937.3L1003.8 936.0L1004.2 934.5L1004.5 932.8L1004.9 931.6L1005.2 930.7L1005.6 929.6L1005.9 928.4L1006.2 927.0L1006.5 925.6L1006.8 924.6L1007.1 923.7L1007.4 922.8L1007.8 921.4L1008.2 919.9L1008.6 918.2L1009.0 916.8L1009.3 915.8L1009.6 914.2L1009.8 912.7L1010.1 911.6L1010.3 910.4L1010.5 909.2L1010.7 907.8L1010.9 906.8L1011.1 906.0L1011.3 904.8L1011.5 903.7L1011.6 903.0L1011.8 901.8L1012.0 900.7L1012.2 900.1L1012.6 898.6L1012.9 897.2L1013.2 895.9L1013.4 895.0L1013.7 893.9L1013.9 892.7L1014.1 891.7L1014.4 890.7L1014.7 889.3L1015.0 887.8L1015.2 886.8L1015.3 885.4L1015.5 884.3L1015.7 883.3L1015.9 882.1L1016.0 880.9L1016.2 879.5L1016.4 878.2L1016.6 876.9L1016.8 876.0L1017.0 874.8L1017.2 873.2L1017.4 871.5L1017.6 870.0L1017.8 868.5L1018.0 867.3L1018.2 866.3L1018.4 865.0L1018.6 863.5L1018.8 862.4L1019.1 861.2L1019.4 859.8L1019.7 858.1L1020.1 856.5L1020.4 854.9L1020.7 853.9L1021.1 853.0L1021.4 851.5L1021.8 850.0L1022.1 848.9L1022.4 847.7L1022.7 846.5L1023.0 845.6L1023.3 844.9L1023.5 844.4L1024.0 842.3L1024.4 840.6L1024.7 839.5L1025.0 838.6L1025.4 837.8L1026.1 838.3L1026.9 840.0L1028.2 839.8L1028.6 839.1L1029.1 838.1L1029.6 837.0L1030.2 836.3L1030.8 835.6L1031.5 834.0L1032.1 832.6L1032.7 831.8L1033.4 830.7L1034.0 829.2L1034.6 827.9L1035.2 826.6L1035.7 825.0L1036.1 824.0L1036.5 823.2L1036.9 822.1L1037.3 820.6L1037.7 819.2L1038.0 818.0L1038.4 816.6L1038.7 815.1L1039.1 813.9L1039.4 812.9L1039.8 811.7L1040.1 810.4L1040.4 809.5L1040.7 808.4L1041.0 807.2L1041.3 805.9L1041.8 804.2L1042.2 803.1L1042.7 801.9L1043.1 800.7L1043.5 799.6L1043.8 798.5L1044.2 797.6L1044.6 797.1L1045.0 796.4L1045.8 794.8L1046.5 793.6L1047.3 792.7L1048.1 791.7L1048.8 791.3L1049.7 791.6L1050.5 792.5L1051.3 793.6L1052.0 794.4L1052.5 794.6L1052.9 794.9L1053.3 795.6L1053.8 797.0L1054.4 799.1L1054.6 800.0L1054.8 800.6L1055.1 801.1L1055.3 801.7L1055.6 802.9L1055.9 804.4L1056.2 805.7L1056.5 806.7L1056.8 807.8L1057.1 808.9L1057.3 810.0L1057.6 811.5L1057.9 813.2L1058.2 815.0L1058.5 816.7L1058.8 818.3L1059.1 819.7L1059.3 820.4L1059.4 821.4L1059.6 822.6L1059.7 823.8L1059.9 825.0L1060.0 826.2L1060.2 827.2L1060.4 828.1L1060.5 829.2L1060.7 830.5L1060.8 831.8L1061.0 833.1L1061.1 834.5L1061.3 835.8L1061.4 836.9L1061.6 837.7L1061.8 838.8L1061.9 840.4L1062.1 841.9L1062.2 843.2L1062.4 844.7L1062.5 846.4L1062.7 848.0L1062.9 849.1L1063.0 850.2L1063.2 851.8L1063.3 853.4L1063.5 854.7L1063.6 855.7L1063.8 856.9L1063.9 858.3L1064.1 859.4L1064.2 860.7L1064.4 862.2L1064.5 863.3L1064.6 864.3L1064.8 865.5L1064.9 866.7L1065.1 868.1L1065.2 869.6L1065.4 870.9L1065.5 872.1L1065.7 873.7L1065.8 875.3L1065.9 876.6L1066.1 877.6L1066.2 878.8L1066.4 880.2L1066.5 881.3L1066.7 882.7L1066.8 884.4L1066.9 885.7L1067.1 886.9L1067.2 888.0L1067.3 889.1L1067.5 890.5L1067.6 892.0L1067.7 893.1L1067.9 894.2L1068.0 895.3L1068.1 896.6L1068.3 897.9L1068.4 898.8L1068.5 899.7L1068.7 901.3L1068.8 903.0L1069.0 904.7L1069.2 906.2L1069.3 907.3L1069.5 908.4L1069.6 909.6L1069.8 911.0L1069.9 912.3L1070.0 913.6L1070.2 914.8L1070.3 916.0L1070.5 917.1L1070.6 918.2L1070.7 919.5L1070.9 920.7L1071.0 921.8L1071.1 923.0L1071.3 924.0L1071.4 925.2L1071.6 926.5L1071.7 927.8L1071.9 928.7L1072.0 929.5L1072.2 930.7L1072.3 932.1L1072.5 933.8L1072.7 935.5L1072.8 936.7L1073.0 937.9L1073.1 939.3L1073.3 940.8L1073.5 942.1L1073.6 943.4L1073.8 944.8L1074.0 946.0L1074.1 947.1L1074.3 948.1L1074.5 949.4L1074.6 950.7L1074.8 951.8L1075.0 953.0L1075.1 954.4L1075.3 955.8L1075.4 957.0L1075.6 958.1L1075.8 959.4L1076.0 960.8L1076.2 962.4L1076.4 963.7L1076.6 964.8L1076.8 965.9L1077.0 967.1L1077.2 968.4L1077.4 969.9L1077.7 971.2L1077.9 972.1L1078.1 973.1L1078.3 974.5L1078.5 975.8L1078.8 977.1L1079.0 978.3L1079.3 979.4L1079.6 980.5L1079.8 981.7L1080.1 982.8L1080.4 984.0L1080.7 985.2L1081.0 986.2L1081.3 987.1L1081.6 988.2L1081.9 989.6L1082.3 990.8L1082.7 991.9L1083.1 993.0L1083.5 994.3L1083.9 995.6L1084.3 996.8L1084.7 997.9L1085.1 998.8L1085.6 999.8L1086.0 1001.5L1086.5 1002.9L1087.0 1003.8L1087.4 1004.9L1087.9 1006.1L1088.4 1007.3L1088.9 1008.7L1089.4 1010.1L1089.9 1011.3L1090.4 1012.5L1090.8 1014.0L1091.3 1015.2L1091.9 1016.2L1092.4 1017.1L1092.9 1018.3L1093.5 1019.7L1094.0 1020.9L1094.6 1022.2L1095.1 1023.5L1095.6 1024.5L1096.2 1025.8L1096.8 1027.0L1097.3 1027.8L1097.9 1028.8L1098.5 1030.0L1099.1 1031.1L1099.8 1032.4L1100.6 1033.3L1101.3 1034.0L1102.1 1035.1L1102.8 1036.3L1103.6 1037.1L1104.4 1038.1L1105.2 1039.6L1106.0 1040.6L1106.8 1041.2L1107.7 1041.9L1108.5 1042.9L1109.4 1044.0L1110.4 1044.9L1111.3 1045.5L1112.3 1046.1L1113.3 1047.1L1114.2 1047.7L1115.2 1048.0L1116.3 1048.5L1117.3 1049.1L1118.3 1050.0L1119.4 1051.1L1120.4 1051.8L1121.4 1052.1L1122.4 1052.5L1123.4 1053.2L1124.4 1053.8L1125.4 1054.4L1126.5 1054.9L1127.5 1055.3L1128.6 1056.0L1129.7 1056.7L1130.8 1057.0L1132.0 1057.1L1133.1 1057.9L1134.2 1059.0L1135.3 1059.2L1136.4 1059.2L1137.5 1060.0L1138.6 1061.1L1139.8 1061.5L1141.0 1061.6L1142.2 1061.7L1143.5 1061.9L1144.8 1062.4L1146.2 1063.0L1147.6 1063.1L1148.6 1063.2L1149.7 1063.3L1150.8 1063.6L1151.9 1064.0L1153.0 1064.3L1154.1 1064.9L1155.3 1065.3L1156.4 1065.2L1157.6 1065.3L1158.8 1065.8L1160.1 1066.1L1161.3 1066.0L1162.6 1066.0L1163.9 1066.2L1165.3 1066.4L1166.7 1066.4L1168.1 1066.5L1169.5 1067.0L1170.6 1067.4L1171.7 1067.6L1172.8 1067.5L1174.0 1067.5L1175.1 1067.8L1176.3 1067.7L1177.5 1067.5L1178.7 1067.7L1179.9 1067.8L1181.2 1067.7L1182.4 1067.6L1183.7 1067.6L1185.0 1067.8L1186.3 1068.3L1187.6 1068.5L1188.9 1068.7L1190.2 1068.7L1191.6 1068.7L1192.9 1068.7L1194.3 1068.6L1195.7 1068.7L1197.1 1068.9L1198.6 1068.9L1200.0 1068.8L1201.1 1068.8L1202.2 1069.0L1203.2 1069.2L1204.2 1069.2L1205.2 1069.3L1206.2 1069.5L1207.2 1069.5L1208.1 1069.4L1209.1 1069.5L1210.1 1069.7L1211.0 1069.8L1212.0 1069.9L1213.0 1069.9L1214.0 1069.8L1215.1 1069.8L1216.2 1070.1L1217.3 1070.3L1218.4 1070.2L1219.6 1070.0L1220.9 1070.3L1222.2 1070.8L1223.5 1071.0L1224.9 1071.1L1226.4 1071.0L1228.0 1070.7L1229.6 1070.8L1231.3 1071.1L1233.1 1070.9L1235.0 1070.6L1236.9 1070.4L1239.0 1070.6L1239.9 1070.9L1240.9 1071.0L1241.9 1071.2L1242.9 1071.4L1244.0 1071.5L1245.1 1071.4L1246.3 1071.5L1247.4 1071.6L1248.6 1071.4L1249.9 1071.2L1251.1 1071.2L1252.4 1071.4L1253.7 1071.4L1255.0 1071.3L1256.4 1071.3L1257.7 1071.4L1259.1 1071.5L1260.5 1071.4L1261.9 1071.5L1263.4 1071.5L1264.8 1071.4L1266.3 1071.4L1267.8 1071.6L1269.3 1071.7L1270.8 1071.7L1272.3 1071.8L1273.8 1071.7L1275.3 1071.4L1276.9 1071.6L1278.4 1072.0L1279.9 1072.1L1281.5 1071.9L1283.0 1071.9L1284.6 1072.1L1286.1 1072.0L1287.6 1071.7L1289.2 1071.9L1290.7 1072.0L1292.2 1071.8L1293.7 1071.9L1295.2 1072.0L1296.7 1071.8L1298.2 1072.0L1299.7 1072.1L1301.2 1072.1L1302.6 1071.9L1304.1 1071.8L1305.5 1072.2L1306.9 1072.2L1308.2 1072.3L1309.6 1072.3L1310.9 1072.4L1312.3 1072.7L1313.5 1072.7L1314.8 1072.6L1316.1 1072.5L1317.3 1072.6L1318.4 1072.5L1319.6 1072.2L1320.7 1072.4L1321.8 1072.5L1322.9 1072.6L1323.9 1072.6L1324.9 1072.5L1325.8 1072.7L1326.8 1072.8L1327.6 1072.5L1328.5 1072.1L1329.3 1072.1L1330.0 1072.5L1330.7 1072.8L1331.4 1072.7" fill="none" stroke="#ff0080" stroke-width="2.6" stroke-linejoin="round" stroke-linecap="round"/>
<path d="M742.6 1142.2L743.3 1142.2L744.0 1142.3L744.8 1142.4L745.6 1142.4L746.5 1142.2L747.5 1142.0L748.5 1141.9L749.5 1141.7L750.6 1141.6L751.8 1141.5L753.0 1141.4L754.2 1141.5L755.4 1141.3L756.7 1140.8L758.0 1140.7L759.4 1140.5L760.7 1140.2L762.1 1140.0L763.5 1139.8L765.0 1139.8L766.4 1139.8L767.9 1139.7L769.4 1139.4L770.9 1139.3L772.4 1139.2L773.9 1138.9L775.4 1138.7L776.9 1138.4L778.5 1138.1L780.0 1138.2L781.5 1138.0L783.0 1137.8L784.5 1137.9L786.0 1137.7L787.5 1137.2L789.0 1136.9L790.4 1136.8L791.8 1136.6L793.3 1136.4L794.6 1136.4L796.0 1136.2L797.3 1136.0L798.6 1135.8L799.9 1135.6L801.1 1135.3L802.3 1135.1L803.5 1135.0L804.6 1135.0L805.7 1135.0L807.3 1134.8L808.9 1134.3L810.4 1134.1L812.0 1134.2L813.5 1134.1L814.9 1133.7L816.4 1133.3L817.8 1133.2L819.2 1133.3L820.6 1133.1L822.0 1132.7L823.3 1132.4L824.6 1132.2L825.9 1132.1L827.2 1131.9L828.4 1131.7L829.7 1131.6L830.9 1131.4L832.1 1131.1L833.2 1130.7L834.4 1130.5L835.5 1130.3L836.6 1130.0L837.7 1129.9L838.8 1130.0L839.9 1129.9L841.0 1129.3L842.0 1129.1L843.0 1129.1L844.0 1129.1L845.0 1129.1L846.0 1128.8L847.7 1128.3L849.3 1128.1L850.9 1127.8L852.4 1127.3L853.9 1126.7L855.3 1126.6L856.7 1126.4L858.0 1125.9L859.2 1125.3L860.4 1124.7L861.5 1124.3L862.6 1124.1L863.6 1124.1L864.6 1123.8L865.5 1123.4L866.4 1123.1L867.2 1122.8L868.0 1122.4L870.1 1121.7L871.2 1121.2L871.8 1120.7L872.2 1120.3L873.0 1119.9L874.1 1119.4L875.1 1118.7L876.2 1117.8L877.3 1117.0L878.4 1116.5L879.3 1116.2L880.3 1115.6L881.3 1114.9L882.2 1114.5L883.1 1113.9L884.0 1113.2L885.1 1112.7L886.1 1112.3L887.1 1111.9L888.2 1111.4L889.3 1110.9L890.4 1110.5L891.7 1110.4L892.9 1110.5L894.0 1110.7L895.3 1110.6L896.6 1110.3L897.9 1110.1L899.1 1109.9L900.3 1109.8L901.5 1109.6L902.7 1109.3L904.0 1108.9L905.1 1108.4L906.2 1107.7L907.3 1107.0L908.5 1106.3L909.5 1105.9L910.7 1105.7L911.8 1105.3L912.9 1105.0L914.0 1105.1L915.2 1105.1L916.3 1105.0L917.6 1105.1L918.9 1105.0L919.8 1104.6L920.7 1103.9L921.6 1103.2L922.6 1102.5L923.7 1102.1L925.0 1101.6L925.9 1101.3L926.9 1100.8L928.0 1100.2L929.1 1099.4L930.2 1098.5L931.4 1098.1L932.6 1097.6L933.8 1096.6L935.0 1095.8L936.0 1095.3L936.9 1094.8L937.8 1094.3L938.7 1094.0L939.7 1093.6L940.7 1093.1L941.7 1092.5L942.8 1091.7L944.1 1090.4L945.4 1089.3L946.9 1088.1L947.6 1087.5L948.2 1086.7L948.9 1085.9L949.7 1085.2L950.4 1084.8L951.2 1083.9L952.0 1082.8L952.8 1081.9L953.6 1081.2L954.4 1080.7L955.3 1079.8L956.1 1078.7L957.0 1077.8L957.9 1077.1L958.7 1076.2L959.6 1074.9L960.5 1074.0L961.4 1073.0L962.4 1071.8L963.3 1070.5L964.2 1068.9L965.1 1067.7L966.0 1066.9L966.9 1065.8L967.8 1064.5L968.7 1063.2L969.6 1062.0L970.2 1061.1L970.8 1060.1L971.4 1059.1L972.1 1058.1L972.7 1057.0L973.3 1056.0L974.0 1055.1L974.6 1054.3L975.2 1053.2L975.9 1051.8L976.6 1050.6L977.2 1049.8L977.9 1048.8L978.5 1047.5L979.2 1046.4L979.9 1045.1L980.5 1043.8L981.2 1042.7L981.9 1041.4L982.5 1040.1L983.2 1039.0L983.8 1037.8L984.5 1036.6L985.1 1035.6L985.8 1034.5L986.4 1033.1L987.1 1031.6L987.7 1030.5L988.3 1029.5L989.0 1028.3L989.6 1027.1L990.2 1025.8L990.8 1024.6L991.4 1023.6L992.0 1022.3L992.6 1020.9L993.1 1019.8L993.7 1018.7L994.3 1017.6L994.8 1016.5L995.3 1015.3L995.9 1014.2L996.4 1012.8L996.9 1011.3L997.4 1010.2L998.0 1009.3L998.5 1008.1L999.0 1006.7L999.5 1005.6L1000.0 1004.5L1000.5 1003.1L1001.0 1001.7L1001.5 1000.5L1002.0 999.5L1002.4 998.5L1002.9 997.2L1003.4 995.8L1003.8 994.5L1004.3 993.4L1004.8 992.1L1005.2 990.8L1005.6 989.5L1006.1 988.0L1006.5 986.7L1006.9 985.7L1007.4 984.6L1007.8 983.5L1008.2 982.4L1008.6 981.0L1009.0 979.7L1009.4 978.7L1009.7 977.5L1010.1 976.4L1010.5 975.3L1010.8 974.2L1011.2 972.8L1011.5 971.5L1011.9 970.6L1012.2 969.7L1012.5 968.6L1012.9 966.8L1013.3 965.4L1013.7 964.2L1014.0 962.8L1014.4 961.5L1014.7 960.1L1015.0 958.3L1015.3 956.8L1015.6 955.7L1015.9 954.4L1016.2 952.9L1016.4 951.6L1016.7 950.2L1016.9 948.8L1017.1 947.5L1017.4 946.0L1017.6 944.8L1017.8 943.9L1018.0 942.7L1018.2 941.3L1018.4 940.0L1018.6 939.0L1018.7 937.9L1018.9 936.5L1019.1 935.2L1019.3 934.2L1019.5 933.2L1019.6 932.3L1019.8 931.4L1020.0 930.3L1020.3 928.4L1020.6 926.5L1020.9 924.9L1021.2 923.4L1021.5 922.0L1021.7 920.6L1021.9 919.2L1022.1 918.1L1022.3 917.1L1022.5 916.0L1022.7 914.6L1022.9 913.4L1023.0 912.4L1023.2 911.5L1023.3 910.7L1023.5 910.0L1024.0 907.4L1024.3 906.8L1024.9 907.1L1025.8 907.9L1027.0 909.0L1028.5 908.7L1029.1 907.8L1029.7 906.9L1030.4 905.9L1031.2 904.8L1031.9 903.5L1032.7 902.1L1033.4 900.7L1034.0 899.8L1034.6 899.2L1035.2 897.9L1035.6 896.4L1036.0 895.2L1036.4 894.2L1036.8 893.2L1037.2 892.2L1037.6 891.2L1038.0 890.0L1038.5 888.9L1039.0 887.6L1039.5 886.1L1040.0 884.9L1040.5 883.8L1041.0 882.5L1041.5 881.3L1042.0 880.4L1042.8 878.9L1043.6 877.9L1044.4 877.3L1045.2 876.7L1046.0 876.1L1047.1 875.4L1048.3 874.7L1049.4 874.1L1050.4 874.0L1051.5 874.5L1052.5 875.4L1053.5 876.5L1054.0 876.8L1054.5 876.8L1055.0 877.1L1055.6 878.5L1056.5 881.7L1056.7 882.4L1056.9 883.1L1057.1 883.9L1057.3 884.9L1057.5 885.9L1057.7 887.1L1058.0 888.2L1058.2 889.2L1058.5 890.4L1058.7 891.6L1059.0 892.7L1059.3 893.9L1059.5 895.1L1059.8 896.6L1060.1 898.2L1060.4 899.5L1060.6 900.9L1060.9 902.5L1061.2 903.8L1061.5 905.2L1061.7 906.9L1062.0 908.3L1062.3 909.4L1062.5 910.8L1062.8 912.4L1063.1 913.7L1063.3 915.0L1063.6 916.4L1063.8 918.0L1064.0 919.3L1064.2 920.4L1064.4 921.5L1064.6 922.6L1064.8 923.7L1065.0 925.2L1065.2 926.8L1065.4 928.0L1065.6 929.2L1065.8 930.8L1066.0 932.2L1066.2 933.3L1066.4 934.7L1066.6 936.2L1066.8 937.5L1067.0 938.8L1067.2 940.0L1067.4 941.2L1067.6 942.5L1067.8 943.8L1068.0 945.0L1068.2 946.6L1068.4 948.1L1068.6 949.4L1068.7 950.5L1068.9 951.6L1069.1 952.9L1069.3 954.2L1069.5 955.3L1069.7 956.5L1069.8 957.8L1070.0 958.9L1070.2 959.9L1070.4 961.4L1070.7 963.0L1070.9 964.5L1071.1 965.5L1071.3 966.7L1071.5 968.1L1071.7 969.5L1071.9 970.9L1072.1 972.3L1072.3 973.6L1072.5 974.7L1072.7 975.8L1072.9 977.0L1073.1 978.1L1073.3 979.3L1073.5 980.8L1073.7 981.9L1073.9 982.7L1074.2 984.0L1074.4 985.5L1074.6 986.7L1074.8 987.7L1075.1 988.6L1075.3 989.7L1075.6 991.0L1075.9 992.6L1076.1 993.9L1076.4 995.0L1076.7 996.0L1077.0 997.2L1077.3 998.7L1077.6 1000.0L1077.9 1001.3L1078.3 1002.7L1078.6 1004.0L1078.9 1005.3L1079.2 1006.6L1079.6 1008.0L1079.9 1009.3L1080.2 1010.5L1080.6 1011.6L1080.9 1012.7L1081.2 1014.0L1081.6 1015.4L1081.9 1016.7L1082.2 1017.9L1082.5 1019.0L1082.9 1020.2L1083.2 1021.5L1083.5 1022.7L1083.8 1024.2L1084.2 1025.3L1084.5 1026.3L1084.9 1027.7L1085.2 1029.2L1085.5 1030.4L1085.9 1031.6L1086.2 1032.9L1086.6 1034.3L1086.9 1035.6L1087.2 1036.7L1087.6 1037.9L1087.9 1039.2L1088.3 1040.5L1088.6 1041.7L1088.9 1042.7L1089.3 1043.8L1089.6 1045.2L1089.9 1046.6L1090.3 1047.7L1090.6 1048.5L1091.0 1049.2L1091.3 1050.5L1091.7 1051.9L1092.2 1053.2L1092.6 1054.8L1093.0 1056.1L1093.5 1057.0L1093.9 1058.2L1094.3 1059.5L1094.8 1060.7L1095.2 1062.0L1095.6 1063.3L1096.1 1064.6L1096.5 1065.7L1096.9 1066.7L1097.4 1068.0L1097.8 1069.2L1098.2 1070.2L1098.7 1071.4L1099.1 1072.9L1099.6 1074.2L1100.0 1075.2L1100.5 1076.1L1100.9 1077.3L1101.4 1078.7L1101.9 1079.9L1102.3 1081.2L1102.8 1082.4L1103.2 1083.4L1103.7 1084.4L1104.1 1085.7L1104.6 1086.7L1105.1 1087.7L1105.5 1088.9L1106.0 1090.1L1106.4 1090.9L1106.9 1091.8L1107.5 1093.2L1108.1 1094.5L1108.6 1095.8L1109.2 1097.0L1109.8 1098.1L1110.3 1099.3L1110.9 1100.4L1111.5 1101.6L1112.1 1102.8L1112.7 1103.8L1113.3 1104.7L1114.0 1105.6L1114.7 1106.5L1115.4 1107.5L1116.1 1108.8L1116.8 1109.8L1117.6 1110.5L1118.3 1111.3L1119.1 1112.1L1119.9 1113.0L1120.7 1113.9L1121.5 1114.8L1122.4 1115.7L1123.2 1116.9L1124.0 1117.9L1124.9 1118.7L1125.7 1119.6L1126.7 1120.8L1127.7 1121.6L1128.6 1122.1L1129.6 1122.9L1130.6 1123.7L1131.7 1124.7L1132.7 1125.8L1133.7 1126.4L1134.8 1126.8L1135.9 1127.4L1137.0 1128.1L1138.2 1128.8L1139.2 1129.5L1140.2 1130.0L1141.2 1130.4L1142.2 1130.8L1143.3 1131.3L1144.3 1131.9L1145.4 1132.6L1146.5 1133.1L1147.6 1133.4L1148.8 1133.8L1150.0 1134.2L1151.2 1134.7L1152.5 1135.0L1153.9 1135.2L1155.0 1135.5L1156.0 1135.7L1157.2 1136.0L1158.3 1136.5L1159.5 1136.7L1160.7 1136.9L1162.0 1137.4L1163.2 1137.6L1164.5 1137.5L1165.8 1137.5L1167.1 1137.9L1168.4 1138.4L1169.7 1138.6L1171.0 1138.9L1172.3 1139.0L1173.6 1139.2L1174.8 1139.5L1176.1 1139.7L1177.3 1139.9L1178.6 1140.2L1179.8 1140.5L1180.9 1140.7L1182.1 1140.9L1183.2 1141.1L1184.3 1141.1L1185.4 1141.2L1186.5 1141.5L1187.7 1141.9L1188.8 1141.8L1190.0 1141.5L1191.3 1141.6L1192.5 1141.7L1193.9 1141.9L1195.3 1142.1L1196.8 1142.1L1198.3 1142.1L1200.0 1142.2L1201.0 1142.4L1202.0 1142.5L1202.9 1142.4L1203.8 1142.5L1204.8 1142.6L1205.7 1142.8L1206.6 1143.1L1207.6 1143.2L1208.5 1143.1L1209.5 1143.2L1210.5 1143.5L1211.5 1143.6L1212.5 1143.6L1213.5 1143.7L1214.6 1143.7L1215.7 1143.8L1216.8 1143.9L1218.0 1143.6L1219.3 1143.6L1220.6 1143.9L1221.9 1143.8L1223.3 1143.7L1224.7 1144.1L1226.3 1144.4L1227.8 1144.3L1229.5 1144.3L1231.2 1144.5L1233.0 1144.5L1234.9 1144.3L1236.9 1144.1L1239.0 1144.3L1239.9 1144.6L1240.9 1144.8L1241.9 1145.0L1242.9 1145.1L1244.0 1145.0L1245.1 1144.9L1246.3 1144.7L1247.4 1144.8L1248.6 1145.1L1249.9 1145.2L1251.1 1145.2L1252.4 1145.1L1253.7 1144.9L1255.0 1144.8L1256.4 1144.7L1257.7 1144.9L1259.1 1145.1L1260.5 1145.1L1261.9 1145.5L1263.4 1145.5L1264.8 1145.5L1266.3 1145.7L1267.8 1145.8L1269.3 1145.7L1270.8 1145.5L1272.3 1145.4L1273.8 1145.4L1275.3 1145.5L1276.9 1145.5L1278.4 1145.4L1279.9 1145.4L1281.5 1145.6L1283.0 1145.6L1284.6 1145.5L1286.1 1145.6L1287.6 1145.7L1289.2 1145.8L1290.7 1145.9L1292.2 1146.0L1293.7 1145.8L1295.2 1145.7L1296.7 1146.0L1298.2 1146.4L1299.7 1146.3L1301.2 1146.2L1302.6 1146.2L1304.1 1146.1L1305.5 1146.1L1306.9 1146.1L1308.2 1146.1L1309.6 1146.3L1310.9 1146.4L1312.3 1146.6L1313.5 1146.8L1314.8 1146.8L1316.1 1146.7L1317.3 1146.6L1318.4 1146.7L1319.6 1146.6L1320.7 1146.5L1321.8 1146.6L1322.9 1146.7L1323.9 1146.8L1324.9 1146.7L1325.8 1146.8L1326.8 1146.8L1327.6 1146.8L1328.5 1147.0L1329.3 1147.0L1330.0 1146.8L1330.7 1146.6L1331.4 1146.4" fill="none" stroke="#000090" stroke-width="2.6" stroke-linejoin="round" stroke-linecap="round"/>
<line x1="376" y1="58.2" x2="441.6" y2="58.2" stroke="#ff0000" stroke-width="2.6"/>
<line x1="376" y1="95.2" x2="441.6" y2="95.2" stroke="#000090" stroke-width="2.6"/>
<line x1="376" y1="131.3" x2="441.6" y2="131.3" stroke="#0000ff" stroke-width="2.6"/>
<text x="449.5" y="68.9" font-size="29.7" text-anchor="start" font-weight="normal" fill="#000">ZnO-200-vac</text>
<text x="449.5" y="104.6" font-size="29.7" text-anchor="start" font-weight="normal" fill="#000">ZnO-RT-vac</text>
<text x="449.5" y="140.7" font-size="29.7" text-anchor="start" font-weight="normal" fill="#000">ZnO-200</text>
<line x1="1087" y1="50.8" x2="1157" y2="50.8" stroke="#ff0000" stroke-width="2.6"/>
<line x1="1087" y1="89.2" x2="1157" y2="89.2" stroke="#0000ff" stroke-width="2.6"/>
<text x="1165.0" y="61.7" font-size="30.3" text-anchor="start" font-weight="normal" fill="#000">ZnO-200-vac</text>
<text x="1165.0" y="100.2" font-size="30.3" text-anchor="start" font-weight="normal" fill="#000">ZnO-200</text>
<text x="11.0" y="31.6" font-size="40" text-anchor="start" font-weight="bold" fill="#000">a</text>
<text x="737.5" y="36.4" font-size="40" text-anchor="start" font-weight="bold" fill="#000">b</text>
<text x="13.0" y="688.0" font-size="40" text-anchor="start" font-weight="bold" fill="#000">c</text>
<text x="739.0" y="694.3" font-size="40" text-anchor="start" font-weight="bold" fill="#000">d</text>
<text transform="translate(327.7 23.0) scale(1 1.030)" font-size="31.5" text-anchor="middle" font-weight="normal" fill="#000">0.9</text>
<text transform="translate(167.3 268.0) scale(1 1.050)" font-size="30.8" text-anchor="middle" font-weight="normal" fill="#000">8.4</text>
<text x="1047.6" y="696.6" font-size="31.5" text-anchor="middle" font-weight="normal" fill="#000">0.9</text>
<text x="890.2" y="938.2" font-size="30.3" text-anchor="middle" font-weight="normal" fill="#000">8.4</text>
<text x="952.0" y="40.0" font-size="31.3" text-anchor="middle" font-weight="normal" fill="#000">Oxygen vacancy</text>
<text x="243.1" y="684.6" font-size="31.0" text-anchor="middle" font-weight="normal" fill="#000">Oxygen vacancy</text>
<text transform="translate(315.2 598.6)" font-size="31.8" text-anchor="middle"><tspan font-size="18.1" dy="-13.5">1</tspan><tspan dy="13.5">H Shift / ppm</tspan></text>
<text transform="translate(1036.5 1270.8)" font-size="31.1" text-anchor="middle"><tspan font-size="17.7" dy="-13.5">1</tspan><tspan dy="13.5">H Shift / ppm</tspan></text>
<text transform="translate(989.8 603.0)" font-size="32.3" text-anchor="start">B<tspan font-size="19.4" dy="11">0</tspan><tspan dy="-11">/mT</tspan></text>
<text transform="translate(281.4 1266.6)" font-size="31.4" text-anchor="start">B<tspan font-size="18.8" dy="11">0</tspan><tspan dy="-11">/mT</tspan></text>
<text x="538.8" y="746.8" font-size="30.4" text-anchor="middle" font-weight="normal" fill="#000">(ZnO-300-vac)</text>
<text x="537.6" y="778.4" font-size="30.4" text-anchor="middle" font-weight="normal" fill="#000">-SW</text>
<text x="547.5" y="937.1" font-size="30.4" text-anchor="middle" font-weight="normal" fill="#000">ZnO-RT-vac</text>
<text x="540.3" y="1004.8" font-size="30.4" text-anchor="middle" font-weight="normal" fill="#000">(ZnO-300-vac)</text>
<text x="538.8" y="1036.9" font-size="30.4" text-anchor="middle" font-weight="normal" fill="#000">-LW</text>
<text x="1226.8" y="937.6" font-size="30.4" text-anchor="middle" font-weight="normal" fill="#000">(ZnO-300-vac)</text>
<text x="1226.7" y="971.8" font-size="30.4" text-anchor="middle" font-weight="normal" fill="#000">-SW-200-vac</text>
<text x="1232.3" y="1026.7" font-size="30.4" text-anchor="middle" font-weight="normal" fill="#000">(ZnO-RT-vac)</text>
<text x="1207.8" y="1058.6" font-size="30.4" text-anchor="middle" font-weight="normal" fill="#000">-200-vac</text>
<text x="1235.9" y="1098.6" font-size="30.4" text-anchor="middle" font-weight="normal" fill="#000">(ZnO-300-vac)</text>
<text x="1235.4" y="1130.9" font-size="30.4" text-anchor="middle" font-weight="normal" fill="#000">-LW-200-vac</text>
<path d="M132.6 215.1 L162.9 232.2 L170.9 207.1 A109.5 68.5 0 1 0 132.6 215.1" fill="none" stroke="#808080" stroke-width="3.6" stroke-dasharray="11.7 4.1"/><text x="118.7" y="121.6" font-size="30" text-anchor="middle" font-weight="normal" fill="#000">Related to</text><text x="118.7" y="157.2" font-size="29.8" text-anchor="middle" font-weight="normal" fill="#000">oxygen</text><text x="118.7" y="192.8" font-size="29.6" text-anchor="middle" font-weight="normal" fill="#000">vacancy</text>
<path d="M858.1 887.5 L888.4 904.6 L896.4 879.5 A109.5 68.5 0 1 0 858.1 887.5" fill="none" stroke="#808080" stroke-width="3.6" stroke-dasharray="11.7 4.1"/><text x="844.2" y="794.0" font-size="30" text-anchor="middle" font-weight="normal" fill="#000">Related to</text><text x="844.2" y="829.6" font-size="29.8" text-anchor="middle" font-weight="normal" fill="#000">oxygen</text><text x="844.2" y="865.2" font-size="29.6" text-anchor="middle" font-weight="normal" fill="#000">vacancy</text>
<rect x="866.6" y="947.1" width="45.3" height="174.3" fill="none" stroke="#ff0000" stroke-width="2.8" stroke-dasharray="3.7 6.669"/>
</svg></body></html>
